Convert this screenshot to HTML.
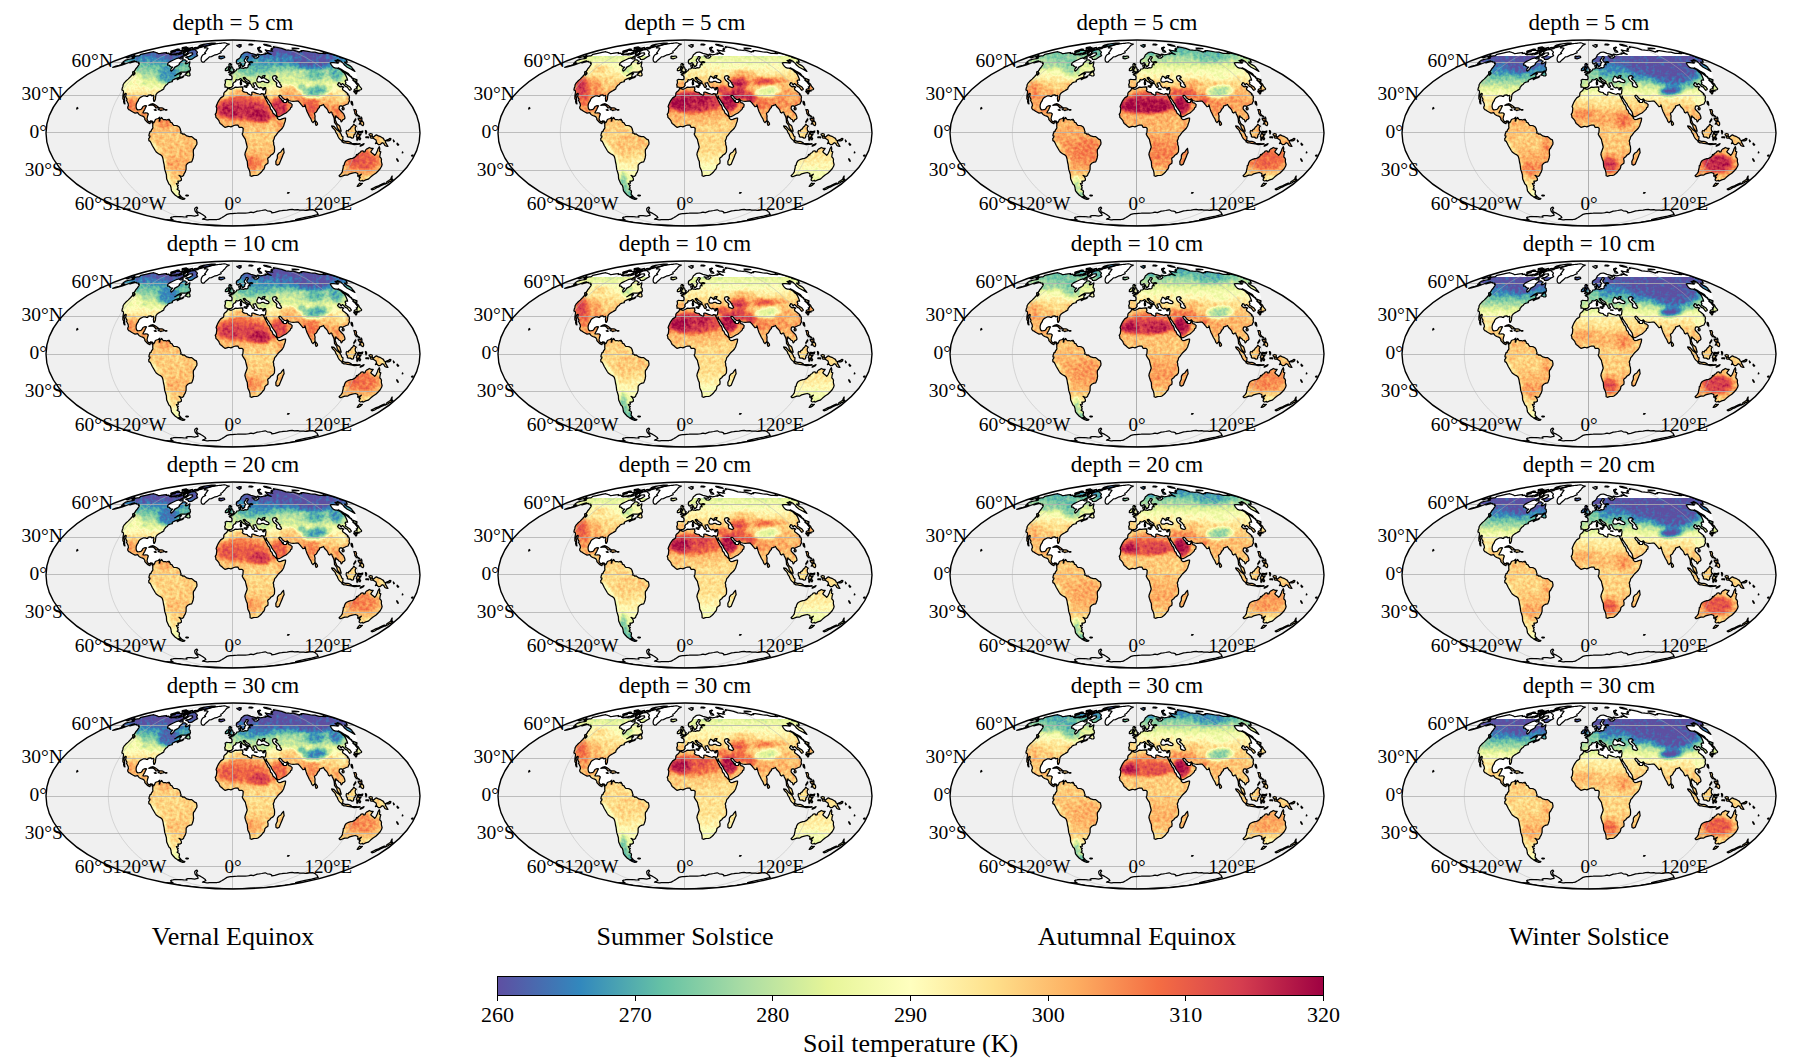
<!DOCTYPE html><html><head><meta charset="utf-8"><title>Soil temperature</title><style>html,body{margin:0;padding:0;background:#fff}svg{display:block}text{font-family:"Liberation Serif","Times New Roman",serif;fill:#000}</style></head><body>
<svg width="1794" height="1063" viewBox="0 0 1794 1063">
<defs>
<path id="land" d="M-100.0 -76.2L-95.7 -77.1L-94.2 -77.1L-92.9 -78.0L-92.2 -78.7L-87.2 -79.7L-83.0 -80.6L-79.1 -81.3L-78.1 -80.8L-77.0 -80.5L-75.9 -80.2L-75.2 -79.8L-74.4 -79.3L-72.4 -79.6L-69.0 -80.2L-66.6 -80.5L-66.9 -79.7L-64.3 -79.9L-63.7 -79.2L-63.3 -78.6L-61.8 -78.2L-59.8 -78.7L-58.1 -78.4L-56.9 -78.1L-54.7 -78.4L-52.9 -78.9L-50.8 -79.7L-47.2 -81.7L-47.5 -81.0L-48.9 -79.7L-49.6 -78.9L-49.4 -78.2L-48.3 -78.4L-45.6 -79.8L-44.0 -79.8L-44.9 -78.9L-47.3 -77.3L-49.2 -76.8L-50.7 -76.8L-52.8 -75.5L-55.0 -74.8L-56.9 -74.3L-60.1 -72.8L-62.9 -71.4L-65.1 -69.7L-65.5 -68.4L-65.5 -67.9L-63.9 -67.9L-63.2 -66.9L-62.1 -66.2L-60.3 -66.0L-62.2 -63.8L-62.3 -62.5L-61.8 -61.8L-60.3 -62.9L-58.7 -64.8L-58.5 -65.6L-55.8 -67.1L-53.8 -68.4L-53.6 -69.7L-51.6 -71.4L-50.1 -73.1L-48.4 -73.1L-47.5 -72.8L-46.9 -72.1L-45.9 -71.9L-47.7 -69.9L-47.2 -69.2L-45.4 -69.7L-43.1 -71.2L-43.3 -69.7L-43.7 -67.9L-44.0 -66.4L-42.8 -65.4L-42.8 -64.3L-42.5 -63.2L-42.9 -62.5L-44.6 -62.0L-47.2 -60.8L-49.5 -60.8L-52.3 -60.8L-54.7 -59.5L-56.9 -57.9L-58.2 -57.2L-56.3 -58.2L-53.5 -59.5L-51.8 -59.7L-51.5 -59.3L-53.1 -58.2L-53.0 -57.3L-53.3 -56.4L-52.3 -56.0L-51.0 -56.0L-49.2 -57.1L-49.5 -56.2L-50.9 -55.4L-53.4 -54.6L-55.7 -53.4L-55.9 -54.2L-53.8 -55.4L-55.1 -55.3L-56.2 -54.8L-58.4 -53.9L-60.2 -53.0L-60.9 -52.2L-60.6 -51.3L-62.1 -51.0L-63.6 -50.6L-64.8 -50.0L-65.6 -48.8L-67.1 -47.8L-68.4 -46.1L-69.0 -45.3L-69.2 -44.0L-70.7 -43.1L-72.2 -42.2L-73.7 -41.4L-75.7 -40.1L-77.0 -38.4L-77.4 -36.1L-77.6 -33.7L-78.5 -31.7L-79.3 -31.8L-79.4 -33.1L-79.6 -34.9L-79.1 -36.4L-79.5 -37.6L-81.2 -37.2L-82.0 -38.1L-83.9 -37.9L-85.0 -37.7L-85.3 -36.5L-86.4 -36.6L-87.6 -37.1L-89.3 -37.2L-90.8 -36.5L-92.9 -35.4L-94.2 -33.9L-94.9 -32.1L-96.1 -30.3L-96.8 -28.2L-96.9 -26.2L-96.5 -24.3L-95.4 -23.2L-93.5 -23.3L-92.0 -23.6L-90.9 -24.7L-90.0 -26.5L-87.9 -27.3L-86.4 -27.2L-87.5 -25.3L-88.3 -23.4L-89.1 -22.2L-90.1 -20.2L-88.8 -20.0L-87.2 -20.2L-85.7 -20.0L-84.7 -19.0L-85.5 -16.5L-86.0 -14.0L-85.4 -12.7L-84.7 -11.7L-83.5 -11.2L-82.2 -12.2L-80.9 -12.0L-79.9 -10.9L-80.4 -9.4L-80.9 -10.4L-81.7 -11.5L-82.6 -10.6L-83.1 -9.3L-84.2 -9.8L-85.5 -10.6L-86.3 -11.3L-87.3 -12.5L-88.2 -13.4L-88.1 -14.4L-89.3 -16.4L-90.4 -16.8L-92.3 -17.5L-94.0 -18.5L-95.3 -20.4L-97.9 -19.9L-99.7 -20.8L-101.5 -21.7L-102.8 -22.7L-104.2 -23.4L-105.2 -24.7L-105.3 -26.0L-104.6 -27.3L-104.8 -29.3L-105.6 -31.0L-106.4 -32.5L-106.0 -33.9L-106.8 -35.1L-107.4 -36.4L-107.0 -38.2L-106.7 -39.1L-107.8 -39.7L-108.9 -37.6L-108.7 -35.8L-108.5 -34.5L-108.3 -32.5L-108.4 -30.6L-108.0 -29.1L-108.7 -29.3L-109.4 -31.2L-109.2 -32.7L-110.1 -34.3L-110.1 -35.1L-110.1 -37.0L-109.9 -38.5L-109.5 -40.6L-109.6 -42.1L-110.3 -42.7L-111.1 -43.0L-110.7 -45.1L-110.1 -46.6L-109.9 -48.2L-109.0 -49.8L-107.3 -51.7L-104.9 -53.9L-102.3 -56.5L-100.5 -58.7L-99.1 -58.7L-99.7 -57.8L-98.1 -59.3L-98.0 -59.9L-98.4 -60.6L-99.0 -61.6L-97.8 -63.0L-97.2 -64.3L-96.0 -65.5L-95.1 -66.9L-94.0 -68.4L-93.7 -69.4L-94.6 -69.7L-94.0 -70.6L-95.1 -70.9L-96.6 -71.0L-96.6 -71.7L-98.1 -71.6L-100.4 -70.8L-102.9 -70.2L-103.4 -70.2L-100.7 -71.4L-98.5 -72.1L-100.6 -71.7L-104.0 -70.5L-106.5 -69.5L-110.5 -68.2L-114.0 -67.1L-117.6 -66.2L-120.3 -65.6L-117.1 -66.8L-113.8 -67.7L-110.2 -68.9L-108.1 -69.7L-109.7 -69.5L-110.4 -69.7L-111.4 -69.7L-109.2 -70.7L-110.1 -70.8L-109.4 -71.6L-107.9 -72.6L-104.7 -73.6L-102.6 -74.0L-100.4 -74.4L-98.4 -75.2L-99.6 -75.2L-100.8 -75.2L-100.0 -75.9ZM-35.8 -77.1L-38.3 -75.7L-41.1 -73.8L-43.1 -73.3L-44.4 -73.6L-44.8 -74.5L-45.5 -75.2L-47.3 -75.5L-46.2 -76.1L-43.6 -76.6L-41.3 -78.0L-40.2 -78.9L-40.7 -79.3L-40.6 -80.2L-41.6 -80.2L-42.9 -80.0L-44.8 -80.2L-45.6 -80.6L-45.7 -81.0L-43.6 -82.3L-41.6 -83.1L-39.2 -83.3L-37.4 -83.3L-37.3 -82.6L-36.6 -82.1L-35.9 -81.3L-35.6 -80.3L-36.4 -79.3L-36.0 -78.2L-35.3 -77.8ZM-54.0 -79.9L-57.0 -79.3L-59.1 -79.0L-61.0 -78.9L-61.9 -79.3L-62.6 -79.5L-61.6 -80.2L-60.5 -80.8L-57.7 -81.4L-58.2 -81.8L-56.8 -82.5L-54.1 -82.9L-53.2 -82.5L-51.0 -82.8L-50.0 -82.7L-51.5 -81.8L-52.0 -81.0L-52.9 -80.3ZM-61.9 -81.8L-57.5 -83.2L-55.7 -83.8L-53.9 -83.9L-53.6 -83.6L-54.6 -82.9L-57.0 -82.5L-60.7 -81.4L-62.3 -81.2ZM-17.4 -89.5L-17.7 -89.8L-18.4 -89.9L-19.1 -89.9L-20.3 -89.9L-21.5 -89.8L-23.0 -89.6L-24.6 -89.4L-26.8 -89.1L-30.1 -88.3L-32.2 -87.9L-33.9 -87.2L-33.7 -86.7L-32.3 -86.9L-35.3 -85.8L-35.1 -85.3L-33.2 -85.3L-31.3 -85.8L-29.7 -86.4L-27.0 -87.2L-24.7 -87.6L-22.3 -88.3L-19.5 -88.9ZM-35.2 -84.3L-38.2 -83.9L-40.2 -83.9L-40.4 -84.3L-38.6 -85.3L-36.6 -85.6L-35.8 -85.0L-34.4 -84.9ZM-46.1 -81.8L-48.7 -81.4L-49.3 -81.8L-48.5 -82.7L-45.8 -83.5L-44.0 -83.5L-44.7 -82.7ZM-46.2 -84.3L-49.2 -83.9L-50.5 -84.1L-50.3 -84.7L-47.5 -85.3L-45.4 -85.3L-44.6 -85.0ZM-50.3 -74.3L-52.2 -74.0L-53.5 -74.5L-53.2 -75.2L-50.7 -76.1L-50.1 -75.7L-49.7 -75.0ZM-48.1 -57.9L-46.4 -57.8L-45.5 -57.2L-43.9 -57.0L-42.9 -57.8L-43.0 -58.9L-43.3 -60.0L-43.9 -60.8L-43.0 -62.2L-44.3 -61.6L-46.0 -60.0L-47.4 -58.9ZM-99.4 -58.8L-100.2 -59.1L-100.4 -60.0L-100.1 -61.3L-99.1 -61.4L-98.7 -60.4L-98.8 -59.6ZM-84.2 -27.7L-81.9 -29.0L-79.9 -29.3L-78.2 -28.4L-76.5 -27.3L-75.2 -26.3L-74.1 -25.5L-75.5 -25.2L-77.5 -25.2L-77.8 -26.2L-79.0 -27.3L-80.7 -28.0L-82.3 -27.9ZM-74.8 -23.3L-73.3 -25.2L-71.5 -25.2L-70.1 -24.9L-68.7 -23.7L-69.9 -23.2L-71.5 -22.9L-72.3 -22.4L-73.3 -23.1ZM-78.8 -23.2L-77.4 -23.4L-76.7 -22.8L-77.8 -22.6ZM-67.6 -23.3L-66.1 -23.3L-66.3 -22.8L-67.7 -22.8ZM-79.9 -10.9L-79.3 -10.2L-78.3 -11.8L-77.6 -13.5L-76.5 -14.0L-74.9 -14.5L-73.2 -15.8L-73.7 -14.2L-73.5 -13.0L-73.8 -11.8L-73.1 -12.1L-73.2 -13.7L-71.8 -14.6L-71.5 -15.5L-70.6 -14.5L-69.9 -13.5L-67.8 -13.5L-66.4 -13.0L-64.7 -13.6L-63.6 -13.6L-64.1 -12.7L-62.8 -12.1L-62.7 -10.8L-60.9 -10.2L-60.3 -8.8L-59.2 -7.6L-57.0 -7.5L-55.4 -7.1L-53.7 -5.9L-52.9 -4.5L-52.4 -2.5L-51.9 -1.0L-52.6 -0.0L-50.9 0.3L-50.4 1.1L-48.8 0.9L-46.2 2.9L-43.6 3.6L-41.5 3.6L-39.9 4.7L-38.4 6.1L-36.6 6.8L-36.0 9.6L-36.2 11.5L-37.5 13.4L-38.4 15.3L-39.6 16.5L-39.7 19.0L-39.4 22.2L-39.8 24.7L-40.6 27.2L-41.3 28.8L-42.9 29.1L-44.3 29.8L-45.6 30.5L-46.8 32.1L-46.9 34.5L-46.9 36.4L-47.7 38.8L-48.8 40.6L-49.5 42.4L-50.6 43.3L-52.3 43.0L-54.0 42.4L-52.5 43.9L-51.7 45.3L-51.6 47.3L-53.3 48.1L-55.1 48.2L-54.5 50.2L-56.7 50.5L-55.9 51.9L-54.7 52.4L-55.5 53.4L-54.8 55.1L-55.9 56.2L-53.9 57.5L-53.5 58.4L-53.7 60.0L-54.0 61.1L-52.3 63.0L-53.0 63.1L-53.7 63.5L-54.2 64.1L-55.8 63.5L-57.7 62.2L-59.8 60.0L-61.5 57.8L-61.8 56.2L-62.0 54.5L-62.7 52.2L-64.1 51.1L-65.1 48.8L-66.3 46.1L-66.5 44.1L-66.6 41.8L-67.5 38.8L-68.3 36.4L-68.6 33.9L-68.9 31.5L-69.5 29.0L-70.0 25.9L-70.8 23.2L-72.2 21.9L-74.4 20.7L-76.8 19.0L-77.8 17.5L-79.1 15.3L-80.6 12.7L-81.8 10.2L-82.8 8.4L-84.1 7.6L-84.3 5.7L-83.3 4.3L-83.0 3.2L-84.1 2.8L-83.9 1.3L-83.2 -0.4L-83.1 -1.1L-81.8 -1.9L-81.5 -3.2L-80.4 -4.5L-80.1 -5.4L-80.3 -7.0L-80.1 -8.5L-80.5 -9.2ZM-52.2 63.3L-51.4 64.1L-50.3 64.8L-48.1 65.5L-48.6 66.1L-50.2 66.4L-52.8 65.4L-55.2 64.3L-53.4 64.6L-53.2 63.8L-52.8 64.4L-52.3 64.2ZM-47.2 62.4L-46.1 62.0L-44.6 62.3L-45.1 63.0L-46.5 62.9ZM-5.4 -44.5L-4.8 -44.6L-2.7 -43.9L-1.8 -43.7L0.0 -44.5L1.4 -45.3L2.7 -45.8L4.5 -45.7L6.3 -45.9L8.8 -46.2L9.9 -45.9L9.6 -44.7L10.0 -43.5L9.3 -42.4L10.3 -41.4L11.7 -40.9L14.2 -40.5L14.8 -39.4L17.1 -38.2L18.5 -37.9L18.9 -38.8L18.8 -40.6L20.0 -41.0L21.7 -40.3L23.5 -39.6L25.9 -39.0L27.4 -38.7L28.7 -39.4L30.2 -39.1L30.8 -37.8L31.0 -37.4L32.0 -35.4L33.0 -33.3L34.3 -30.9L35.1 -29.0L36.5 -27.8L37.1 -25.9L37.6 -23.8L38.9 -22.8L40.1 -19.7L41.8 -18.4L43.8 -16.3L44.3 -15.6L44.4 -14.6L45.8 -13.4L47.8 -13.7L49.8 -14.4L51.8 -15.0L52.6 -15.0L52.5 -13.4L52.1 -11.5L51.4 -9.6L50.6 -7.0L49.3 -4.8L47.8 -3.2L45.7 -1.3L44.2 0.6L42.9 2.5L41.7 3.6L41.2 5.7L40.2 8.0L40.7 9.6L40.7 11.5L41.4 13.4L41.6 15.9L41.4 19.0L40.0 20.9L37.8 22.2L36.7 23.8L35.0 25.0L34.6 25.9L35.1 27.8L34.9 30.3L32.7 31.8L31.9 32.7L31.6 34.5L31.0 36.0L29.7 37.3L28.5 39.0L26.6 40.8L25.0 42.0L23.8 42.4L21.7 42.5L20.3 42.6L18.4 43.3L17.1 42.7L17.1 40.8L16.9 39.4L16.4 37.3L15.7 35.9L14.8 33.9L14.5 31.5L14.3 28.6L13.4 26.5L12.4 23.4L11.9 21.5L12.2 19.7L13.6 16.1L14.2 14.0L13.6 11.5L12.7 7.9L12.4 6.4L11.4 4.8L10.1 2.9L9.2 1.0L9.9 -0.6L10.1 -2.9L10.2 -4.5L9.1 -5.7L7.5 -5.6L6.2 -5.5L5.2 -7.4L4.7 -8.0L2.6 -8.0L1.0 -7.5L-1.0 -6.6L-2.1 -6.1L-3.3 -6.5L-4.7 -6.6L-7.8 -5.6L-9.5 -6.8L-11.4 -8.4L-12.9 -9.6L-13.7 -11.2L-14.1 -12.3L-15.1 -13.6L-15.6 -14.2L-17.1 -15.6L-17.2 -17.1L-17.8 -18.7L-16.7 -20.3L-16.4 -22.8L-16.2 -24.7L-16.9 -26.5L-16.1 -28.4L-15.5 -30.0L-14.4 -32.1L-13.0 -34.2L-12.3 -35.1L-10.7 -36.1L-9.5 -37.0L-9.2 -38.4L-9.2 -39.4L-8.6 -40.7L-7.0 -41.9L-6.0 -43.0ZM50.5 15.3L51.1 19.7L50.1 21.5L49.2 24.1L47.6 27.8L46.2 31.2L44.4 32.1L43.0 31.5L42.8 28.4L44.3 25.3L44.4 22.2L45.6 20.3L47.8 19.0L49.0 17.1ZM-4.9 -44.8L-4.0 -45.5L-2.0 -45.5L-0.6 -46.6L0.2 -47.9L-0.3 -48.8L0.8 -50.5L2.8 -51.6L2.7 -52.8L3.4 -53.4L4.7 -53.0L6.4 -53.6L7.4 -54.4L8.6 -53.8L9.0 -52.7L10.7 -51.3L12.0 -50.8L13.7 -49.4L14.0 -48.1L14.1 -47.1L14.7 -47.4L15.2 -48.2L14.7 -49.0L14.9 -50.0L16.2 -49.4L16.3 -49.6L15.7 -50.2L13.9 -51.1L13.8 -51.6L12.7 -51.8L11.6 -53.4L10.5 -54.2L10.3 -55.3L11.4 -55.7L11.4 -54.9L12.1 -55.3L12.8 -54.2L14.1 -53.3L15.1 -52.7L15.9 -52.1L16.8 -51.4L17.0 -50.0L17.7 -49.0L18.7 -47.6L19.2 -46.5L19.6 -45.7L20.4 -45.3L20.9 -45.3L20.8 -46.5L21.6 -46.7L21.0 -47.6L20.2 -48.6L20.1 -49.8L21.0 -50.0L22.7 -50.3L23.2 -48.8L23.8 -47.6L24.6 -46.2L25.5 -45.5L26.8 -45.0L27.7 -45.7L29.1 -44.8L30.6 -45.0L31.5 -45.5L32.6 -45.5L32.8 -44.1L33.0 -43.0L32.7 -41.2L32.6 -39.7L32.2 -39.1L31.1 -38.9L30.6 -39.0L31.0 -37.4L31.8 -35.8L32.9 -34.9L33.2 -37.0L33.7 -35.1L35.5 -32.7L36.5 -30.9L38.0 -29.0L38.8 -27.2L40.2 -25.0L41.8 -22.8L43.1 -20.9L43.6 -18.8L44.4 -16.1L46.0 -16.3L48.5 -17.5L50.4 -18.7L53.0 -20.0L54.6 -21.4L55.9 -22.6L57.2 -23.9L57.7 -25.5L58.7 -25.9L59.2 -28.4L57.7 -29.8L56.0 -30.3L55.1 -31.5L54.8 -33.1L54.5 -32.7L53.8 -32.1L53.5 -30.6L51.5 -30.5L50.6 -30.7L50.2 -32.5L49.6 -32.7L49.7 -31.4L48.9 -32.5L48.4 -33.7L46.9 -35.1L45.8 -37.0L46.2 -37.6L47.5 -37.7L48.6 -36.4L49.6 -35.0L51.3 -33.7L53.1 -33.4L54.4 -34.1L55.7 -32.5L57.6 -32.0L60.1 -31.7L62.5 -31.8L64.9 -32.0L65.9 -31.1L67.1 -29.9L68.3 -28.3L69.9 -26.4L71.7 -26.5L71.9 -28.2L73.1 -24.1L74.0 -21.5L74.9 -19.7L76.4 -16.5L77.8 -14.4L78.8 -11.7L80.0 -10.3L80.6 -11.2L81.4 -11.8L82.1 -13.1L81.9 -15.3L82.1 -16.8L81.4 -19.4L82.1 -20.3L83.3 -21.0L84.2 -22.6L85.2 -24.4L86.4 -25.5L86.5 -26.9L87.9 -27.4L89.2 -27.8L90.5 -28.5L91.6 -26.5L92.8 -25.3L94.5 -23.4L95.6 -20.5L96.7 -20.0L97.7 -20.9L98.7 -20.9L99.3 -19.0L100.3 -17.1L101.0 -15.3L101.4 -12.7L101.5 -10.6L102.9 -8.7L103.8 -7.6L104.1 -5.7L105.2 -3.7L106.4 -2.5L107.5 -1.8L108.2 -1.8L107.8 -3.4L107.3 -5.1L106.7 -7.0L105.6 -8.0L104.5 -8.8L103.6 -9.9L102.9 -11.8L102.1 -13.4L102.4 -15.3L102.2 -16.9L103.1 -17.0L103.3 -16.1L104.8 -15.4L105.8 -14.0L107.5 -13.2L108.1 -11.1L108.8 -11.5L109.7 -13.1L111.0 -13.7L112.0 -15.0L111.6 -17.1L110.5 -19.4L108.7 -21.2L107.3 -22.7L106.1 -24.1L106.2 -25.3L106.4 -26.3L107.3 -27.2L108.8 -27.2L109.8 -25.7L109.9 -26.8L111.1 -27.5L112.4 -28.0L113.2 -28.5L115.0 -29.0L115.7 -30.7L116.5 -32.1L116.1 -33.9L116.5 -35.8L115.9 -37.6L114.5 -38.4L115.0 -39.0L114.0 -40.0L111.9 -41.8L109.7 -43.3L109.5 -44.7L110.7 -45.9L108.8 -46.6L107.3 -46.1L105.3 -47.6L104.6 -48.5L105.3 -49.3L105.8 -50.4L106.9 -50.0L107.8 -48.2L108.1 -48.0L108.9 -49.1L109.5 -49.4L111.7 -47.6L112.3 -46.7L114.3 -45.9L115.9 -43.5L116.8 -42.7L117.7 -43.3L118.4 -43.9L117.0 -45.9L114.6 -47.6L112.4 -49.1L112.9 -50.5L112.1 -51.9L112.4 -52.5L113.1 -53.0L114.6 -52.8L114.1 -54.5L113.4 -56.2L112.7 -57.8L111.3 -60.0L109.3 -61.6L107.7 -63.2L106.2 -64.1L103.9 -64.8L102.5 -64.8L100.5 -65.6L99.3 -66.9L98.0 -68.7L97.3 -70.1L98.9 -70.3L100.8 -70.4L103.2 -70.2L104.5 -69.9L105.6 -70.2L103.9 -70.9L102.1 -72.5L103.4 -72.7L106.2 -71.7L104.2 -73.3L105.2 -73.1L107.6 -71.9L108.8 -70.9L110.5 -69.4L111.5 -67.9L114.2 -65.8L118.0 -63.8L121.9 -61.6L120.9 -63.0L119.2 -64.8L118.8 -65.8L116.7 -67.4L113.9 -68.9L112.1 -70.2L111.6 -70.9L114.3 -70.9L113.7 -71.9L113.4 -72.6L113.4 -73.3L114.7 -73.3L110.6 -74.8L107.9 -75.4L106.5 -76.1L108.1 -75.9L98.0 -79.2L93.6 -79.9L90.1 -80.2L92.3 -79.3L88.8 -79.7L86.1 -79.7L81.9 -80.8L80.0 -80.9L78.1 -81.0L74.8 -81.6L70.3 -82.3L67.9 -82.3L68.7 -81.4L66.7 -81.4L66.5 -80.9L63.6 -81.8L59.3 -83.1L58.5 -82.7L56.2 -82.8L52.8 -83.2L48.6 -84.7L44.0 -85.6L40.4 -86.3L41.1 -85.4L40.0 -85.0L39.1 -84.8L38.2 -84.5L39.4 -83.5L37.8 -83.1L39.7 -81.8L37.5 -81.8L36.0 -82.5L34.8 -82.5L32.2 -83.1L34.2 -81.0L36.4 -79.3L38.2 -78.7L35.0 -79.6L32.1 -80.0L33.0 -78.9L30.3 -78.9L30.0 -78.6L27.3 -78.1L25.8 -78.7L24.2 -78.9L25.3 -77.1L25.9 -76.6L24.7 -75.3L23.5 -74.8L21.5 -75.0L20.6 -76.1L19.1 -77.2L21.0 -76.9L23.4 -76.8L23.5 -77.5L23.2 -78.1L20.9 -78.9L17.9 -79.7L16.2 -80.3L14.3 -81.0L11.9 -80.6L10.6 -80.0L9.6 -79.0L8.4 -78.2L7.9 -76.9L7.2 -75.7L6.5 -74.8L5.3 -74.0L3.9 -73.1L3.3 -71.9L3.5 -70.4L4.0 -69.4L5.2 -68.9L6.2 -69.7L7.1 -70.4L7.7 -69.7L8.3 -68.7L9.1 -67.1L9.5 -66.3L10.4 -66.5L10.4 -67.1L11.6 -67.3L11.7 -68.7L12.0 -69.7L12.7 -70.5L11.6 -71.6L11.2 -72.8L11.7 -73.8L12.7 -74.6L13.0 -75.7L13.3 -76.4L14.5 -76.4L15.3 -75.7L15.0 -75.0L14.2 -74.0L13.7 -73.1L14.2 -71.9L15.3 -70.9L16.7 -71.1L18.3 -71.4L19.8 -70.9L19.0 -70.4L16.7 -70.3L16.2 -69.7L16.9 -69.1L17.1 -68.0L15.8 -68.5L15.1 -67.9L15.2 -66.7L14.7 -65.5L13.8 -65.2L12.2 -65.3L10.6 -64.7L8.9 -65.0L8.1 -64.8L7.4 -65.4L7.6 -66.4L7.4 -68.5L6.7 -68.0L5.8 -67.7L6.0 -66.4L6.5 -65.1L6.4 -64.5L5.3 -64.2L3.8 -64.0L3.5 -63.2L2.8 -62.2L1.9 -61.7L1.3 -61.1L1.1 -60.7L0.2 -60.1L-1.0 -59.9L-1.3 -60.2L-1.2 -59.1L-2.4 -59.3L-3.8 -58.8L-3.5 -58.2L-2.2 -57.7L-1.6 -57.1L-1.0 -56.2L-1.0 -54.5L-1.4 -53.3L-3.0 -53.4L-4.7 -53.5L-6.8 -53.6L-7.9 -52.8L-7.6 -51.4L-7.6 -50.0L-8.4 -48.0L-7.9 -47.3L-8.0 -45.9L-6.8 -46.0L-5.8 -45.7L-5.5 -45.0ZM-108.1 -75.9L-105.6 -76.1L-106.5 -75.5L-105.9 -75.1L-103.1 -76.0L-100.1 -76.6L-98.2 -77.5L-99.1 -78.0L-98.3 -78.8L-98.0 -79.2ZM-4.5 -60.7L-2.7 -60.9L-1.6 -61.2L0.2 -61.4L1.1 -61.8L0.6 -62.3L1.3 -63.3L0.2 -63.8L0.0 -64.4L-0.1 -65.0L-1.0 -65.6L-1.2 -66.6L-1.8 -66.9L-2.4 -67.0L-1.4 -68.5L-2.5 -68.6L-2.1 -69.5L-3.5 -69.5L-4.1 -68.4L-4.0 -67.2L-3.6 -66.4L-3.5 -65.6L-2.4 -65.6L-2.2 -64.6L-2.4 -64.1L-3.4 -64.1L-3.4 -63.3L-3.9 -62.5L-2.7 -62.1L-2.3 -62.0L-3.3 -61.7ZM-4.6 -64.1L-4.8 -62.9L-6.4 -62.4L-7.7 -62.4L-7.5 -64.2L-6.3 -65.1L-6.0 -66.0L-4.5 -66.1L-4.1 -65.3ZM-14.3 -76.1L-13.5 -75.0L-13.9 -74.7L-11.9 -74.2L-9.2 -75.0L-8.2 -75.7L-8.8 -76.8L-10.5 -76.8L-12.2 -76.3L-13.1 -77.0ZM3.8 -87.6L5.5 -86.2L6.9 -85.6L7.2 -86.5L8.2 -86.7L7.3 -87.6L8.4 -88.1L6.5 -88.3L5.1 -87.9ZM26.3 -81.0L27.3 -80.8L28.8 -80.8L28.4 -81.8L26.2 -83.1L26.0 -83.9L26.4 -84.8L27.0 -85.2L27.5 -85.6L26.5 -85.8L25.7 -85.5L24.9 -85.3L24.6 -84.3L25.4 -82.9L25.9 -81.8ZM34.6 -87.2L38.1 -86.5L37.5 -87.2L33.4 -88.3L30.7 -88.6L31.8 -87.9ZM60.2 -84.3L63.0 -84.1L63.7 -84.3L64.5 -84.4L65.9 -84.3L61.4 -85.0L60.2 -85.0L58.9 -85.0ZM16.0 -88.1L17.3 -88.0L18.6 -87.9L19.4 -88.2L20.0 -88.4L18.3 -88.9L17.2 -88.8L16.1 -88.8ZM11.2 -47.1L13.9 -47.3L13.8 -45.7L12.6 -45.9L11.2 -46.6ZM7.2 -50.4L8.5 -50.6L8.6 -48.5L7.6 -48.2L7.4 -49.4ZM7.5 -52.4L8.1 -52.7L8.2 -51.1L7.6 -51.2ZM21.6 -44.1L24.0 -43.9L23.9 -43.5L21.6 -43.8ZM29.7 -43.5L31.5 -44.3L31.2 -43.4L30.2 -43.1ZM82.2 -12.1L82.9 -12.0L84.2 -10.2L84.6 -8.9L83.8 -7.9L83.0 -7.6L82.5 -8.9ZM105.3 -65.1L108.2 -63.8L111.5 -61.6L115.4 -59.5L117.0 -57.3L118.6 -56.2L117.3 -56.4L114.8 -58.4L112.1 -60.6L108.8 -62.7L106.6 -64.3ZM121.8 -51.1L121.2 -52.2L123.8 -51.7L124.0 -53.1L122.1 -53.9L118.4 -55.5L120.4 -53.4L119.9 -52.8ZM121.1 -42.4L122.2 -42.2L123.2 -42.7L124.4 -43.0L126.0 -41.8L126.1 -43.0L127.4 -43.2L128.5 -43.5L128.6 -44.4L126.3 -47.1L125.6 -48.8L123.0 -50.9L122.4 -50.5L123.5 -49.1L124.7 -47.4L124.3 -45.8L123.2 -46.2L124.1 -44.5L122.1 -44.1L121.1 -43.1ZM120.7 -41.4L121.3 -42.1L122.9 -41.2L123.7 -39.3L123.0 -39.0L121.5 -40.6ZM122.8 -42.0L123.9 -42.7L124.7 -42.0L124.1 -40.9ZM118.2 -31.7L119.3 -31.2L119.7 -29.0L119.8 -27.8L118.5 -29.0L118.1 -30.5ZM109.0 -24.4L109.9 -25.4L111.1 -24.9L110.9 -23.4L109.7 -23.2ZM120.9 -23.4L122.7 -23.4L123.6 -21.5L123.3 -20.0L124.5 -18.0L126.8 -16.5L126.9 -15.9L125.1 -17.1L123.5 -17.4L122.7 -18.4L121.8 -19.7L121.8 -20.9ZM126.2 -8.9L127.4 -10.9L129.3 -12.1L130.6 -10.2L130.6 -8.3L130.0 -7.3L128.3 -8.3L127.6 -9.6ZM125.1 -15.0L126.4 -14.6L127.4 -14.0L128.5 -15.9L129.0 -14.0L128.6 -12.7L127.5 -12.1L126.7 -11.8L126.1 -12.7L125.4 -13.4ZM121.0 -10.7L122.1 -12.1L122.8 -13.7L122.5 -14.2L121.5 -12.5L120.7 -11.1ZM113.2 -1.9L113.9 -2.5L115.3 -2.0L115.8 -3.4L117.3 -4.1L118.2 -5.7L119.7 -7.0L120.8 -8.9L121.6 -8.0L123.3 -6.8L122.4 -5.7L122.2 -4.5L122.5 -2.5L123.6 -1.3L122.4 -0.6L122.1 1.0L121.0 1.9L120.7 3.8L120.3 4.8L118.9 5.1L117.3 4.1L115.7 4.2L114.4 3.6L114.3 1.9L113.4 0.6L113.2 -0.6ZM98.7 -7.1L101.0 -6.6L102.0 -5.4L103.8 -3.3L104.9 -2.5L106.5 -1.3L107.5 -0.0L108.3 1.5L108.7 2.9L110.0 3.8L109.8 6.4L109.2 7.5L108.2 7.3L106.8 6.1L105.8 4.8L104.9 3.2L104.2 1.3L102.8 -0.6L102.3 -2.3L101.0 -3.8L99.9 -5.0L98.8 -6.4ZM108.8 8.7L110.3 7.6L112.3 8.3L114.3 8.3L114.9 8.3L116.5 8.9L118.3 9.8L118.1 10.9L116.6 10.6L114.6 10.4L112.6 9.8L111.1 9.8L109.9 9.3ZM118.7 10.4L120.8 10.6L122.8 10.7L124.9 10.8L127.0 10.6L126.9 11.2L124.8 11.3L122.7 11.5L120.6 11.5L119.1 11.2ZM127.0 13.1L128.3 11.8L131.1 10.7L130.4 11.7L128.6 12.7L127.5 13.1ZM123.8 7.0L123.9 4.5L123.3 3.4L124.2 1.0L124.7 -0.9L125.7 -1.7L127.8 -1.3L129.8 -2.0L129.3 -0.5L127.8 -0.5L125.7 -0.5L125.0 1.0L126.0 1.3L128.1 1.0L127.5 2.2L126.4 2.4L126.9 4.2L127.7 5.7L126.9 6.9L126.2 6.0L125.6 3.8L125.0 3.8L124.8 7.0ZM132.4 -2.5L133.5 -1.9L133.6 -0.4L133.0 1.0L132.7 -0.6ZM132.9 3.8L135.5 3.8L135.7 4.8L133.9 4.5L132.8 4.5ZM136.1 1.0L137.7 0.5L139.2 1.0L139.3 3.2L140.3 4.2L142.3 2.5L143.3 1.9L145.4 2.9L146.9 3.3L148.9 4.5L150.4 5.4L151.2 7.0L153.0 7.9L152.2 8.9L153.1 10.4L154.4 12.5L154.9 13.4L153.3 13.1L151.9 12.5L150.7 10.4L149.3 9.7L148.1 10.8L146.9 11.7L145.3 11.6L144.1 10.2L142.4 10.6L143.5 8.9L143.0 7.0L141.0 5.7L139.0 5.0L137.8 5.1L137.2 3.6L138.6 3.1L137.1 2.7L136.1 1.8ZM153.6 7.1L155.5 6.4L157.1 5.4L157.9 5.5L157.5 7.0L155.8 7.9L154.2 7.9ZM160.3 7.0L161.4 8.3L160.8 8.8ZM164.2 10.2L165.7 11.8L165.0 12.3L164.0 11.1ZM163.8 25.5L164.9 27.2L165.4 28.2L164.7 28.2L163.8 26.5ZM178.9 22.2L180.2 22.2L179.6 23.1L178.5 22.9ZM169.5 18.8L169.9 19.7L169.3 19.8ZM-155.8 -25.5L-155.1 -24.8L-156.2 -23.9L-156.2 -24.8ZM112.5 28.4L113.3 27.5L115.6 26.3L117.8 25.7L119.5 25.3L121.2 24.7L123.2 22.8L123.5 21.5L124.7 21.9L125.3 20.5L126.9 19.7L128.4 18.0L130.0 17.8L130.5 18.9L132.0 18.8L132.5 17.1L133.8 15.9L135.2 15.4L136.2 14.5L138.3 15.4L140.2 15.4L138.9 17.1L137.8 18.9L139.0 20.0L140.6 21.3L141.7 22.3L143.3 20.3L144.4 17.8L145.0 15.9L146.4 13.7L146.8 15.9L146.4 18.2L147.8 18.9L147.1 21.3L146.8 23.9L147.9 25.0L148.5 26.3L148.3 28.2L148.6 29.6L149.1 31.5L148.6 33.3L147.2 35.8L144.9 38.2L142.8 40.3L140.1 42.1L137.6 44.1L135.2 46.2L132.7 46.9L130.0 48.2L129.6 47.4L127.7 48.0L126.4 47.5L126.1 46.4L127.2 44.4L126.1 44.3L126.5 43.3L128.4 41.2L126.9 42.1L125.0 43.3L124.7 43.0L125.0 40.9L123.8 40.0L122.3 39.5L119.4 40.2L116.6 40.9L115.1 41.8L114.1 42.2L112.1 42.1L110.3 42.7L108.3 43.5L106.9 43.5L106.1 42.7L108.1 40.6L109.3 38.8L109.6 37.0L110.2 34.5L110.3 32.5L111.2 32.1L111.5 30.3ZM126.6 50.2L127.7 50.6L129.4 50.4L127.8 51.9L125.7 53.1L124.2 53.4L124.9 52.2ZM159.1 43.0L159.1 44.1L158.2 45.7L159.2 45.5L158.4 46.6L160.0 46.6L159.1 47.6L156.8 48.6L155.2 49.7L152.0 51.2L151.9 50.9L154.0 49.6L153.8 48.7L155.8 47.6L157.3 46.5L158.0 45.3L158.6 43.8ZM151.3 50.0L151.3 51.1L147.9 52.8L146.0 53.8L144.1 54.5L141.2 56.2L139.0 56.8L138.4 56.4L138.2 56.0L141.9 54.2L145.4 52.8L148.4 51.4ZM54.9 59.5L56.2 59.6L55.4 60.2L54.5 60.1ZM-47.8 -81.8L-50.2 -81.4L-49.4 -82.3L-46.2 -83.3L-45.3 -83.1ZM-43.9 -82.3L-46.4 -82.1L-43.7 -83.5L-41.8 -83.6L-42.0 -83.1ZM-43.1 -84.3L-44.4 -84.3L-43.3 -85.0L-40.5 -85.6L-40.8 -85.0ZM-32.3 -86.9L-34.1 -86.9L-32.5 -87.9L-28.8 -88.8L-29.2 -88.1ZM-52.7 -78.9L-54.1 -79.1L-53.1 -79.8L-51.3 -80.1L-51.5 -79.5ZM-48.8 -85.0L-50.9 -84.9L-50.6 -85.4L-46.6 -86.2L-46.5 -85.8Z"/>
<path id="gl" d="M-27.5 -86.7L-28.1 -85.8L-28.6 -85.0L-26.4 -85.1L-25.0 -84.7L-26.2 -83.1L-27.3 -81.4L-28.4 -80.2L-27.4 -79.6L-30.3 -78.0L-31.2 -76.6L-31.8 -74.8L-31.9 -73.3L-31.6 -71.9L-30.6 -70.9L-29.0 -70.9L-27.3 -72.8L-25.0 -74.8L-23.6 -76.1L-21.6 -76.4L-18.8 -77.8L-15.5 -78.7L-13.4 -79.7L-11.8 -80.3L-12.2 -81.7L-10.5 -82.5L-9.7 -83.7L-8.2 -85.0L-7.2 -86.5L-5.9 -87.9L-3.7 -88.9L-4.7 -89.1L-5.8 -89.4L-6.6 -89.7L-7.3 -90.0L-8.3 -90.1L-9.2 -90.1L-10.2 -90.0L-11.2 -89.9L-12.3 -89.7L-13.4 -89.6L-14.5 -89.5L-15.7 -89.4L-17.3 -89.2L-18.9 -88.9L-21.6 -88.3L-23.8 -87.6L-25.6 -87.2Z"/>
<path id="ant" d="M-67.8 86.7L-66.2 86.7L-64.6 86.8L-63.0 86.9L-62.0 86.8L-61.0 86.8L-60.0 86.7L-62.0 85.9L-61.8 85.7L-61.7 85.4L-62.4 84.7L-61.8 84.4L-61.2 84.1L-60.1 83.9L-59.1 83.6L-57.5 83.6L-55.9 83.5L-54.3 83.5L-52.7 83.5L-49.4 83.9L-47.7 84.0L-46.1 84.1L-46.7 83.1L-45.2 82.7L-43.5 82.7L-41.9 82.7L-40.1 82.9L-38.3 83.1L-36.6 82.7L-34.9 82.3L-35.2 81.0L-36.9 79.3L-37.9 78.0L-38.3 76.6L-38.2 75.5L-37.3 74.6L-36.1 74.1L-35.4 75.2L-36.4 76.1L-36.2 77.5L-35.8 78.9L-32.7 80.2L-30.1 81.8L-27.7 83.5L-27.1 84.7L-28.0 85.0L-28.8 85.4L-29.7 85.8L-30.5 86.2L-28.2 86.5L-25.9 86.9L-24.9 86.8L-23.9 86.6L-22.9 86.5L-21.6 86.5L-20.3 86.5L-19.1 86.5L-17.5 86.5L-16.0 86.5L-14.9 86.3L-13.7 86.2L-12.8 85.6L-11.8 85.0L-10.9 84.5L-9.9 83.9L-8.1 82.7L-6.0 81.4L-4.1 80.8L-2.6 80.7L-1.0 80.6L1.6 80.3L4.2 80.2L6.9 80.0L8.7 80.1L10.5 80.2L12.4 80.1L14.3 80.0L16.1 79.6L18.0 79.1L20.3 79.7L24.2 78.2L26.4 77.9L28.7 77.5L32.2 76.8L34.2 77.8L36.7 78.1L38.6 78.9L38.8 79.9L41.8 79.3L46.7 77.8L48.7 77.6L50.8 77.3L54.1 77.1L56.6 76.7L59.2 76.4L61.4 76.9L64.8 76.6L66.5 77.2L68.6 77.2L70.6 77.2L72.2 77.3L73.9 77.3L76.7 77.0L79.5 76.6L81.0 77.2L82.6 77.8L83.1 78.7L84.2 79.3L84.3 80.2L84.7 80.8L85.3 81.4L78.5 83.1L72.1 84.3L65.4 85.8L62.6 86.7L64.0 86.6L65.5 86.5L66.7 86.6L67.8 86.7L52.1 89.3L33.0 91.5L0.0 93.0L0.0 93.0L0.0 93.0L0.0 93.0L0.0 93.0L0.0 93.0L0.0 93.0L0.0 93.0L0.0 93.0L0.0 93.0L0.0 93.0L0.0 93.0L0.0 93.0L0.0 93.0L0.0 93.0L0.0 93.0L0.0 93.0L0.0 93.0L0.0 93.0L0.0 93.0L0.0 93.0L0.0 93.0L0.0 93.0L0.0 93.0L0.0 93.0L0.0 93.0L0.0 93.0L0.0 93.0L0.0 93.0L0.0 93.0L0.0 93.0L0.0 93.0L0.0 93.0L0.0 93.0L0.0 93.0L0.0 93.0L0.0 93.0L0.0 93.0L0.0 93.0L0.0 93.0L0.0 93.0L0.0 93.0L0.0 93.0L0.0 93.0L0.0 93.0L0.0 93.0L0.0 93.0L0.0 93.0L0.0 93.0L0.0 93.0L0.0 93.0L0.0 93.0L0.0 93.0L0.0 93.0L0.0 93.0L0.0 93.0L0.0 93.0L0.0 93.0L0.0 93.0L0.0 93.0L0.0 93.0L-0.0 93.0L-0.0 93.0L-0.0 93.0L-0.0 93.0L-0.0 93.0L-0.0 93.0L-0.0 93.0L-0.0 93.0L-0.0 93.0L-0.0 93.0L-0.0 93.0L-0.0 93.0L-0.0 93.0L-0.0 93.0L-0.0 93.0L-0.0 93.0L-0.0 93.0L-0.0 93.0L-0.0 93.0L-0.0 93.0L-0.0 93.0L-0.0 93.0L-0.0 93.0L-0.0 93.0L-0.0 93.0L-0.0 93.0L-0.0 93.0L-0.0 93.0L-0.0 93.0L-0.0 93.0L-0.0 93.0L-0.0 93.0L-0.0 93.0L-0.0 93.0L-0.0 93.0L-0.0 93.0L-0.0 93.0L-0.0 93.0L-0.0 93.0L-0.0 93.0L-0.0 93.0L-0.0 93.0L-0.0 93.0L-0.0 93.0L-0.0 93.0L-0.0 93.0L-0.0 93.0L-0.0 93.0L-0.0 93.0L-0.0 93.0L-0.0 93.0L-0.0 93.0L-0.0 93.0L-0.0 93.0L-0.0 93.0L-0.0 93.0L-0.0 93.0L-0.0 93.0L-0.0 93.0L-0.0 93.0L-33.0 91.5L-52.1 89.3Z"/>
<path id="holes" d="M25.2 -50.8L27.4 -50.8L28.9 -51.7L30.4 -51.7L31.7 -50.9L33.6 -50.5L35.3 -50.5L36.1 -51.2L35.6 -52.5L33.9 -53.4L32.3 -54.3L31.4 -55.1L30.5 -55.4L29.7 -55.1L28.7 -54.4L28.0 -55.1L27.2 -56.0L25.9 -56.8L25.4 -56.7L24.8 -55.4L24.2 -54.2L23.8 -53.0L24.0 -52.0L24.5 -51.2ZM29.1 -55.7L29.1 -56.5L29.9 -57.1L31.2 -57.4L32.1 -57.3L31.5 -56.2L31.1 -55.5L30.3 -55.5ZM39.5 -55.6L40.2 -57.0L42.1 -57.3L43.6 -56.7L44.2 -55.4L42.9 -55.1L43.0 -54.3L42.4 -54.3L44.0 -53.0L45.1 -52.2L45.8 -51.1L47.0 -50.3L46.7 -49.4L47.9 -48.0L48.6 -46.2L47.1 -45.5L45.3 -46.2L44.1 -46.6L43.5 -48.0L43.4 -49.7L44.1 -49.8L43.0 -50.9L41.9 -51.7L40.5 -53.0L39.7 -54.5Z"/>
<path id="ws" d="M-105.1 -75.2L-97.3 -78.0L-88.8 -80.7L-79.7 -83.2L-69.9 -85.6L-58.9 -87.8L-46.7 -89.8L-32.2 -91.5L-12.7 -92.8L-12.5 -92.8L-12.2 -92.8L-12.0 -92.8L-11.8 -92.8L-11.6 -92.8L-11.3 -92.8L-11.1 -92.8L-10.9 -92.8L-10.7 -92.8L-10.4 -92.8L-10.2 -92.8L-10.0 -92.8L-9.8 -92.8L-9.6 -92.8L-9.3 -92.8L-9.1 -92.8L-8.9 -92.8L-8.7 -92.8L-8.4 -92.8L-8.2 -92.8L-8.0 -92.8L-7.8 -92.8L-7.5 -92.8L-7.3 -92.8L-7.1 -92.8L-6.9 -92.8L-6.6 -92.8L-6.4 -92.8L-6.2 -92.8L-6.0 -92.8L-5.7 -92.8L-5.5 -92.8L-5.3 -92.8L-5.1 -92.8L-4.8 -92.8L-4.6 -92.8L-4.4 -92.8L-4.2 -92.8L-3.9 -92.8L-3.7 -92.8L-3.5 -92.8L-3.3 -92.8L-3.0 -92.8L-2.8 -92.8L-2.6 -92.8L-2.4 -92.8L-2.1 -92.8L-1.9 -92.8L-1.7 -92.8L-1.5 -92.8L-4.3 -91.0L-6.3 -88.6L-6.7 -85.0L-8.3 -82.7L-10.0 -80.2L-12.2 -79.4L-14.6 -78.7L-17.0 -78.0L-19.4 -77.1L-21.9 -76.1L-24.4 -75.2L-28.2 -70.9L-31.2 -70.4L-32.9 -72.8L-31.8 -76.6L-33.7 -76.8L-35.5 -77.1L-41.3 -72.8L-43.3 -71.4L-46.6 -71.4L-50.5 -70.2L-54.4 -68.9L-56.9 -65.8L-59.1 -62.7L-63.8 -61.6L-64.6 -64.3L-65.0 -66.9L-65.1 -69.9L-60.7 -73.3L-56.0 -76.6L-57.4 -76.8L-58.9 -77.0L-60.3 -77.2L-61.7 -77.3L-63.1 -77.5L-64.5 -77.8L-65.8 -78.1L-67.0 -78.4L-68.3 -78.7L-69.4 -79.0L-70.6 -79.3L-72.0 -79.4L-73.4 -79.5L-74.8 -79.6L-76.2 -79.6L-77.6 -79.7L-78.9 -79.8L-80.3 -79.9L-81.6 -80.0L-83.0 -80.1L-84.3 -80.2L-91.6 -78.4L-99.0 -76.6ZM-92.5 -38.8L-89.3 -38.8L-86.1 -38.8L-82.9 -38.8L-79.7 -38.8L-76.5 -38.8L-78.1 -31.7L-75.7 -26.5L-73.1 -24.7L-73.3 -20.0L-73.3 -15.3L-78.5 -10.2L-82.6 -10.2L-86.7 -10.2L-89.4 -14.0L-91.8 -17.8L-95.3 -20.3L-98.7 -22.8L-97.5 -26.9L-96.0 -30.9L-94.4 -34.8ZM-5.0 -44.8L0.0 -48.2L4.2 -53.5L8.4 -54.6L11.6 -56.2L14.4 -53.9L17.3 -51.7L20.9 -50.5L23.5 -50.8L26.0 -51.1L29.4 -48.5L32.8 -45.9L33.6 -42.4L34.3 -38.8L31.4 -38.5L28.4 -38.2L25.3 -38.0L22.2 -37.8L19.0 -37.6L15.7 -38.8L12.5 -40.0L9.3 -41.2L9.0 -46.5L6.0 -45.7L3.0 -44.9L0.0 -44.1L-5.0 -44.3ZM30.4 -37.9L33.3 -37.2L35.0 -32.7L39.3 -26.5L42.0 -21.2L44.5 -15.9L44.1 -14.4L40.7 -18.4L38.5 -22.8L36.3 -27.2L34.3 -30.9L32.3 -34.5ZM45.0 -38.2L48.9 -35.8L54.9 -34.3L55.1 -32.3L51.1 -30.0L48.9 -31.5L45.4 -36.4ZM7.5 -64.8L8.6 -67.4L11.4 -70.9L11.7 -73.8L11.8 -76.6L13.5 -76.6L15.3 -76.6L17.2 -71.6L20.4 -71.1L19.5 -68.9L18.0 -67.0L16.3 -65.1L13.4 -64.7L10.5 -64.3ZM100.6 -64.8L98.4 -67.6L95.7 -70.4L96.8 -70.9L97.9 -71.4L98.9 -71.9L99.8 -72.4L100.7 -72.8L102.7 -73.1L104.6 -73.4L111.2 -69.6L116.9 -65.7L121.8 -61.6L123.2 -58.9L124.2 -56.2L122.9 -55.1L121.4 -53.9L117.2 -56.2L112.1 -60.0L106.6 -63.8L103.6 -64.3ZM116.6 -43.5L114.2 -47.6L111.4 -51.7L112.1 -53.9L112.6 -56.2L111.0 -59.5L109.0 -62.7L113.5 -59.5L117.8 -56.2L121.7 -52.0L125.2 -47.6L124.8 -44.1L121.6 -41.8ZM104.8 -47.1L105.5 -50.5L110.0 -49.4L116.4 -43.5L116.0 -38.2L111.8 -41.2ZM3.8 -92.8L4.1 -92.8L4.3 -92.8L4.5 -92.8L4.7 -92.8L5.0 -92.8L5.2 -92.8L5.4 -92.8L5.6 -92.8L5.9 -92.8L6.1 -92.8L6.3 -92.8L6.5 -92.8L6.8 -92.8L7.0 -92.8L7.2 -92.8L7.4 -92.8L7.7 -92.8L7.9 -92.8L8.1 -92.8L8.3 -92.8L8.6 -92.8L8.8 -92.8L9.0 -92.8L9.2 -92.8L9.5 -92.8L9.7 -92.8L9.9 -92.8L10.1 -92.8L10.4 -92.8L10.6 -92.8L10.8 -92.8L11.0 -92.8L11.3 -92.8L11.5 -92.8L11.7 -92.8L11.9 -92.8L12.2 -92.8L12.4 -92.8L12.6 -92.8L12.8 -92.8L13.1 -92.8L13.3 -92.8L33.7 -91.5L48.8 -89.8L61.7 -87.8L73.1 -85.6L83.5 -83.2L93.0 -80.7L101.8 -78.0L110.0 -75.2L107.5 -75.2L105.1 -75.2L100.1 -76.6L98.4 -76.6L96.6 -76.6L94.8 -76.6L93.0 -76.6L91.2 -76.6L89.4 -76.6L87.7 -76.6L85.9 -76.6L84.1 -76.6L82.3 -76.6L80.5 -76.6L78.7 -76.6L77.0 -76.6L75.2 -76.6L73.4 -76.6L71.6 -76.6L69.8 -76.6L68.1 -76.6L66.3 -76.6L64.5 -76.6L62.7 -76.6L60.9 -76.6L59.1 -76.6L57.4 -76.6L55.6 -76.6L53.8 -76.6L52.0 -76.6L50.2 -76.6L48.5 -76.6L46.7 -76.6L44.9 -76.6L43.1 -76.6L41.3 -76.6L39.5 -76.6L37.8 -76.6L36.0 -76.6L34.2 -76.6L32.4 -76.6L30.6 -76.6L28.0 -79.5L25.1 -82.3L22.0 -84.9L18.6 -87.3L14.7 -89.5L10.1 -91.4Z"/>
<clipPath id="cl"><use href="#land"/></clipPath>
<clipPath id="ell"><ellipse rx="187.0" ry="93.0"/></clipPath>
<clipPath id="nc"><rect x="-190" y="-77.1" width="380" height="200"/></clipPath>
<filter id="cm0" filterUnits="userSpaceOnUse" x="-190" y="-95" width="380" height="190" color-interpolation-filters="sRGB"><feTurbulence type="fractalNoise" baseFrequency="0.3" numOctaves="2" seed="3" result="n"/><feColorMatrix in="n" type="matrix" values="1 0 0 0 0 1 0 0 0 0 1 0 0 0 0 0 0 0 0 1" result="g"/><feGaussianBlur in="SourceGraphic" stdDeviation="1.2" result="sb"/><feComposite in="sb" in2="g" operator="arithmetic" k1="0" k2="1" k3="0.22" k4="-0.110" result="t"/><feComponentTransfer in="t"><feFuncR type="table" tableValues="0.369 0.196 0.400 0.671 0.902 1.000 0.996 0.992 0.957 0.835 0.620"/><feFuncG type="table" tableValues="0.310 0.533 0.761 0.867 0.961 1.000 0.878 0.682 0.427 0.243 0.004"/><feFuncB type="table" tableValues="0.635 0.741 0.647 0.643 0.596 0.749 0.545 0.380 0.263 0.310 0.259"/></feComponentTransfer></filter>
<filter id="cm1" filterUnits="userSpaceOnUse" x="-190" y="-95" width="380" height="190" color-interpolation-filters="sRGB"><feTurbulence type="fractalNoise" baseFrequency="0.3" numOctaves="2" seed="10" result="n"/><feColorMatrix in="n" type="matrix" values="1 0 0 0 0 1 0 0 0 0 1 0 0 0 0 0 0 0 0 1" result="g"/><feGaussianBlur in="SourceGraphic" stdDeviation="1.2" result="sb"/><feComposite in="sb" in2="g" operator="arithmetic" k1="0" k2="1" k3="0.22" k4="-0.110" result="t"/><feComponentTransfer in="t"><feFuncR type="table" tableValues="0.369 0.196 0.400 0.671 0.902 1.000 0.996 0.992 0.957 0.835 0.620"/><feFuncG type="table" tableValues="0.310 0.533 0.761 0.867 0.961 1.000 0.878 0.682 0.427 0.243 0.004"/><feFuncB type="table" tableValues="0.635 0.741 0.647 0.643 0.596 0.749 0.545 0.380 0.263 0.310 0.259"/></feComponentTransfer></filter>
<filter id="cm2" filterUnits="userSpaceOnUse" x="-190" y="-95" width="380" height="190" color-interpolation-filters="sRGB"><feTurbulence type="fractalNoise" baseFrequency="0.3" numOctaves="2" seed="17" result="n"/><feColorMatrix in="n" type="matrix" values="1 0 0 0 0 1 0 0 0 0 1 0 0 0 0 0 0 0 0 1" result="g"/><feGaussianBlur in="SourceGraphic" stdDeviation="1.2" result="sb"/><feComposite in="sb" in2="g" operator="arithmetic" k1="0" k2="1" k3="0.22" k4="-0.110" result="t"/><feComponentTransfer in="t"><feFuncR type="table" tableValues="0.369 0.196 0.400 0.671 0.902 1.000 0.996 0.992 0.957 0.835 0.620"/><feFuncG type="table" tableValues="0.310 0.533 0.761 0.867 0.961 1.000 0.878 0.682 0.427 0.243 0.004"/><feFuncB type="table" tableValues="0.635 0.741 0.647 0.643 0.596 0.749 0.545 0.380 0.263 0.310 0.259"/></feComponentTransfer></filter>
<filter id="cm3" filterUnits="userSpaceOnUse" x="-190" y="-95" width="380" height="190" color-interpolation-filters="sRGB"><feTurbulence type="fractalNoise" baseFrequency="0.3" numOctaves="2" seed="24" result="n"/><feColorMatrix in="n" type="matrix" values="1 0 0 0 0 1 0 0 0 0 1 0 0 0 0 0 0 0 0 1" result="g"/><feGaussianBlur in="SourceGraphic" stdDeviation="1.2" result="sb"/><feComposite in="sb" in2="g" operator="arithmetic" k1="0" k2="1" k3="0.22" k4="-0.110" result="t"/><feComponentTransfer in="t"><feFuncR type="table" tableValues="0.369 0.196 0.400 0.671 0.902 1.000 0.996 0.992 0.957 0.835 0.620"/><feFuncG type="table" tableValues="0.310 0.533 0.761 0.867 0.961 1.000 0.878 0.682 0.427 0.243 0.004"/><feFuncB type="table" tableValues="0.635 0.741 0.647 0.643 0.596 0.749 0.545 0.380 0.263 0.310 0.259"/></feComponentTransfer></filter>
<linearGradient id="cb" x1="0" x2="1" y1="0" y2="0"><stop offset="0.0" stop-color="#5e4fa2"/><stop offset="0.1" stop-color="#3288bd"/><stop offset="0.2" stop-color="#66c2a5"/><stop offset="0.3" stop-color="#abdda4"/><stop offset="0.4" stop-color="#e6f598"/><stop offset="0.5" stop-color="#ffffbf"/><stop offset="0.6" stop-color="#fee08b"/><stop offset="0.7" stop-color="#fdae61"/><stop offset="0.8" stop-color="#f46d43"/><stop offset="0.9" stop-color="#d53e4f"/><stop offset="1.0" stop-color="#9e0142"/></linearGradient>
<linearGradient id="z00" gradientUnits="userSpaceOnUse" x1="0" y1="-93.0" x2="0" y2="93.0"><stop offset="0.011" stop-color="#000000"/><stop offset="0.047" stop-color="#000000"/><stop offset="0.069" stop-color="#040404"/><stop offset="0.093" stop-color="#151515"/><stop offset="0.119" stop-color="#262626"/><stop offset="0.146" stop-color="#373737"/><stop offset="0.174" stop-color="#484848"/><stop offset="0.204" stop-color="#595959"/><stop offset="0.235" stop-color="#6a6a6a"/><stop offset="0.266" stop-color="#848484"/><stop offset="0.298" stop-color="#9d9d9d"/><stop offset="0.331" stop-color="#aeaeae"/><stop offset="0.364" stop-color="#b7b7b7"/><stop offset="0.398" stop-color="#b7b7b7"/><stop offset="0.432" stop-color="#b2b2b2"/><stop offset="0.466" stop-color="#aaaaaa"/><stop offset="0.500" stop-color="#a6a6a6"/><stop offset="0.534" stop-color="#a6a6a6"/><stop offset="0.568" stop-color="#a6a6a6"/><stop offset="0.602" stop-color="#aaaaaa"/><stop offset="0.636" stop-color="#aeaeae"/><stop offset="0.669" stop-color="#b2b2b2"/><stop offset="0.702" stop-color="#aeaeae"/><stop offset="0.734" stop-color="#a6a6a6"/><stop offset="0.765" stop-color="#999999"/><stop offset="0.796" stop-color="#888888"/><stop offset="0.826" stop-color="#777777"/><stop offset="0.854" stop-color="#626262"/><stop offset="0.881" stop-color="#555555"/></linearGradient>
<linearGradient id="z10" gradientUnits="userSpaceOnUse" x1="0" y1="-93.0" x2="0" y2="93.0"><stop offset="0.011" stop-color="#555555"/><stop offset="0.069" stop-color="#5e5e5e"/><stop offset="0.093" stop-color="#666666"/><stop offset="0.119" stop-color="#737373"/><stop offset="0.146" stop-color="#808080"/><stop offset="0.174" stop-color="#8c8c8c"/><stop offset="0.204" stop-color="#999999"/><stop offset="0.235" stop-color="#a6a6a6"/><stop offset="0.266" stop-color="#b2b2b2"/><stop offset="0.298" stop-color="#bbbbbb"/><stop offset="0.331" stop-color="#bfbfbf"/><stop offset="0.364" stop-color="#bbbbbb"/><stop offset="0.398" stop-color="#b2b2b2"/><stop offset="0.432" stop-color="#aaaaaa"/><stop offset="0.466" stop-color="#a2a2a2"/><stop offset="0.500" stop-color="#9d9d9d"/><stop offset="0.534" stop-color="#9d9d9d"/><stop offset="0.568" stop-color="#9d9d9d"/><stop offset="0.602" stop-color="#999999"/><stop offset="0.636" stop-color="#909090"/><stop offset="0.669" stop-color="#888888"/><stop offset="0.702" stop-color="#808080"/><stop offset="0.734" stop-color="#777777"/><stop offset="0.765" stop-color="#666666"/><stop offset="0.796" stop-color="#515151"/><stop offset="0.826" stop-color="#373737"/><stop offset="0.854" stop-color="#1e1e1e"/><stop offset="0.881" stop-color="#111111"/></linearGradient>
<linearGradient id="z20" gradientUnits="userSpaceOnUse" x1="0" y1="-93.0" x2="0" y2="93.0"><stop offset="0.011" stop-color="#222222"/><stop offset="0.047" stop-color="#2a2a2a"/><stop offset="0.069" stop-color="#373737"/><stop offset="0.093" stop-color="#484848"/><stop offset="0.119" stop-color="#595959"/><stop offset="0.146" stop-color="#6a6a6a"/><stop offset="0.174" stop-color="#7b7b7b"/><stop offset="0.204" stop-color="#8c8c8c"/><stop offset="0.235" stop-color="#9d9d9d"/><stop offset="0.266" stop-color="#aaaaaa"/><stop offset="0.298" stop-color="#b2b2b2"/><stop offset="0.331" stop-color="#b7b7b7"/><stop offset="0.364" stop-color="#b7b7b7"/><stop offset="0.398" stop-color="#b2b2b2"/><stop offset="0.432" stop-color="#aeaeae"/><stop offset="0.466" stop-color="#aeaeae"/><stop offset="0.500" stop-color="#b2b2b2"/><stop offset="0.534" stop-color="#b7b7b7"/><stop offset="0.568" stop-color="#bbbbbb"/><stop offset="0.602" stop-color="#bfbfbf"/><stop offset="0.636" stop-color="#bfbfbf"/><stop offset="0.669" stop-color="#bbbbbb"/><stop offset="0.702" stop-color="#aeaeae"/><stop offset="0.734" stop-color="#9d9d9d"/><stop offset="0.765" stop-color="#848484"/><stop offset="0.796" stop-color="#6a6a6a"/><stop offset="0.826" stop-color="#515151"/><stop offset="0.854" stop-color="#3c3c3c"/><stop offset="0.881" stop-color="#333333"/></linearGradient>
<linearGradient id="z30" gradientUnits="userSpaceOnUse" x1="0" y1="-93.0" x2="0" y2="93.0"><stop offset="0.011" stop-color="#000000"/><stop offset="0.069" stop-color="#000000"/><stop offset="0.088" stop-color="#000000"/><stop offset="0.119" stop-color="#080808"/><stop offset="0.146" stop-color="#151515"/><stop offset="0.174" stop-color="#222222"/><stop offset="0.204" stop-color="#373737"/><stop offset="0.235" stop-color="#515151"/><stop offset="0.266" stop-color="#6a6a6a"/><stop offset="0.298" stop-color="#848484"/><stop offset="0.331" stop-color="#959595"/><stop offset="0.364" stop-color="#a2a2a2"/><stop offset="0.398" stop-color="#aaaaaa"/><stop offset="0.432" stop-color="#aeaeae"/><stop offset="0.466" stop-color="#aaaaaa"/><stop offset="0.500" stop-color="#a6a6a6"/><stop offset="0.534" stop-color="#a6a6a6"/><stop offset="0.568" stop-color="#a6a6a6"/><stop offset="0.602" stop-color="#aaaaaa"/><stop offset="0.636" stop-color="#b2b2b2"/><stop offset="0.669" stop-color="#bbbbbb"/><stop offset="0.702" stop-color="#bbbbbb"/><stop offset="0.734" stop-color="#aeaeae"/><stop offset="0.765" stop-color="#9d9d9d"/><stop offset="0.796" stop-color="#888888"/><stop offset="0.826" stop-color="#777777"/><stop offset="0.854" stop-color="#666666"/><stop offset="0.881" stop-color="#5e5e5e"/></linearGradient>
<linearGradient id="z01" gradientUnits="userSpaceOnUse" x1="0" y1="-93.0" x2="0" y2="93.0"><stop offset="0.011" stop-color="#000000"/><stop offset="0.047" stop-color="#000000"/><stop offset="0.069" stop-color="#000000"/><stop offset="0.093" stop-color="#0e0e0e"/><stop offset="0.119" stop-color="#202020"/><stop offset="0.146" stop-color="#323232"/><stop offset="0.174" stop-color="#444444"/><stop offset="0.204" stop-color="#565656"/><stop offset="0.235" stop-color="#686868"/><stop offset="0.266" stop-color="#838383"/><stop offset="0.298" stop-color="#9a9a9a"/><stop offset="0.331" stop-color="#a9a9a9"/><stop offset="0.364" stop-color="#b1b1b1"/><stop offset="0.398" stop-color="#b1b1b1"/><stop offset="0.432" stop-color="#adadad"/><stop offset="0.466" stop-color="#a6a6a6"/><stop offset="0.500" stop-color="#a2a2a2"/><stop offset="0.534" stop-color="#a2a2a2"/><stop offset="0.568" stop-color="#a2a2a2"/><stop offset="0.602" stop-color="#a6a6a6"/><stop offset="0.636" stop-color="#a9a9a9"/><stop offset="0.669" stop-color="#adadad"/><stop offset="0.702" stop-color="#a9a9a9"/><stop offset="0.734" stop-color="#a2a2a2"/><stop offset="0.765" stop-color="#979797"/><stop offset="0.796" stop-color="#888888"/><stop offset="0.826" stop-color="#767676"/><stop offset="0.854" stop-color="#5f5f5f"/><stop offset="0.881" stop-color="#525252"/></linearGradient>
<linearGradient id="z11" gradientUnits="userSpaceOnUse" x1="0" y1="-93.0" x2="0" y2="93.0"><stop offset="0.011" stop-color="#535353"/><stop offset="0.069" stop-color="#5c5c5c"/><stop offset="0.093" stop-color="#656565"/><stop offset="0.119" stop-color="#727272"/><stop offset="0.146" stop-color="#7f7f7f"/><stop offset="0.174" stop-color="#8c8c8c"/><stop offset="0.204" stop-color="#979797"/><stop offset="0.235" stop-color="#a3a3a3"/><stop offset="0.266" stop-color="#aeaeae"/><stop offset="0.298" stop-color="#b6b6b6"/><stop offset="0.331" stop-color="#bababa"/><stop offset="0.364" stop-color="#b6b6b6"/><stop offset="0.398" stop-color="#aeaeae"/><stop offset="0.432" stop-color="#a7a7a7"/><stop offset="0.466" stop-color="#9f9f9f"/><stop offset="0.500" stop-color="#9b9b9b"/><stop offset="0.534" stop-color="#9b9b9b"/><stop offset="0.568" stop-color="#9b9b9b"/><stop offset="0.602" stop-color="#979797"/><stop offset="0.636" stop-color="#909090"/><stop offset="0.669" stop-color="#888888"/><stop offset="0.702" stop-color="#7f7f7f"/><stop offset="0.734" stop-color="#767676"/><stop offset="0.765" stop-color="#656565"/><stop offset="0.796" stop-color="#4f4f4f"/><stop offset="0.826" stop-color="#353535"/><stop offset="0.854" stop-color="#1b1b1b"/><stop offset="0.881" stop-color="#0d0d0d"/></linearGradient>
<linearGradient id="z21" gradientUnits="userSpaceOnUse" x1="0" y1="-93.0" x2="0" y2="93.0"><stop offset="0.011" stop-color="#1a1a1a"/><stop offset="0.047" stop-color="#232323"/><stop offset="0.069" stop-color="#313131"/><stop offset="0.093" stop-color="#434343"/><stop offset="0.119" stop-color="#565656"/><stop offset="0.146" stop-color="#686868"/><stop offset="0.174" stop-color="#7a7a7a"/><stop offset="0.204" stop-color="#8b8b8b"/><stop offset="0.235" stop-color="#999999"/><stop offset="0.266" stop-color="#a4a4a4"/><stop offset="0.298" stop-color="#ababab"/><stop offset="0.331" stop-color="#aeaeae"/><stop offset="0.364" stop-color="#aeaeae"/><stop offset="0.398" stop-color="#ababab"/><stop offset="0.432" stop-color="#a7a7a7"/><stop offset="0.466" stop-color="#a7a7a7"/><stop offset="0.500" stop-color="#ababab"/><stop offset="0.534" stop-color="#aeaeae"/><stop offset="0.568" stop-color="#b2b2b2"/><stop offset="0.602" stop-color="#b5b5b5"/><stop offset="0.636" stop-color="#b5b5b5"/><stop offset="0.669" stop-color="#b2b2b2"/><stop offset="0.702" stop-color="#a7a7a7"/><stop offset="0.734" stop-color="#999999"/><stop offset="0.765" stop-color="#838383"/><stop offset="0.796" stop-color="#686868"/><stop offset="0.826" stop-color="#4c4c4c"/><stop offset="0.854" stop-color="#353535"/><stop offset="0.881" stop-color="#2c2c2c"/></linearGradient>
<linearGradient id="z31" gradientUnits="userSpaceOnUse" x1="0" y1="-93.0" x2="0" y2="93.0"><stop offset="0.011" stop-color="#000000"/><stop offset="0.069" stop-color="#000000"/><stop offset="0.088" stop-color="#000000"/><stop offset="0.119" stop-color="#050505"/><stop offset="0.146" stop-color="#121212"/><stop offset="0.174" stop-color="#1f1f1f"/><stop offset="0.204" stop-color="#353535"/><stop offset="0.235" stop-color="#4f4f4f"/><stop offset="0.266" stop-color="#696969"/><stop offset="0.298" stop-color="#848484"/><stop offset="0.331" stop-color="#939393"/><stop offset="0.364" stop-color="#9e9e9e"/><stop offset="0.398" stop-color="#a6a6a6"/><stop offset="0.432" stop-color="#a9a9a9"/><stop offset="0.466" stop-color="#a6a6a6"/><stop offset="0.500" stop-color="#a2a2a2"/><stop offset="0.534" stop-color="#a2a2a2"/><stop offset="0.568" stop-color="#a2a2a2"/><stop offset="0.602" stop-color="#a6a6a6"/><stop offset="0.636" stop-color="#adadad"/><stop offset="0.669" stop-color="#b4b4b4"/><stop offset="0.702" stop-color="#b4b4b4"/><stop offset="0.734" stop-color="#a9a9a9"/><stop offset="0.765" stop-color="#9a9a9a"/><stop offset="0.796" stop-color="#888888"/><stop offset="0.826" stop-color="#767676"/><stop offset="0.854" stop-color="#656565"/><stop offset="0.881" stop-color="#5c5c5c"/></linearGradient>
<linearGradient id="z02" gradientUnits="userSpaceOnUse" x1="0" y1="-93.0" x2="0" y2="93.0"><stop offset="0.011" stop-color="#000000"/><stop offset="0.047" stop-color="#000000"/><stop offset="0.069" stop-color="#000000"/><stop offset="0.093" stop-color="#030303"/><stop offset="0.119" stop-color="#171717"/><stop offset="0.146" stop-color="#2a2a2a"/><stop offset="0.174" stop-color="#3e3e3e"/><stop offset="0.204" stop-color="#525252"/><stop offset="0.235" stop-color="#656565"/><stop offset="0.266" stop-color="#838383"/><stop offset="0.298" stop-color="#989898"/><stop offset="0.331" stop-color="#a5a5a5"/><stop offset="0.364" stop-color="#acacac"/><stop offset="0.398" stop-color="#acacac"/><stop offset="0.432" stop-color="#a8a8a8"/><stop offset="0.466" stop-color="#a2a2a2"/><stop offset="0.500" stop-color="#9f9f9f"/><stop offset="0.534" stop-color="#9f9f9f"/><stop offset="0.568" stop-color="#9f9f9f"/><stop offset="0.602" stop-color="#a2a2a2"/><stop offset="0.636" stop-color="#a5a5a5"/><stop offset="0.669" stop-color="#a8a8a8"/><stop offset="0.702" stop-color="#a5a5a5"/><stop offset="0.734" stop-color="#9f9f9f"/><stop offset="0.765" stop-color="#959595"/><stop offset="0.796" stop-color="#888888"/><stop offset="0.826" stop-color="#747474"/><stop offset="0.854" stop-color="#5c5c5c"/><stop offset="0.881" stop-color="#4d4d4d"/></linearGradient>
<linearGradient id="z12" gradientUnits="userSpaceOnUse" x1="0" y1="-93.0" x2="0" y2="93.0"><stop offset="0.011" stop-color="#525252"/><stop offset="0.069" stop-color="#5b5b5b"/><stop offset="0.093" stop-color="#646464"/><stop offset="0.119" stop-color="#717171"/><stop offset="0.146" stop-color="#7f7f7f"/><stop offset="0.174" stop-color="#8b8b8b"/><stop offset="0.204" stop-color="#959595"/><stop offset="0.235" stop-color="#9f9f9f"/><stop offset="0.266" stop-color="#a9a9a9"/><stop offset="0.298" stop-color="#b0b0b0"/><stop offset="0.331" stop-color="#b3b3b3"/><stop offset="0.364" stop-color="#b0b0b0"/><stop offset="0.398" stop-color="#a9a9a9"/><stop offset="0.432" stop-color="#a3a3a3"/><stop offset="0.466" stop-color="#9c9c9c"/><stop offset="0.500" stop-color="#999999"/><stop offset="0.534" stop-color="#999999"/><stop offset="0.568" stop-color="#999999"/><stop offset="0.602" stop-color="#959595"/><stop offset="0.636" stop-color="#8f8f8f"/><stop offset="0.669" stop-color="#888888"/><stop offset="0.702" stop-color="#7f7f7f"/><stop offset="0.734" stop-color="#767676"/><stop offset="0.765" stop-color="#646464"/><stop offset="0.796" stop-color="#4d4d4d"/><stop offset="0.826" stop-color="#323232"/><stop offset="0.854" stop-color="#171717"/><stop offset="0.881" stop-color="#0a0a0a"/></linearGradient>
<linearGradient id="z22" gradientUnits="userSpaceOnUse" x1="0" y1="-93.0" x2="0" y2="93.0"><stop offset="0.011" stop-color="#101010"/><stop offset="0.047" stop-color="#1a1a1a"/><stop offset="0.069" stop-color="#292929"/><stop offset="0.093" stop-color="#3d3d3d"/><stop offset="0.119" stop-color="#515151"/><stop offset="0.146" stop-color="#656565"/><stop offset="0.174" stop-color="#797979"/><stop offset="0.204" stop-color="#8b8b8b"/><stop offset="0.235" stop-color="#979797"/><stop offset="0.266" stop-color="#a0a0a0"/><stop offset="0.298" stop-color="#a7a7a7"/><stop offset="0.331" stop-color="#aaaaaa"/><stop offset="0.364" stop-color="#aaaaaa"/><stop offset="0.398" stop-color="#a7a7a7"/><stop offset="0.432" stop-color="#a4a4a4"/><stop offset="0.466" stop-color="#a4a4a4"/><stop offset="0.500" stop-color="#a7a7a7"/><stop offset="0.534" stop-color="#aaaaaa"/><stop offset="0.568" stop-color="#adadad"/><stop offset="0.602" stop-color="#b0b0b0"/><stop offset="0.636" stop-color="#b0b0b0"/><stop offset="0.669" stop-color="#adadad"/><stop offset="0.702" stop-color="#a4a4a4"/><stop offset="0.734" stop-color="#979797"/><stop offset="0.765" stop-color="#838383"/><stop offset="0.796" stop-color="#656565"/><stop offset="0.826" stop-color="#474747"/><stop offset="0.854" stop-color="#2e2e2e"/><stop offset="0.881" stop-color="#242424"/></linearGradient>
<linearGradient id="z32" gradientUnits="userSpaceOnUse" x1="0" y1="-93.0" x2="0" y2="93.0"><stop offset="0.011" stop-color="#000000"/><stop offset="0.069" stop-color="#000000"/><stop offset="0.088" stop-color="#000000"/><stop offset="0.119" stop-color="#010101"/><stop offset="0.146" stop-color="#0e0e0e"/><stop offset="0.174" stop-color="#1c1c1c"/><stop offset="0.204" stop-color="#323232"/><stop offset="0.235" stop-color="#4d4d4d"/><stop offset="0.266" stop-color="#686868"/><stop offset="0.298" stop-color="#838383"/><stop offset="0.331" stop-color="#929292"/><stop offset="0.364" stop-color="#9c9c9c"/><stop offset="0.398" stop-color="#a3a3a3"/><stop offset="0.432" stop-color="#a6a6a6"/><stop offset="0.466" stop-color="#a3a3a3"/><stop offset="0.500" stop-color="#9f9f9f"/><stop offset="0.534" stop-color="#9f9f9f"/><stop offset="0.568" stop-color="#9f9f9f"/><stop offset="0.602" stop-color="#a3a3a3"/><stop offset="0.636" stop-color="#a9a9a9"/><stop offset="0.669" stop-color="#b0b0b0"/><stop offset="0.702" stop-color="#b0b0b0"/><stop offset="0.734" stop-color="#a6a6a6"/><stop offset="0.765" stop-color="#999999"/><stop offset="0.796" stop-color="#888888"/><stop offset="0.826" stop-color="#767676"/><stop offset="0.854" stop-color="#646464"/><stop offset="0.881" stop-color="#5b5b5b"/></linearGradient>
<linearGradient id="z03" gradientUnits="userSpaceOnUse" x1="0" y1="-93.0" x2="0" y2="93.0"><stop offset="0.011" stop-color="#000000"/><stop offset="0.047" stop-color="#000000"/><stop offset="0.069" stop-color="#000000"/><stop offset="0.093" stop-color="#000000"/><stop offset="0.119" stop-color="#0b0b0b"/><stop offset="0.146" stop-color="#212121"/><stop offset="0.174" stop-color="#363636"/><stop offset="0.204" stop-color="#4c4c4c"/><stop offset="0.235" stop-color="#626262"/><stop offset="0.266" stop-color="#838383"/><stop offset="0.298" stop-color="#979797"/><stop offset="0.331" stop-color="#a3a3a3"/><stop offset="0.364" stop-color="#a9a9a9"/><stop offset="0.398" stop-color="#a9a9a9"/><stop offset="0.432" stop-color="#a6a6a6"/><stop offset="0.466" stop-color="#a0a0a0"/><stop offset="0.500" stop-color="#9d9d9d"/><stop offset="0.534" stop-color="#9d9d9d"/><stop offset="0.568" stop-color="#9d9d9d"/><stop offset="0.602" stop-color="#a0a0a0"/><stop offset="0.636" stop-color="#a3a3a3"/><stop offset="0.669" stop-color="#a6a6a6"/><stop offset="0.702" stop-color="#a3a3a3"/><stop offset="0.734" stop-color="#9d9d9d"/><stop offset="0.765" stop-color="#949494"/><stop offset="0.796" stop-color="#888888"/><stop offset="0.826" stop-color="#727272"/><stop offset="0.854" stop-color="#575757"/><stop offset="0.881" stop-color="#474747"/></linearGradient>
<linearGradient id="z13" gradientUnits="userSpaceOnUse" x1="0" y1="-93.0" x2="0" y2="93.0"><stop offset="0.011" stop-color="#515151"/><stop offset="0.069" stop-color="#5a5a5a"/><stop offset="0.093" stop-color="#636363"/><stop offset="0.119" stop-color="#717171"/><stop offset="0.146" stop-color="#7f7f7f"/><stop offset="0.174" stop-color="#8b8b8b"/><stop offset="0.204" stop-color="#949494"/><stop offset="0.235" stop-color="#9d9d9d"/><stop offset="0.266" stop-color="#a6a6a6"/><stop offset="0.298" stop-color="#acacac"/><stop offset="0.331" stop-color="#afafaf"/><stop offset="0.364" stop-color="#acacac"/><stop offset="0.398" stop-color="#a6a6a6"/><stop offset="0.432" stop-color="#a0a0a0"/><stop offset="0.466" stop-color="#9a9a9a"/><stop offset="0.500" stop-color="#979797"/><stop offset="0.534" stop-color="#979797"/><stop offset="0.568" stop-color="#979797"/><stop offset="0.602" stop-color="#949494"/><stop offset="0.636" stop-color="#8e8e8e"/><stop offset="0.669" stop-color="#888888"/><stop offset="0.702" stop-color="#7f7f7f"/><stop offset="0.734" stop-color="#767676"/><stop offset="0.765" stop-color="#636363"/><stop offset="0.796" stop-color="#4c4c4c"/><stop offset="0.826" stop-color="#313131"/><stop offset="0.854" stop-color="#151515"/><stop offset="0.881" stop-color="#070707"/></linearGradient>
<linearGradient id="z23" gradientUnits="userSpaceOnUse" x1="0" y1="-93.0" x2="0" y2="93.0"><stop offset="0.011" stop-color="#080808"/><stop offset="0.047" stop-color="#131313"/><stop offset="0.069" stop-color="#232323"/><stop offset="0.093" stop-color="#383838"/><stop offset="0.119" stop-color="#4e4e4e"/><stop offset="0.146" stop-color="#636363"/><stop offset="0.174" stop-color="#787878"/><stop offset="0.204" stop-color="#8b8b8b"/><stop offset="0.235" stop-color="#969696"/><stop offset="0.266" stop-color="#9f9f9f"/><stop offset="0.298" stop-color="#a4a4a4"/><stop offset="0.331" stop-color="#a7a7a7"/><stop offset="0.364" stop-color="#a7a7a7"/><stop offset="0.398" stop-color="#a4a4a4"/><stop offset="0.432" stop-color="#a2a2a2"/><stop offset="0.466" stop-color="#a2a2a2"/><stop offset="0.500" stop-color="#a4a4a4"/><stop offset="0.534" stop-color="#a7a7a7"/><stop offset="0.568" stop-color="#aaaaaa"/><stop offset="0.602" stop-color="#adadad"/><stop offset="0.636" stop-color="#adadad"/><stop offset="0.669" stop-color="#aaaaaa"/><stop offset="0.702" stop-color="#a2a2a2"/><stop offset="0.734" stop-color="#969696"/><stop offset="0.765" stop-color="#838383"/><stop offset="0.796" stop-color="#636363"/><stop offset="0.826" stop-color="#434343"/><stop offset="0.854" stop-color="#282828"/><stop offset="0.881" stop-color="#1e1e1e"/></linearGradient>
<linearGradient id="z33" gradientUnits="userSpaceOnUse" x1="0" y1="-93.0" x2="0" y2="93.0"><stop offset="0.011" stop-color="#000000"/><stop offset="0.069" stop-color="#000000"/><stop offset="0.088" stop-color="#000000"/><stop offset="0.119" stop-color="#000000"/><stop offset="0.146" stop-color="#0c0c0c"/><stop offset="0.174" stop-color="#1a1a1a"/><stop offset="0.204" stop-color="#313131"/><stop offset="0.235" stop-color="#4c4c4c"/><stop offset="0.266" stop-color="#686868"/><stop offset="0.298" stop-color="#838383"/><stop offset="0.331" stop-color="#919191"/><stop offset="0.364" stop-color="#9b9b9b"/><stop offset="0.398" stop-color="#a1a1a1"/><stop offset="0.432" stop-color="#a4a4a4"/><stop offset="0.466" stop-color="#a1a1a1"/><stop offset="0.500" stop-color="#9e9e9e"/><stop offset="0.534" stop-color="#9e9e9e"/><stop offset="0.568" stop-color="#9e9e9e"/><stop offset="0.602" stop-color="#a1a1a1"/><stop offset="0.636" stop-color="#a7a7a7"/><stop offset="0.669" stop-color="#aeaeae"/><stop offset="0.702" stop-color="#aeaeae"/><stop offset="0.734" stop-color="#a4a4a4"/><stop offset="0.765" stop-color="#989898"/><stop offset="0.796" stop-color="#888888"/><stop offset="0.826" stop-color="#767676"/><stop offset="0.854" stop-color="#636363"/><stop offset="0.881" stop-color="#5a5a5a"/></linearGradient>
<radialGradient id="r0"><stop offset="0" stop-color="#000000"/><stop offset=".5" stop-color="#000000" stop-opacity=".92"/><stop offset=".8" stop-color="#000000" stop-opacity=".42"/><stop offset="1" stop-color="#000000" stop-opacity="0"/></radialGradient>
<radialGradient id="rf0"><stop offset="0" stop-color="#000000"/><stop offset=".7" stop-color="#000000" stop-opacity=".95"/><stop offset=".88" stop-color="#000000" stop-opacity=".5"/><stop offset="1" stop-color="#000000" stop-opacity="0"/></radialGradient>
<radialGradient id="r4"><stop offset="0" stop-color="#040404"/><stop offset=".5" stop-color="#040404" stop-opacity=".92"/><stop offset=".8" stop-color="#040404" stop-opacity=".42"/><stop offset="1" stop-color="#040404" stop-opacity="0"/></radialGradient>
<radialGradient id="r8"><stop offset="0" stop-color="#080808"/><stop offset=".5" stop-color="#080808" stop-opacity=".92"/><stop offset=".8" stop-color="#080808" stop-opacity=".42"/><stop offset="1" stop-color="#080808" stop-opacity="0"/></radialGradient>
<radialGradient id="r12"><stop offset="0" stop-color="#0c0c0c"/><stop offset=".5" stop-color="#0c0c0c" stop-opacity=".92"/><stop offset=".8" stop-color="#0c0c0c" stop-opacity=".42"/><stop offset="1" stop-color="#0c0c0c" stop-opacity="0"/></radialGradient>
<radialGradient id="r16"><stop offset="0" stop-color="#101010"/><stop offset=".5" stop-color="#101010" stop-opacity=".92"/><stop offset=".8" stop-color="#101010" stop-opacity=".42"/><stop offset="1" stop-color="#101010" stop-opacity="0"/></radialGradient>
<radialGradient id="r20"><stop offset="0" stop-color="#141414"/><stop offset=".5" stop-color="#141414" stop-opacity=".92"/><stop offset=".8" stop-color="#141414" stop-opacity=".42"/><stop offset="1" stop-color="#141414" stop-opacity="0"/></radialGradient>
<radialGradient id="r24"><stop offset="0" stop-color="#181818"/><stop offset=".5" stop-color="#181818" stop-opacity=".92"/><stop offset=".8" stop-color="#181818" stop-opacity=".42"/><stop offset="1" stop-color="#181818" stop-opacity="0"/></radialGradient>
<radialGradient id="r28"><stop offset="0" stop-color="#1c1c1c"/><stop offset=".5" stop-color="#1c1c1c" stop-opacity=".92"/><stop offset=".8" stop-color="#1c1c1c" stop-opacity=".42"/><stop offset="1" stop-color="#1c1c1c" stop-opacity="0"/></radialGradient>
<radialGradient id="r32"><stop offset="0" stop-color="#202020"/><stop offset=".5" stop-color="#202020" stop-opacity=".92"/><stop offset=".8" stop-color="#202020" stop-opacity=".42"/><stop offset="1" stop-color="#202020" stop-opacity="0"/></radialGradient>
<radialGradient id="r36"><stop offset="0" stop-color="#242424"/><stop offset=".5" stop-color="#242424" stop-opacity=".92"/><stop offset=".8" stop-color="#242424" stop-opacity=".42"/><stop offset="1" stop-color="#242424" stop-opacity="0"/></radialGradient>
<radialGradient id="r40"><stop offset="0" stop-color="#282828"/><stop offset=".5" stop-color="#282828" stop-opacity=".92"/><stop offset=".8" stop-color="#282828" stop-opacity=".42"/><stop offset="1" stop-color="#282828" stop-opacity="0"/></radialGradient>
<radialGradient id="r44"><stop offset="0" stop-color="#2c2c2c"/><stop offset=".5" stop-color="#2c2c2c" stop-opacity=".92"/><stop offset=".8" stop-color="#2c2c2c" stop-opacity=".42"/><stop offset="1" stop-color="#2c2c2c" stop-opacity="0"/></radialGradient>
<radialGradient id="r48"><stop offset="0" stop-color="#303030"/><stop offset=".5" stop-color="#303030" stop-opacity=".92"/><stop offset=".8" stop-color="#303030" stop-opacity=".42"/><stop offset="1" stop-color="#303030" stop-opacity="0"/></radialGradient>
<radialGradient id="r52"><stop offset="0" stop-color="#343434"/><stop offset=".5" stop-color="#343434" stop-opacity=".92"/><stop offset=".8" stop-color="#343434" stop-opacity=".42"/><stop offset="1" stop-color="#343434" stop-opacity="0"/></radialGradient>
<radialGradient id="r56"><stop offset="0" stop-color="#383838"/><stop offset=".5" stop-color="#383838" stop-opacity=".92"/><stop offset=".8" stop-color="#383838" stop-opacity=".42"/><stop offset="1" stop-color="#383838" stop-opacity="0"/></radialGradient>
<radialGradient id="r60"><stop offset="0" stop-color="#3c3c3c"/><stop offset=".5" stop-color="#3c3c3c" stop-opacity=".92"/><stop offset=".8" stop-color="#3c3c3c" stop-opacity=".42"/><stop offset="1" stop-color="#3c3c3c" stop-opacity="0"/></radialGradient>
<radialGradient id="r64"><stop offset="0" stop-color="#404040"/><stop offset=".5" stop-color="#404040" stop-opacity=".92"/><stop offset=".8" stop-color="#404040" stop-opacity=".42"/><stop offset="1" stop-color="#404040" stop-opacity="0"/></radialGradient>
<radialGradient id="r68"><stop offset="0" stop-color="#444444"/><stop offset=".5" stop-color="#444444" stop-opacity=".92"/><stop offset=".8" stop-color="#444444" stop-opacity=".42"/><stop offset="1" stop-color="#444444" stop-opacity="0"/></radialGradient>
<radialGradient id="r72"><stop offset="0" stop-color="#484848"/><stop offset=".5" stop-color="#484848" stop-opacity=".92"/><stop offset=".8" stop-color="#484848" stop-opacity=".42"/><stop offset="1" stop-color="#484848" stop-opacity="0"/></radialGradient>
<radialGradient id="r76"><stop offset="0" stop-color="#4c4c4c"/><stop offset=".5" stop-color="#4c4c4c" stop-opacity=".92"/><stop offset=".8" stop-color="#4c4c4c" stop-opacity=".42"/><stop offset="1" stop-color="#4c4c4c" stop-opacity="0"/></radialGradient>
<radialGradient id="r80"><stop offset="0" stop-color="#505050"/><stop offset=".5" stop-color="#505050" stop-opacity=".92"/><stop offset=".8" stop-color="#505050" stop-opacity=".42"/><stop offset="1" stop-color="#505050" stop-opacity="0"/></radialGradient>
<radialGradient id="r84"><stop offset="0" stop-color="#545454"/><stop offset=".5" stop-color="#545454" stop-opacity=".92"/><stop offset=".8" stop-color="#545454" stop-opacity=".42"/><stop offset="1" stop-color="#545454" stop-opacity="0"/></radialGradient>
<radialGradient id="r88"><stop offset="0" stop-color="#585858"/><stop offset=".5" stop-color="#585858" stop-opacity=".92"/><stop offset=".8" stop-color="#585858" stop-opacity=".42"/><stop offset="1" stop-color="#585858" stop-opacity="0"/></radialGradient>
<radialGradient id="r92"><stop offset="0" stop-color="#5c5c5c"/><stop offset=".5" stop-color="#5c5c5c" stop-opacity=".92"/><stop offset=".8" stop-color="#5c5c5c" stop-opacity=".42"/><stop offset="1" stop-color="#5c5c5c" stop-opacity="0"/></radialGradient>
<radialGradient id="r96"><stop offset="0" stop-color="#606060"/><stop offset=".5" stop-color="#606060" stop-opacity=".92"/><stop offset=".8" stop-color="#606060" stop-opacity=".42"/><stop offset="1" stop-color="#606060" stop-opacity="0"/></radialGradient>
<radialGradient id="r100"><stop offset="0" stop-color="#646464"/><stop offset=".5" stop-color="#646464" stop-opacity=".92"/><stop offset=".8" stop-color="#646464" stop-opacity=".42"/><stop offset="1" stop-color="#646464" stop-opacity="0"/></radialGradient>
<radialGradient id="r104"><stop offset="0" stop-color="#686868"/><stop offset=".5" stop-color="#686868" stop-opacity=".92"/><stop offset=".8" stop-color="#686868" stop-opacity=".42"/><stop offset="1" stop-color="#686868" stop-opacity="0"/></radialGradient>
<radialGradient id="r108"><stop offset="0" stop-color="#6c6c6c"/><stop offset=".5" stop-color="#6c6c6c" stop-opacity=".92"/><stop offset=".8" stop-color="#6c6c6c" stop-opacity=".42"/><stop offset="1" stop-color="#6c6c6c" stop-opacity="0"/></radialGradient>
<radialGradient id="r112"><stop offset="0" stop-color="#707070"/><stop offset=".5" stop-color="#707070" stop-opacity=".92"/><stop offset=".8" stop-color="#707070" stop-opacity=".42"/><stop offset="1" stop-color="#707070" stop-opacity="0"/></radialGradient>
<radialGradient id="r116"><stop offset="0" stop-color="#747474"/><stop offset=".5" stop-color="#747474" stop-opacity=".92"/><stop offset=".8" stop-color="#747474" stop-opacity=".42"/><stop offset="1" stop-color="#747474" stop-opacity="0"/></radialGradient>
<radialGradient id="r120"><stop offset="0" stop-color="#787878"/><stop offset=".5" stop-color="#787878" stop-opacity=".92"/><stop offset=".8" stop-color="#787878" stop-opacity=".42"/><stop offset="1" stop-color="#787878" stop-opacity="0"/></radialGradient>
<radialGradient id="r124"><stop offset="0" stop-color="#7c7c7c"/><stop offset=".5" stop-color="#7c7c7c" stop-opacity=".92"/><stop offset=".8" stop-color="#7c7c7c" stop-opacity=".42"/><stop offset="1" stop-color="#7c7c7c" stop-opacity="0"/></radialGradient>
<radialGradient id="r128"><stop offset="0" stop-color="#808080"/><stop offset=".5" stop-color="#808080" stop-opacity=".92"/><stop offset=".8" stop-color="#808080" stop-opacity=".42"/><stop offset="1" stop-color="#808080" stop-opacity="0"/></radialGradient>
<radialGradient id="r132"><stop offset="0" stop-color="#848484"/><stop offset=".5" stop-color="#848484" stop-opacity=".92"/><stop offset=".8" stop-color="#848484" stop-opacity=".42"/><stop offset="1" stop-color="#848484" stop-opacity="0"/></radialGradient>
<radialGradient id="r136"><stop offset="0" stop-color="#888888"/><stop offset=".5" stop-color="#888888" stop-opacity=".92"/><stop offset=".8" stop-color="#888888" stop-opacity=".42"/><stop offset="1" stop-color="#888888" stop-opacity="0"/></radialGradient>
<radialGradient id="r140"><stop offset="0" stop-color="#8c8c8c"/><stop offset=".5" stop-color="#8c8c8c" stop-opacity=".92"/><stop offset=".8" stop-color="#8c8c8c" stop-opacity=".42"/><stop offset="1" stop-color="#8c8c8c" stop-opacity="0"/></radialGradient>
<radialGradient id="r144"><stop offset="0" stop-color="#909090"/><stop offset=".5" stop-color="#909090" stop-opacity=".92"/><stop offset=".8" stop-color="#909090" stop-opacity=".42"/><stop offset="1" stop-color="#909090" stop-opacity="0"/></radialGradient>
<radialGradient id="r148"><stop offset="0" stop-color="#949494"/><stop offset=".5" stop-color="#949494" stop-opacity=".92"/><stop offset=".8" stop-color="#949494" stop-opacity=".42"/><stop offset="1" stop-color="#949494" stop-opacity="0"/></radialGradient>
<radialGradient id="r152"><stop offset="0" stop-color="#989898"/><stop offset=".5" stop-color="#989898" stop-opacity=".92"/><stop offset=".8" stop-color="#989898" stop-opacity=".42"/><stop offset="1" stop-color="#989898" stop-opacity="0"/></radialGradient>
<radialGradient id="r156"><stop offset="0" stop-color="#9c9c9c"/><stop offset=".5" stop-color="#9c9c9c" stop-opacity=".92"/><stop offset=".8" stop-color="#9c9c9c" stop-opacity=".42"/><stop offset="1" stop-color="#9c9c9c" stop-opacity="0"/></radialGradient>
<radialGradient id="r160"><stop offset="0" stop-color="#a0a0a0"/><stop offset=".5" stop-color="#a0a0a0" stop-opacity=".92"/><stop offset=".8" stop-color="#a0a0a0" stop-opacity=".42"/><stop offset="1" stop-color="#a0a0a0" stop-opacity="0"/></radialGradient>
<radialGradient id="r164"><stop offset="0" stop-color="#a4a4a4"/><stop offset=".5" stop-color="#a4a4a4" stop-opacity=".92"/><stop offset=".8" stop-color="#a4a4a4" stop-opacity=".42"/><stop offset="1" stop-color="#a4a4a4" stop-opacity="0"/></radialGradient>
<radialGradient id="r168"><stop offset="0" stop-color="#a8a8a8"/><stop offset=".5" stop-color="#a8a8a8" stop-opacity=".92"/><stop offset=".8" stop-color="#a8a8a8" stop-opacity=".42"/><stop offset="1" stop-color="#a8a8a8" stop-opacity="0"/></radialGradient>
<radialGradient id="r172"><stop offset="0" stop-color="#acacac"/><stop offset=".5" stop-color="#acacac" stop-opacity=".92"/><stop offset=".8" stop-color="#acacac" stop-opacity=".42"/><stop offset="1" stop-color="#acacac" stop-opacity="0"/></radialGradient>
<radialGradient id="r176"><stop offset="0" stop-color="#b0b0b0"/><stop offset=".5" stop-color="#b0b0b0" stop-opacity=".92"/><stop offset=".8" stop-color="#b0b0b0" stop-opacity=".42"/><stop offset="1" stop-color="#b0b0b0" stop-opacity="0"/></radialGradient>
<radialGradient id="r180"><stop offset="0" stop-color="#b4b4b4"/><stop offset=".5" stop-color="#b4b4b4" stop-opacity=".92"/><stop offset=".8" stop-color="#b4b4b4" stop-opacity=".42"/><stop offset="1" stop-color="#b4b4b4" stop-opacity="0"/></radialGradient>
<radialGradient id="r184"><stop offset="0" stop-color="#b8b8b8"/><stop offset=".5" stop-color="#b8b8b8" stop-opacity=".92"/><stop offset=".8" stop-color="#b8b8b8" stop-opacity=".42"/><stop offset="1" stop-color="#b8b8b8" stop-opacity="0"/></radialGradient>
<radialGradient id="r188"><stop offset="0" stop-color="#bcbcbc"/><stop offset=".5" stop-color="#bcbcbc" stop-opacity=".92"/><stop offset=".8" stop-color="#bcbcbc" stop-opacity=".42"/><stop offset="1" stop-color="#bcbcbc" stop-opacity="0"/></radialGradient>
<radialGradient id="r192"><stop offset="0" stop-color="#c0c0c0"/><stop offset=".5" stop-color="#c0c0c0" stop-opacity=".92"/><stop offset=".8" stop-color="#c0c0c0" stop-opacity=".42"/><stop offset="1" stop-color="#c0c0c0" stop-opacity="0"/></radialGradient>
<radialGradient id="r196"><stop offset="0" stop-color="#c4c4c4"/><stop offset=".5" stop-color="#c4c4c4" stop-opacity=".92"/><stop offset=".8" stop-color="#c4c4c4" stop-opacity=".42"/><stop offset="1" stop-color="#c4c4c4" stop-opacity="0"/></radialGradient>
<radialGradient id="r200"><stop offset="0" stop-color="#c8c8c8"/><stop offset=".5" stop-color="#c8c8c8" stop-opacity=".92"/><stop offset=".8" stop-color="#c8c8c8" stop-opacity=".42"/><stop offset="1" stop-color="#c8c8c8" stop-opacity="0"/></radialGradient>
<radialGradient id="r204"><stop offset="0" stop-color="#cccccc"/><stop offset=".5" stop-color="#cccccc" stop-opacity=".92"/><stop offset=".8" stop-color="#cccccc" stop-opacity=".42"/><stop offset="1" stop-color="#cccccc" stop-opacity="0"/></radialGradient>
<radialGradient id="r208"><stop offset="0" stop-color="#d0d0d0"/><stop offset=".5" stop-color="#d0d0d0" stop-opacity=".92"/><stop offset=".8" stop-color="#d0d0d0" stop-opacity=".42"/><stop offset="1" stop-color="#d0d0d0" stop-opacity="0"/></radialGradient>
<radialGradient id="rf208"><stop offset="0" stop-color="#d0d0d0"/><stop offset=".7" stop-color="#d0d0d0" stop-opacity=".95"/><stop offset=".88" stop-color="#d0d0d0" stop-opacity=".5"/><stop offset="1" stop-color="#d0d0d0" stop-opacity="0"/></radialGradient>
<radialGradient id="r212"><stop offset="0" stop-color="#d4d4d4"/><stop offset=".5" stop-color="#d4d4d4" stop-opacity=".92"/><stop offset=".8" stop-color="#d4d4d4" stop-opacity=".42"/><stop offset="1" stop-color="#d4d4d4" stop-opacity="0"/></radialGradient>
<radialGradient id="rf212"><stop offset="0" stop-color="#d4d4d4"/><stop offset=".7" stop-color="#d4d4d4" stop-opacity=".95"/><stop offset=".88" stop-color="#d4d4d4" stop-opacity=".5"/><stop offset="1" stop-color="#d4d4d4" stop-opacity="0"/></radialGradient>
<radialGradient id="r216"><stop offset="0" stop-color="#d8d8d8"/><stop offset=".5" stop-color="#d8d8d8" stop-opacity=".92"/><stop offset=".8" stop-color="#d8d8d8" stop-opacity=".42"/><stop offset="1" stop-color="#d8d8d8" stop-opacity="0"/></radialGradient>
<radialGradient id="rf216"><stop offset="0" stop-color="#d8d8d8"/><stop offset=".7" stop-color="#d8d8d8" stop-opacity=".95"/><stop offset=".88" stop-color="#d8d8d8" stop-opacity=".5"/><stop offset="1" stop-color="#d8d8d8" stop-opacity="0"/></radialGradient>
<radialGradient id="r220"><stop offset="0" stop-color="#dcdcdc"/><stop offset=".5" stop-color="#dcdcdc" stop-opacity=".92"/><stop offset=".8" stop-color="#dcdcdc" stop-opacity=".42"/><stop offset="1" stop-color="#dcdcdc" stop-opacity="0"/></radialGradient>
<radialGradient id="rf220"><stop offset="0" stop-color="#dcdcdc"/><stop offset=".7" stop-color="#dcdcdc" stop-opacity=".95"/><stop offset=".88" stop-color="#dcdcdc" stop-opacity=".5"/><stop offset="1" stop-color="#dcdcdc" stop-opacity="0"/></radialGradient>
<radialGradient id="r224"><stop offset="0" stop-color="#e0e0e0"/><stop offset=".5" stop-color="#e0e0e0" stop-opacity=".92"/><stop offset=".8" stop-color="#e0e0e0" stop-opacity=".42"/><stop offset="1" stop-color="#e0e0e0" stop-opacity="0"/></radialGradient>
<radialGradient id="rf224"><stop offset="0" stop-color="#e0e0e0"/><stop offset=".7" stop-color="#e0e0e0" stop-opacity=".95"/><stop offset=".88" stop-color="#e0e0e0" stop-opacity=".5"/><stop offset="1" stop-color="#e0e0e0" stop-opacity="0"/></radialGradient>
<radialGradient id="r228"><stop offset="0" stop-color="#e4e4e4"/><stop offset=".5" stop-color="#e4e4e4" stop-opacity=".92"/><stop offset=".8" stop-color="#e4e4e4" stop-opacity=".42"/><stop offset="1" stop-color="#e4e4e4" stop-opacity="0"/></radialGradient>
<radialGradient id="r232"><stop offset="0" stop-color="#e8e8e8"/><stop offset=".5" stop-color="#e8e8e8" stop-opacity=".92"/><stop offset=".8" stop-color="#e8e8e8" stop-opacity=".42"/><stop offset="1" stop-color="#e8e8e8" stop-opacity="0"/></radialGradient>
<radialGradient id="rf232"><stop offset="0" stop-color="#e8e8e8"/><stop offset=".7" stop-color="#e8e8e8" stop-opacity=".95"/><stop offset=".88" stop-color="#e8e8e8" stop-opacity=".5"/><stop offset="1" stop-color="#e8e8e8" stop-opacity="0"/></radialGradient>
<radialGradient id="r236"><stop offset="0" stop-color="#ececec"/><stop offset=".5" stop-color="#ececec" stop-opacity=".92"/><stop offset=".8" stop-color="#ececec" stop-opacity=".42"/><stop offset="1" stop-color="#ececec" stop-opacity="0"/></radialGradient>
<radialGradient id="rf236"><stop offset="0" stop-color="#ececec"/><stop offset=".7" stop-color="#ececec" stop-opacity=".95"/><stop offset=".88" stop-color="#ececec" stop-opacity=".5"/><stop offset="1" stop-color="#ececec" stop-opacity="0"/></radialGradient>
<radialGradient id="r240"><stop offset="0" stop-color="#f0f0f0"/><stop offset=".5" stop-color="#f0f0f0" stop-opacity=".92"/><stop offset=".8" stop-color="#f0f0f0" stop-opacity=".42"/><stop offset="1" stop-color="#f0f0f0" stop-opacity="0"/></radialGradient>
<radialGradient id="rf240"><stop offset="0" stop-color="#f0f0f0"/><stop offset=".7" stop-color="#f0f0f0" stop-opacity=".95"/><stop offset=".88" stop-color="#f0f0f0" stop-opacity=".5"/><stop offset="1" stop-color="#f0f0f0" stop-opacity="0"/></radialGradient>
<radialGradient id="r244"><stop offset="0" stop-color="#f4f4f4"/><stop offset=".5" stop-color="#f4f4f4" stop-opacity=".92"/><stop offset=".8" stop-color="#f4f4f4" stop-opacity=".42"/><stop offset="1" stop-color="#f4f4f4" stop-opacity="0"/></radialGradient>
<radialGradient id="rf244"><stop offset="0" stop-color="#f4f4f4"/><stop offset=".7" stop-color="#f4f4f4" stop-opacity=".95"/><stop offset=".88" stop-color="#f4f4f4" stop-opacity=".5"/><stop offset="1" stop-color="#f4f4f4" stop-opacity="0"/></radialGradient>
<radialGradient id="r248"><stop offset="0" stop-color="#f8f8f8"/><stop offset=".5" stop-color="#f8f8f8" stop-opacity=".92"/><stop offset=".8" stop-color="#f8f8f8" stop-opacity=".42"/><stop offset="1" stop-color="#f8f8f8" stop-opacity="0"/></radialGradient>
<radialGradient id="r252"><stop offset="0" stop-color="#fcfcfc"/><stop offset=".5" stop-color="#fcfcfc" stop-opacity=".92"/><stop offset=".8" stop-color="#fcfcfc" stop-opacity=".42"/><stop offset="1" stop-color="#fcfcfc" stop-opacity="0"/></radialGradient>
<radialGradient id="rf252"><stop offset="0" stop-color="#fcfcfc"/><stop offset=".7" stop-color="#fcfcfc" stop-opacity=".95"/><stop offset=".88" stop-color="#fcfcfc" stop-opacity=".5"/><stop offset="1" stop-color="#fcfcfc" stop-opacity="0"/></radialGradient>
</defs>
<rect width="1794" height="1063" fill="#fff"/>
<g transform="translate(233 133)">
<ellipse rx="187.0" ry="93.0" fill="#f0f0f0"/>
<g clip-path="url(#ell)">
<use href="#ws" fill="#fff"/><use href="#ant" fill="#f3f3f3"/><use href="#gl" fill="#fff"/><use href="#land" fill="#fff"/>
<g clip-path="url(#cl)"><g filter="url(#cm0)"><rect x="-190" y="-95" width="380" height="190" fill="url(#z00)"/><ellipse cx="9.0" cy="-24.7" rx="30.0" ry="13.1" fill="url(#rf236)" opacity="0.95"/><ellipse cx="27.6" cy="-16.5" rx="16.4" ry="7.6" fill="url(#r252)" opacity="0.9"/><ellipse cx="-4.0" cy="-21.5" rx="13.1" ry="7.5" fill="url(#r252)" opacity="0.6"/><ellipse cx="16.1" cy="-22.8" rx="10.1" ry="6.2" fill="url(#r244)" opacity="0.5"/><ellipse cx="-4.7" cy="-41.2" rx="4.7" ry="3.0" fill="url(#r136)" opacity="0.5"/><ellipse cx="17.3" cy="-35.1" rx="23.1" ry="6.1" fill="url(#r204)" opacity="0.6"/><ellipse cx="11.2" cy="-41.2" rx="18.6" ry="4.2" fill="url(#r188)" opacity="0.7"/><ellipse cx="46.8" cy="-26.5" rx="10.0" ry="11.2" fill="url(#rf236)" opacity="0.95"/><ellipse cx="41.0" cy="-41.2" rx="6.5" ry="4.8" fill="url(#r160)" opacity="0.5"/><ellipse cx="46.6" cy="-7.6" rx="5.2" ry="6.4" fill="url(#r196)" opacity="0.6"/><ellipse cx="22.8" cy="3.8" rx="13.5" ry="8.9" fill="url(#r156)" opacity="0.55"/><ellipse cx="37.4" cy="-1.3" rx="5.2" ry="11.5" fill="url(#r152)" opacity="0.5"/><ellipse cx="40.2" cy="-11.5" rx="4.1" ry="5.1" fill="url(#r156)" opacity="0.5"/><ellipse cx="19.6" cy="30.3" rx="9.8" ry="9.8" fill="url(#r208)" opacity="0.8"/><ellipse cx="24.6" cy="38.8" rx="7.6" ry="4.8" fill="url(#r160)" opacity="0.4"/><ellipse cx="47.2" cy="24.1" rx="3.0" ry="8.7" fill="url(#r168)" opacity="0.3"/><ellipse cx="0.0" cy="-8.9" rx="12.4" ry="3.8" fill="url(#r176)" opacity="0.4"/><ellipse cx="77.7" cy="-26.5" rx="10.0" ry="13.6" fill="url(#r216)" opacity="0.9"/><ellipse cx="67.3" cy="-35.1" rx="5.8" ry="6.1" fill="url(#r204)" opacity="0.7"/><ellipse cx="103.4" cy="-20.3" rx="9.1" ry="11.3" fill="url(#r200)" opacity="0.7"/><ellipse cx="82.6" cy="-41.8" rx="16.7" ry="7.7" fill="url(#r40)" opacity="0.95" transform="rotate(-8 82.6 -41.8)"/><ellipse cx="68.7" cy="-45.9" rx="6.3" ry="4.1" fill="url(#r48)" opacity="0.8"/><ellipse cx="75.5" cy="-48.2" rx="6.2" ry="2.1" fill="url(#r152)" opacity="0.6"/><ellipse cx="55.9" cy="-41.2" rx="11.2" ry="8.3" fill="url(#r184)" opacity="0.85"/><ellipse cx="54.0" cy="-57.3" rx="19.6" ry="6.6" fill="url(#r100)" opacity="0.6"/><ellipse cx="71.0" cy="-60.6" rx="11.0" ry="4.3" fill="url(#r88)" opacity="0.5"/><ellipse cx="80.7" cy="-72.8" rx="27.1" ry="11.5" fill="url(#r0)" opacity="0.9"/><ellipse cx="81.8" cy="-57.3" rx="12.3" ry="6.6" fill="url(#r40)" opacity="0.7"/><ellipse cx="102.7" cy="-58.4" rx="8.1" ry="7.7" fill="url(#r32)" opacity="0.75"/><ellipse cx="107.6" cy="-38.8" rx="8.5" ry="7.2" fill="url(#r132)" opacity="0.5"/><ellipse cx="105.6" cy="-31.5" rx="7.8" ry="4.9" fill="url(#r144)" opacity="0.4"/><ellipse cx="124.7" cy="-0.0" rx="31.2" ry="8.9" fill="url(#r160)" opacity="0.55"/><ellipse cx="145.1" cy="6.4" rx="8.3" ry="5.1" fill="url(#r160)" opacity="0.5"/><ellipse cx="124.7" cy="-45.9" rx="3.6" ry="4.7" fill="url(#r92)" opacity="0.4"/><ellipse cx="50.4" cy="-70.9" rx="16.8" ry="5.9" fill="url(#r20)" opacity="0.3"/><ellipse cx="0.0" cy="-56.2" rx="8.3" ry="6.7" fill="url(#r96)" opacity="0.7"/><ellipse cx="-3.5" cy="-49.4" rx="4.4" ry="4.6" fill="url(#r112)" opacity="0.5"/><ellipse cx="9.5" cy="-73.8" rx="5.7" ry="5.7" fill="url(#r40)" opacity="0.6"/><ellipse cx="27.4" cy="-66.9" rx="15.9" ry="8.2" fill="url(#r32)" opacity="0.5"/><ellipse cx="18.9" cy="-60.6" rx="12.6" ry="5.4" fill="url(#r48)" opacity="0.6"/><ellipse cx="17.3" cy="-51.7" rx="8.6" ry="4.6" fill="url(#r100)" opacity="0.4"/><ellipse cx="31.1" cy="-48.2" rx="8.0" ry="4.1" fill="url(#r88)" opacity="0.7"/><ellipse cx="-64.3" cy="-57.8" rx="14.6" ry="11.0" fill="url(#r24)" opacity="0.9"/><ellipse cx="-100.1" cy="-52.8" rx="10.3" ry="13.5" fill="url(#r132)" opacity="0.85"/><ellipse cx="-93.2" cy="-41.2" rx="8.4" ry="6.0" fill="url(#r148)" opacity="0.45"/><ellipse cx="-100.7" cy="-29.0" rx="6.9" ry="8.6" fill="url(#r204)" opacity="0.7"/><ellipse cx="-89.2" cy="-20.3" rx="6.1" ry="5.0" fill="url(#r176)" opacity="0.4"/><ellipse cx="-61.8" cy="-76.6" rx="17.7" ry="8.2" fill="url(#r0)" opacity="0.6"/><ellipse cx="-92.7" cy="-74.8" rx="8.0" ry="4.7" fill="url(#r28)" opacity="0.4"/><ellipse cx="-94.5" cy="-63.8" rx="5.3" ry="7.4" fill="url(#r64)" opacity="0.5"/><ellipse cx="-83.6" cy="-49.4" rx="7.0" ry="5.8" fill="url(#r92)" opacity="0.3"/><ellipse cx="-68.3" cy="-8.9" rx="9.3" ry="5.1" fill="url(#r204)" opacity="0.65"/><ellipse cx="-77.5" cy="14.0" rx="2.3" ry="11.4" fill="url(#r116)" opacity="0.7" transform="rotate(-38 -77.5 14.0)"/><ellipse cx="-68.3" cy="30.3" rx="2.0" ry="9.8" fill="url(#r116)" opacity="0.7"/><ellipse cx="-64.3" cy="43.5" rx="3.2" ry="11.8" fill="url(#r112)" opacity="0.55"/><ellipse cx="-43.4" cy="10.2" rx="6.2" ry="7.6" fill="url(#r180)" opacity="0.4"/><ellipse cx="-60.0" cy="33.9" rx="6.8" ry="7.3" fill="url(#r184)" opacity="0.5"/><ellipse cx="-55.0" cy="58.4" rx="4.0" ry="7.7" fill="url(#r100)" opacity="0.4"/><ellipse cx="128.9" cy="27.8" rx="19.8" ry="13.6" fill="url(#r220)" opacity="0.9"/><ellipse cx="126.5" cy="38.8" rx="15.1" ry="4.8" fill="url(#r184)" opacity="0.6"/><ellipse cx="133.9" cy="44.7" rx="5.5" ry="4.7" fill="url(#r152)" opacity="0.5"/><ellipse cx="108.6" cy="41.8" rx="4.6" ry="3.6" fill="url(#r160)" opacity="0.4"/></g></g>
<use href="#holes" fill="#fff"/>
<path d="M-121.0 70.5H121.0" stroke="#b0b0b0" stroke-width="0.8" fill="none"/>
<path d="M-171.1 37.5H171.1" stroke="#b0b0b0" stroke-width="0.8" fill="none"/>
<path d="M-187.0 -0.5H187.0" stroke="#b0b0b0" stroke-width="0.8" fill="none"/>
<path d="M-171.1 -37.5H171.1" stroke="#b0b0b0" stroke-width="0.8" fill="none"/>
<path d="M-121.0 -70.5H121.0" stroke="#b0b0b0" stroke-width="0.8" fill="none"/>
<path d="M-0.0 93.0L-25.8 91.0L-40.6 87.9L-52.8 84.3L-63.2 80.2L-72.4 75.7L-80.7 70.9L-88.0 65.8L-94.6 60.6L-100.5 55.1L-105.6 49.4L-110.2 43.5L-114.0 37.6L-117.3 31.5L-120.0 25.3L-122.0 19.0L-123.5 12.7L-124.4 6.4L-124.7 -0.0L-124.4 -6.4L-123.5 -12.7L-122.0 -19.0L-120.0 -25.3L-117.3 -31.5L-114.0 -37.6L-110.2 -43.5L-105.6 -49.4L-100.5 -55.1L-94.6 -60.6L-88.0 -65.8L-80.7 -70.9L-72.4 -75.7L-63.2 -80.2L-52.8 -84.3L-40.6 -87.9L-25.8 -91.0L-0.0 -93.0"  stroke="#b4b4b4" stroke-width="0.45" fill="none"/>
<path d="M-0.5 -93.0V93.0"  stroke="#b8b8b8" stroke-width="0.8" fill="none"/>
<path d="M0.0 93.0L25.8 91.0L40.6 87.9L52.8 84.3L63.2 80.2L72.4 75.7L80.7 70.9L88.0 65.8L94.6 60.6L100.5 55.1L105.6 49.4L110.2 43.5L114.0 37.6L117.3 31.5L120.0 25.3L122.0 19.0L123.5 12.7L124.4 6.4L124.7 -0.0L124.4 -6.4L123.5 -12.7L122.0 -19.0L120.0 -25.3L117.3 -31.5L114.0 -37.6L110.2 -43.5L105.6 -49.4L100.5 -55.1L94.6 -60.6L88.0 -65.8L80.7 -70.9L72.4 -75.7L63.2 -80.2L52.8 -84.3L40.6 -87.9L25.8 -91.0L0.0 -93.0"  stroke="#b4b4b4" stroke-width="0.45" fill="none"/>
<g fill="none" stroke="#000" stroke-width="1.25" stroke-linejoin="round"><use href="#land"/><use href="#gl"/><use href="#ant"/><use href="#holes"/></g>
</g>
<ellipse rx="187.0" ry="93.0" fill="none" stroke="#000" stroke-width="1.4"/>
<text x="0" y="-103.1" font-size="23" text-anchor="middle">depth = 5 cm</text>
<text x="-120.0" y="-65.9" font-size="19.5" text-anchor="end">60°N</text>
<text x="-170.1" y="-32.6" font-size="19.5" text-anchor="end">30°N</text>
<text x="-186.0" y="5.0" font-size="19.5" text-anchor="end">0°</text>
<text x="-170.1" y="42.6" font-size="19.5" text-anchor="end">30°S</text>
<text x="-120.0" y="76.6" font-size="19.5" text-anchor="end">60°S</text>
<text x="-93.5" y="76.6" font-size="19" text-anchor="middle">120°W</text>
<text x="0" y="76.6" font-size="19" text-anchor="middle">0°</text>
<text x="95.3" y="76.6" font-size="19" text-anchor="middle">120°E</text>
</g>
<g transform="translate(685 133)">
<ellipse rx="187.0" ry="93.0" fill="#f0f0f0"/>
<g clip-path="url(#ell)">
<use href="#ws" fill="#fff"/><use href="#ant" fill="#f3f3f3"/><use href="#gl" fill="#fff"/><use href="#land" fill="#fff"/>
<g clip-path="url(#cl)"><g clip-path="url(#nc)"><g filter="url(#cm1)"><rect x="-190" y="-95" width="380" height="190" fill="url(#z10)"/><ellipse cx="7.8" cy="-30.9" rx="30.4" ry="12.3" fill="url(#rf240)" opacity="0.95"/><ellipse cx="-3.9" cy="-30.3" rx="13.8" ry="9.8" fill="url(#r252)" opacity="0.9"/><ellipse cx="16.5" cy="-32.7" rx="9.7" ry="6.1" fill="url(#r252)" opacity="0.6"/><ellipse cx="29.6" cy="-29.0" rx="8.9" ry="7.4" fill="url(#r232)" opacity="0.6"/><ellipse cx="44.0" cy="-31.5" rx="9.8" ry="11.0" fill="url(#rf252)" opacity="0.95"/><ellipse cx="37.6" cy="-43.5" rx="8.3" ry="5.3" fill="url(#r236)" opacity="0.85"/><ellipse cx="8.2" cy="-15.3" rx="30.7" ry="3.8" fill="url(#r176)" opacity="0.4"/><ellipse cx="53.5" cy="-40.0" rx="10.3" ry="8.4" fill="url(#r244)" opacity="0.95"/><ellipse cx="65.4" cy="-35.1" rx="6.7" ry="7.3" fill="url(#r248)" opacity="0.9"/><ellipse cx="54.1" cy="-50.5" rx="12.2" ry="6.9" fill="url(#r248)" opacity="0.95"/><ellipse cx="76.6" cy="-30.3" rx="7.9" ry="7.4" fill="url(#r208)" opacity="0.7"/><ellipse cx="79.7" cy="-16.5" rx="4.1" ry="6.3" fill="url(#r176)" opacity="0.4"/><ellipse cx="58.2" cy="-58.4" rx="16.2" ry="5.5" fill="url(#r196)" opacity="0.7"/><ellipse cx="82.6" cy="-41.8" rx="15.8" ry="7.1" fill="url(#r100)" opacity="1" transform="rotate(-8 82.6 -41.8)"/><ellipse cx="79.5" cy="-51.7" rx="16.4" ry="5.1" fill="url(#r228)" opacity="0.9"/><ellipse cx="96.6" cy="-52.8" rx="8.6" ry="5.1" fill="url(#r196)" opacity="0.7"/><ellipse cx="94.9" cy="-45.9" rx="5.4" ry="3.5" fill="url(#r160)" opacity="0.3"/><ellipse cx="101.7" cy="-19.0" rx="10.2" ry="10.1" fill="url(#r172)" opacity="0.4"/><ellipse cx="107.7" cy="-35.1" rx="9.6" ry="7.3" fill="url(#r164)" opacity="0.5"/><ellipse cx="53.8" cy="-70.9" rx="21.5" ry="5.9" fill="url(#r120)" opacity="0.4"/><ellipse cx="90.7" cy="-68.9" rx="15.3" ry="7.0" fill="url(#r128)" opacity="0.4"/><ellipse cx="102.3" cy="-57.3" rx="6.5" ry="5.5" fill="url(#r156)" opacity="0.5"/><ellipse cx="-103.0" cy="-45.9" rx="9.0" ry="14.0" fill="url(#r236)" opacity="0.95"/><ellipse cx="-90.5" cy="-47.1" rx="8.1" ry="11.6" fill="url(#r196)" opacity="0.7"/><ellipse cx="-100.6" cy="-33.9" rx="6.8" ry="7.3" fill="url(#r216)" opacity="0.7"/><ellipse cx="-75.9" cy="-45.9" rx="8.1" ry="8.2" fill="url(#r152)" opacity="0.5"/><ellipse cx="-57.5" cy="-62.7" rx="8.4" ry="8.5" fill="url(#r80)" opacity="0.8"/><ellipse cx="-83.7" cy="-68.9" rx="9.8" ry="6.0" fill="url(#r140)" opacity="0.4"/><ellipse cx="-84.7" cy="-63.8" rx="10.6" ry="6.3" fill="url(#r168)" opacity="0.65"/><ellipse cx="6.5" cy="-58.4" rx="10.5" ry="6.6" fill="url(#r140)" opacity="0.5"/><ellipse cx="-3.5" cy="-49.4" rx="4.4" ry="4.6" fill="url(#r180)" opacity="0.7"/><ellipse cx="24.6" cy="-62.7" rx="12.3" ry="7.4" fill="url(#r144)" opacity="0.4"/><ellipse cx="26.4" cy="-49.4" rx="7.0" ry="3.5" fill="url(#r180)" opacity="0.5"/><ellipse cx="9.7" cy="-72.8" rx="5.2" ry="4.8" fill="url(#r104)" opacity="0.3"/><ellipse cx="-77.5" cy="14.0" rx="2.3" ry="11.4" fill="url(#r100)" opacity="0.7" transform="rotate(-38 -77.5 14.0)"/><ellipse cx="-68.3" cy="30.3" rx="2.0" ry="9.8" fill="url(#r100)" opacity="0.7"/><ellipse cx="-61.6" cy="49.4" rx="4.4" ry="13.8" fill="url(#r40)" opacity="0.65"/><ellipse cx="-57.7" cy="11.5" rx="17.5" ry="15.2" fill="url(#r172)" opacity="0.65"/><ellipse cx="-43.4" cy="10.2" rx="6.2" ry="7.6" fill="url(#r180)" opacity="0.5"/><ellipse cx="-57.5" cy="27.8" rx="7.9" ry="7.4" fill="url(#r160)" opacity="0.3"/><ellipse cx="22.9" cy="-0.0" rx="12.5" ry="10.2" fill="url(#r152)" opacity="0.45"/><ellipse cx="39.2" cy="-10.2" rx="5.2" ry="6.3" fill="url(#r140)" opacity="0.55"/><ellipse cx="37.4" cy="3.8" rx="4.2" ry="7.6" fill="url(#r144)" opacity="0.4"/><ellipse cx="24.0" cy="35.1" rx="8.7" ry="7.3" fill="url(#r112)" opacity="0.35"/><ellipse cx="22.5" cy="15.3" rx="12.3" ry="7.6" fill="url(#r152)" opacity="0.3"/><ellipse cx="127.5" cy="38.8" rx="15.1" ry="6.0" fill="url(#r108)" opacity="0.45"/><ellipse cx="125.0" cy="25.3" rx="10.0" ry="8.7" fill="url(#r144)" opacity="0.4"/><ellipse cx="124.7" cy="-0.0" rx="31.2" ry="7.6" fill="url(#r156)" opacity="0.3"/></g></g></g>
<use href="#holes" fill="#fff"/>
<path d="M-121.0 70.5H121.0" stroke="#b0b0b0" stroke-width="0.8" fill="none"/>
<path d="M-171.1 37.5H171.1" stroke="#b0b0b0" stroke-width="0.8" fill="none"/>
<path d="M-187.0 -0.5H187.0" stroke="#b0b0b0" stroke-width="0.8" fill="none"/>
<path d="M-171.1 -37.5H171.1" stroke="#b0b0b0" stroke-width="0.8" fill="none"/>
<path d="M-121.0 -70.5H121.0" stroke="#b0b0b0" stroke-width="0.8" fill="none"/>
<path d="M-0.0 93.0L-25.8 91.0L-40.6 87.9L-52.8 84.3L-63.2 80.2L-72.4 75.7L-80.7 70.9L-88.0 65.8L-94.6 60.6L-100.5 55.1L-105.6 49.4L-110.2 43.5L-114.0 37.6L-117.3 31.5L-120.0 25.3L-122.0 19.0L-123.5 12.7L-124.4 6.4L-124.7 -0.0L-124.4 -6.4L-123.5 -12.7L-122.0 -19.0L-120.0 -25.3L-117.3 -31.5L-114.0 -37.6L-110.2 -43.5L-105.6 -49.4L-100.5 -55.1L-94.6 -60.6L-88.0 -65.8L-80.7 -70.9L-72.4 -75.7L-63.2 -80.2L-52.8 -84.3L-40.6 -87.9L-25.8 -91.0L-0.0 -93.0"  stroke="#b4b4b4" stroke-width="0.45" fill="none"/>
<path d="M-0.5 -93.0V93.0"  stroke="#b8b8b8" stroke-width="0.8" fill="none"/>
<path d="M0.0 93.0L25.8 91.0L40.6 87.9L52.8 84.3L63.2 80.2L72.4 75.7L80.7 70.9L88.0 65.8L94.6 60.6L100.5 55.1L105.6 49.4L110.2 43.5L114.0 37.6L117.3 31.5L120.0 25.3L122.0 19.0L123.5 12.7L124.4 6.4L124.7 -0.0L124.4 -6.4L123.5 -12.7L122.0 -19.0L120.0 -25.3L117.3 -31.5L114.0 -37.6L110.2 -43.5L105.6 -49.4L100.5 -55.1L94.6 -60.6L88.0 -65.8L80.7 -70.9L72.4 -75.7L63.2 -80.2L52.8 -84.3L40.6 -87.9L25.8 -91.0L0.0 -93.0"  stroke="#b4b4b4" stroke-width="0.45" fill="none"/>
<g fill="none" stroke="#000" stroke-width="1.25" stroke-linejoin="round"><use href="#land"/><use href="#gl"/><use href="#ant"/><use href="#holes"/></g>
</g>
<ellipse rx="187.0" ry="93.0" fill="none" stroke="#000" stroke-width="1.4"/>
<text x="0" y="-103.1" font-size="23" text-anchor="middle">depth = 5 cm</text>
<text x="-120.0" y="-65.9" font-size="19.5" text-anchor="end">60°N</text>
<text x="-170.1" y="-32.6" font-size="19.5" text-anchor="end">30°N</text>
<text x="-186.0" y="5.0" font-size="19.5" text-anchor="end">0°</text>
<text x="-170.1" y="42.6" font-size="19.5" text-anchor="end">30°S</text>
<text x="-120.0" y="76.6" font-size="19.5" text-anchor="end">60°S</text>
<text x="-93.5" y="76.6" font-size="19" text-anchor="middle">120°W</text>
<text x="0" y="76.6" font-size="19" text-anchor="middle">0°</text>
<text x="95.3" y="76.6" font-size="19" text-anchor="middle">120°E</text>
</g>
<g transform="translate(1137 133)">
<ellipse rx="187.0" ry="93.0" fill="#f0f0f0"/>
<g clip-path="url(#ell)">
<use href="#ws" fill="#fff"/><use href="#ant" fill="#f3f3f3"/><use href="#gl" fill="#fff"/><use href="#land" fill="#fff"/>
<g clip-path="url(#cl)"><g filter="url(#cm2)"><rect x="-190" y="-95" width="380" height="190" fill="url(#z20)"/><ellipse cx="8.9" cy="-28.4" rx="30.7" ry="10.5" fill="url(#rf252)" opacity="0.95"/><ellipse cx="-8.0" cy="-26.5" rx="11.9" ry="7.4" fill="url(#r252)" opacity="0.8"/><ellipse cx="21.9" cy="-26.5" rx="15.9" ry="7.4" fill="url(#r252)" opacity="0.7"/><ellipse cx="44.5" cy="-28.4" rx="9.9" ry="11.1" fill="url(#rf252)" opacity="0.95"/><ellipse cx="38.2" cy="-41.2" rx="7.5" ry="4.8" fill="url(#r220)" opacity="0.8"/><ellipse cx="14.3" cy="-37.6" rx="24.7" ry="5.4" fill="url(#r228)" opacity="0.8"/><ellipse cx="46.9" cy="-40.0" rx="11.3" ry="6.0" fill="url(#r220)" opacity="0.8"/><ellipse cx="8.2" cy="-12.7" rx="30.9" ry="3.8" fill="url(#r176)" opacity="0.4"/><ellipse cx="52.9" cy="-38.8" rx="9.4" ry="7.2" fill="url(#r216)" opacity="0.75"/><ellipse cx="66.7" cy="-33.9" rx="6.8" ry="7.3" fill="url(#r220)" opacity="0.8"/><ellipse cx="54.6" cy="-49.4" rx="9.7" ry="5.8" fill="url(#r188)" opacity="0.7"/><ellipse cx="77.7" cy="-26.5" rx="8.0" ry="11.2" fill="url(#r196)" opacity="0.6"/><ellipse cx="82.6" cy="-41.8" rx="16.7" ry="7.7" fill="url(#r76)" opacity="1" transform="rotate(-8 82.6 -41.8)"/><ellipse cx="79.2" cy="-49.4" rx="7.9" ry="2.9" fill="url(#r172)" opacity="0.6"/><ellipse cx="82.8" cy="-56.2" rx="10.8" ry="5.6" fill="url(#r96)" opacity="0.45"/><ellipse cx="73.7" cy="-75.7" rx="20.5" ry="7.4" fill="url(#r40)" opacity="0.6"/><ellipse cx="38.7" cy="-72.8" rx="16.1" ry="5.8" fill="url(#r84)" opacity="0.3"/><ellipse cx="109.3" cy="-37.6" rx="8.6" ry="7.2" fill="url(#r160)" opacity="0.4"/><ellipse cx="103.4" cy="-20.3" rx="8.1" ry="10.0" fill="url(#r168)" opacity="0.4"/><ellipse cx="124.7" cy="-0.0" rx="29.1" ry="7.6" fill="url(#r164)" opacity="0.5"/><ellipse cx="145.1" cy="6.4" rx="8.3" ry="5.1" fill="url(#r160)" opacity="0.5"/><ellipse cx="-102.8" cy="-43.5" rx="8.3" ry="10.6" fill="url(#r200)" opacity="0.75"/><ellipse cx="-91.8" cy="-43.5" rx="7.3" ry="8.3" fill="url(#r176)" opacity="0.45"/><ellipse cx="-65.2" cy="-62.7" rx="12.3" ry="9.5" fill="url(#r60)" opacity="0.7"/><ellipse cx="-72.6" cy="-70.9" rx="18.8" ry="7.9" fill="url(#r52)" opacity="0.65"/><ellipse cx="-89.3" cy="-68.9" rx="11.2" ry="8.0" fill="url(#r68)" opacity="0.6"/><ellipse cx="-77.4" cy="-44.7" rx="8.2" ry="5.9" fill="url(#r152)" opacity="0.4"/><ellipse cx="-100.2" cy="-30.3" rx="5.9" ry="7.4" fill="url(#r184)" opacity="0.4"/><ellipse cx="4.2" cy="-55.1" rx="9.2" ry="6.7" fill="url(#r144)" opacity="0.5"/><ellipse cx="23.0" cy="-62.7" rx="11.5" ry="6.4" fill="url(#r116)" opacity="0.4"/><ellipse cx="-3.5" cy="-49.4" rx="4.4" ry="4.6" fill="url(#r180)" opacity="0.7"/><ellipse cx="32.3" cy="-58.4" rx="14.6" ry="5.5" fill="url(#r136)" opacity="0.4"/><ellipse cx="9.5" cy="-73.8" rx="5.1" ry="4.7" fill="url(#r72)" opacity="0.3"/><ellipse cx="-77.5" cy="14.0" rx="2.3" ry="11.4" fill="url(#r128)" opacity="0.7" transform="rotate(-38 -77.5 14.0)"/><ellipse cx="-68.3" cy="30.3" rx="2.0" ry="9.8" fill="url(#r128)" opacity="0.7"/><ellipse cx="-60.5" cy="51.7" rx="4.3" ry="11.4" fill="url(#r64)" opacity="0.6"/><ellipse cx="-51.2" cy="15.3" rx="13.3" ry="12.6" fill="url(#r204)" opacity="0.6"/><ellipse cx="-64.4" cy="2.5" rx="9.3" ry="7.6" fill="url(#r176)" opacity="0.3"/><ellipse cx="-59.6" cy="35.1" rx="5.8" ry="6.1" fill="url(#r168)" opacity="0.3"/><ellipse cx="22.4" cy="17.8" rx="13.3" ry="12.6" fill="url(#r200)" opacity="0.5"/><ellipse cx="39.4" cy="-6.4" rx="5.2" ry="8.9" fill="url(#r160)" opacity="0.5"/><ellipse cx="22.9" cy="-1.3" rx="10.4" ry="5.1" fill="url(#r164)" opacity="0.4"/><ellipse cx="23.8" cy="37.6" rx="7.6" ry="4.8" fill="url(#r152)" opacity="0.4"/><ellipse cx="129.9" cy="27.8" rx="18.8" ry="12.4" fill="url(#r212)" opacity="0.85"/><ellipse cx="134.0" cy="43.5" rx="6.4" ry="5.9" fill="url(#r136)" opacity="0.5"/><ellipse cx="110.7" cy="40.0" rx="5.6" ry="4.8" fill="url(#r144)" opacity="0.4"/></g></g>
<use href="#holes" fill="#fff"/>
<path d="M-121.0 70.5H121.0" stroke="#b0b0b0" stroke-width="0.8" fill="none"/>
<path d="M-171.1 37.5H171.1" stroke="#b0b0b0" stroke-width="0.8" fill="none"/>
<path d="M-187.0 -0.5H187.0" stroke="#b0b0b0" stroke-width="0.8" fill="none"/>
<path d="M-171.1 -37.5H171.1" stroke="#b0b0b0" stroke-width="0.8" fill="none"/>
<path d="M-121.0 -70.5H121.0" stroke="#b0b0b0" stroke-width="0.8" fill="none"/>
<path d="M-0.0 93.0L-25.8 91.0L-40.6 87.9L-52.8 84.3L-63.2 80.2L-72.4 75.7L-80.7 70.9L-88.0 65.8L-94.6 60.6L-100.5 55.1L-105.6 49.4L-110.2 43.5L-114.0 37.6L-117.3 31.5L-120.0 25.3L-122.0 19.0L-123.5 12.7L-124.4 6.4L-124.7 -0.0L-124.4 -6.4L-123.5 -12.7L-122.0 -19.0L-120.0 -25.3L-117.3 -31.5L-114.0 -37.6L-110.2 -43.5L-105.6 -49.4L-100.5 -55.1L-94.6 -60.6L-88.0 -65.8L-80.7 -70.9L-72.4 -75.7L-63.2 -80.2L-52.8 -84.3L-40.6 -87.9L-25.8 -91.0L-0.0 -93.0"  stroke="#b4b4b4" stroke-width="0.45" fill="none"/>
<path d="M-0.5 -93.0V93.0"  stroke="#a0a0a0" stroke-width="0.8" fill="none"/>
<path d="M0.0 93.0L25.8 91.0L40.6 87.9L52.8 84.3L63.2 80.2L72.4 75.7L80.7 70.9L88.0 65.8L94.6 60.6L100.5 55.1L105.6 49.4L110.2 43.5L114.0 37.6L117.3 31.5L120.0 25.3L122.0 19.0L123.5 12.7L124.4 6.4L124.7 -0.0L124.4 -6.4L123.5 -12.7L122.0 -19.0L120.0 -25.3L117.3 -31.5L114.0 -37.6L110.2 -43.5L105.6 -49.4L100.5 -55.1L94.6 -60.6L88.0 -65.8L80.7 -70.9L72.4 -75.7L63.2 -80.2L52.8 -84.3L40.6 -87.9L25.8 -91.0L0.0 -93.0"  stroke="#b4b4b4" stroke-width="0.45" fill="none"/>
<g fill="none" stroke="#000" stroke-width="1.25" stroke-linejoin="round"><use href="#land"/><use href="#gl"/><use href="#ant"/><use href="#holes"/></g>
</g>
<ellipse rx="187.0" ry="93.0" fill="none" stroke="#000" stroke-width="1.4"/>
<text x="0" y="-103.1" font-size="23" text-anchor="middle">depth = 5 cm</text>
<text x="-120.0" y="-65.9" font-size="19.5" text-anchor="end">60°N</text>
<text x="-170.1" y="-32.6" font-size="19.5" text-anchor="end">30°N</text>
<text x="-186.0" y="5.0" font-size="19.5" text-anchor="end">0°</text>
<text x="-170.1" y="42.6" font-size="19.5" text-anchor="end">30°S</text>
<text x="-120.0" y="76.6" font-size="19.5" text-anchor="end">60°S</text>
<text x="-93.5" y="76.6" font-size="19" text-anchor="middle">120°W</text>
<text x="0" y="76.6" font-size="19" text-anchor="middle">0°</text>
<text x="95.3" y="76.6" font-size="19" text-anchor="middle">120°E</text>
</g>
<g transform="translate(1589 133)">
<ellipse rx="187.0" ry="93.0" fill="#f0f0f0"/>
<g clip-path="url(#ell)">
<use href="#ws" fill="#fff"/><use href="#ant" fill="#f3f3f3"/><use href="#gl" fill="#fff"/><use href="#land" fill="#fff"/>
<g clip-path="url(#cl)"><g clip-path="url(#nc)"><g filter="url(#cm3)"><rect x="-190" y="-95" width="380" height="190" fill="url(#z30)"/><ellipse cx="69.3" cy="-66.9" rx="34.7" ry="10.7" fill="url(#rf0)" opacity="0.95"/><ellipse cx="79.9" cy="-59.5" rx="27.2" ry="7.6" fill="url(#rf0)" opacity="0.85"/><ellipse cx="82.3" cy="-42.4" rx="15.7" ry="7.1" fill="url(#r8)" opacity="1" transform="rotate(-8 82.3 -42.4)"/><ellipse cx="86.2" cy="-55.1" rx="15.1" ry="7.8" fill="url(#r0)" opacity="0.9"/><ellipse cx="102.3" cy="-57.3" rx="8.2" ry="7.7" fill="url(#r0)" opacity="0.75"/><ellipse cx="50.7" cy="-57.3" rx="13.1" ry="6.6" fill="url(#r16)" opacity="0.65"/><ellipse cx="100.4" cy="-47.1" rx="7.2" ry="4.7" fill="url(#r32)" opacity="0.6"/><ellipse cx="82.1" cy="-51.7" rx="25.9" ry="5.7" fill="url(#r12)" opacity="0.8"/><ellipse cx="-70.0" cy="-66.9" rx="17.3" ry="10.2" fill="url(#r0)" opacity="0.8"/><ellipse cx="-102.1" cy="-55.1" rx="5.0" ry="10.0" fill="url(#r72)" opacity="0.55"/><ellipse cx="-108.3" cy="-43.5" rx="4.6" ry="5.9" fill="url(#r108)" opacity="0.4"/><ellipse cx="-76.4" cy="-41.2" rx="7.5" ry="4.8" fill="url(#r108)" opacity="0.4"/><ellipse cx="4.0" cy="-58.4" rx="8.9" ry="7.7" fill="url(#r80)" opacity="0.7"/><ellipse cx="-3.5" cy="-49.4" rx="4.4" ry="4.6" fill="url(#r100)" opacity="0.5"/><ellipse cx="18.3" cy="-65.8" rx="9.5" ry="6.2" fill="url(#r36)" opacity="0.3"/><ellipse cx="13.0" cy="-51.7" rx="8.6" ry="3.4" fill="url(#r92)" opacity="0.4"/><ellipse cx="34.0" cy="-12.7" rx="10.3" ry="10.1" fill="url(#r208)" opacity="0.8"/><ellipse cx="-5.1" cy="-19.0" rx="15.3" ry="6.3" fill="url(#r200)" opacity="0.75"/><ellipse cx="15.3" cy="-16.5" rx="10.2" ry="5.0" fill="url(#r188)" opacity="0.5"/><ellipse cx="15.7" cy="-30.3" rx="15.7" ry="7.4" fill="url(#r148)" opacity="0.5"/><ellipse cx="8.2" cy="-11.5" rx="10.3" ry="5.1" fill="url(#r180)" opacity="0.4"/><ellipse cx="29.7" cy="-27.8" rx="5.9" ry="6.2" fill="url(#r156)" opacity="0.3"/><ellipse cx="45.6" cy="-27.8" rx="7.9" ry="9.9" fill="url(#r164)" opacity="0.4"/><ellipse cx="78.6" cy="-22.8" rx="7.1" ry="11.2" fill="url(#r160)" opacity="0.4"/><ellipse cx="102.7" cy="-19.0" rx="8.1" ry="10.1" fill="url(#r164)" opacity="0.4"/><ellipse cx="110.3" cy="-33.9" rx="8.7" ry="7.3" fill="url(#r100)" opacity="0.5"/><ellipse cx="124.7" cy="-0.0" rx="31.2" ry="7.6" fill="url(#r156)" opacity="0.45"/><ellipse cx="145.1" cy="6.4" rx="8.3" ry="5.1" fill="url(#r156)" opacity="0.4"/><ellipse cx="20.5" cy="31.5" rx="9.8" ry="9.8" fill="url(#r236)" opacity="0.9"/><ellipse cx="26.8" cy="12.7" rx="11.3" ry="7.6" fill="url(#r160)" opacity="0.45"/><ellipse cx="33.0" cy="25.3" rx="5.0" ry="7.5" fill="url(#r180)" opacity="0.4"/><ellipse cx="47.2" cy="24.1" rx="3.0" ry="8.7" fill="url(#r168)" opacity="0.3"/><ellipse cx="128.7" cy="30.3" rx="16.7" ry="10.5" fill="url(#rf244)" opacity="0.95"/><ellipse cx="117.3" cy="31.5" rx="5.9" ry="7.4" fill="url(#r224)" opacity="0.5"/><ellipse cx="132.8" cy="45.9" rx="5.4" ry="4.7" fill="url(#r160)" opacity="0.6"/><ellipse cx="-77.5" cy="14.0" rx="2.3" ry="11.4" fill="url(#r128)" opacity="0.6" transform="rotate(-38 -77.5 14.0)"/><ellipse cx="-68.3" cy="30.3" rx="2.0" ry="9.8" fill="url(#r128)" opacity="0.6"/><ellipse cx="-63.8" cy="44.7" rx="3.2" ry="11.7" fill="url(#r128)" opacity="0.5"/><ellipse cx="-42.2" cy="12.7" rx="6.2" ry="11.4" fill="url(#r200)" opacity="0.7"/><ellipse cx="-62.2" cy="6.4" rx="13.5" ry="10.2" fill="url(#r160)" opacity="0.4"/><ellipse cx="-59.3" cy="36.4" rx="7.6" ry="8.5" fill="url(#r200)" opacity="0.7"/><ellipse cx="-56.9" cy="55.1" rx="4.2" ry="6.7" fill="url(#r144)" opacity="0.4"/><ellipse cx="22.9" cy="-0.0" rx="10.4" ry="7.6" fill="url(#r156)" opacity="0.4"/><ellipse cx="-101.2" cy="-30.3" rx="6.9" ry="7.4" fill="url(#r136)" opacity="0.45"/><ellipse cx="-89.2" cy="-20.3" rx="6.1" ry="5.0" fill="url(#r156)" opacity="0.4"/><ellipse cx="56.3" cy="-40.0" rx="8.4" ry="6.0" fill="url(#r100)" opacity="0.45"/><ellipse cx="94.1" cy="-70.9" rx="14.8" ry="5.9" fill="url(#r0)" opacity="0.5"/></g></g></g>
<use href="#holes" fill="#fff"/>
<path d="M-121.0 70.5H121.0" stroke="#b0b0b0" stroke-width="0.8" fill="none"/>
<path d="M-171.1 37.5H171.1" stroke="#b0b0b0" stroke-width="0.8" fill="none"/>
<path d="M-187.0 -0.5H187.0" stroke="#b0b0b0" stroke-width="0.8" fill="none"/>
<path d="M-171.1 -37.5H171.1" stroke="#b0b0b0" stroke-width="0.8" fill="none"/>
<path d="M-121.0 -70.5H121.0" stroke="#b0b0b0" stroke-width="0.8" fill="none"/>
<path d="M-0.0 93.0L-25.8 91.0L-40.6 87.9L-52.8 84.3L-63.2 80.2L-72.4 75.7L-80.7 70.9L-88.0 65.8L-94.6 60.6L-100.5 55.1L-105.6 49.4L-110.2 43.5L-114.0 37.6L-117.3 31.5L-120.0 25.3L-122.0 19.0L-123.5 12.7L-124.4 6.4L-124.7 -0.0L-124.4 -6.4L-123.5 -12.7L-122.0 -19.0L-120.0 -25.3L-117.3 -31.5L-114.0 -37.6L-110.2 -43.5L-105.6 -49.4L-100.5 -55.1L-94.6 -60.6L-88.0 -65.8L-80.7 -70.9L-72.4 -75.7L-63.2 -80.2L-52.8 -84.3L-40.6 -87.9L-25.8 -91.0L-0.0 -93.0"  stroke="#b4b4b4" stroke-width="0.45" fill="none"/>
<path d="M-0.5 -93.0V93.0"  stroke="#a0a0a0" stroke-width="0.8" fill="none"/>
<path d="M0.0 93.0L25.8 91.0L40.6 87.9L52.8 84.3L63.2 80.2L72.4 75.7L80.7 70.9L88.0 65.8L94.6 60.6L100.5 55.1L105.6 49.4L110.2 43.5L114.0 37.6L117.3 31.5L120.0 25.3L122.0 19.0L123.5 12.7L124.4 6.4L124.7 -0.0L124.4 -6.4L123.5 -12.7L122.0 -19.0L120.0 -25.3L117.3 -31.5L114.0 -37.6L110.2 -43.5L105.6 -49.4L100.5 -55.1L94.6 -60.6L88.0 -65.8L80.7 -70.9L72.4 -75.7L63.2 -80.2L52.8 -84.3L40.6 -87.9L25.8 -91.0L0.0 -93.0"  stroke="#b4b4b4" stroke-width="0.45" fill="none"/>
<g fill="none" stroke="#000" stroke-width="1.25" stroke-linejoin="round"><use href="#land"/><use href="#gl"/><use href="#ant"/><use href="#holes"/></g>
</g>
<ellipse rx="187.0" ry="93.0" fill="none" stroke="#000" stroke-width="1.4"/>
<text x="0" y="-103.1" font-size="23" text-anchor="middle">depth = 5 cm</text>
<text x="-120.0" y="-65.9" font-size="19.5" text-anchor="end">60°N</text>
<text x="-170.1" y="-32.6" font-size="19.5" text-anchor="end">30°N</text>
<text x="-186.0" y="5.0" font-size="19.5" text-anchor="end">0°</text>
<text x="-170.1" y="42.6" font-size="19.5" text-anchor="end">30°S</text>
<text x="-120.0" y="76.6" font-size="19.5" text-anchor="end">60°S</text>
<text x="-93.5" y="76.6" font-size="19" text-anchor="middle">120°W</text>
<text x="0" y="76.6" font-size="19" text-anchor="middle">0°</text>
<text x="95.3" y="76.6" font-size="19" text-anchor="middle">120°E</text>
</g>
<g transform="translate(233 354)">
<ellipse rx="187.0" ry="93.0" fill="#f0f0f0"/>
<g clip-path="url(#ell)">
<use href="#ws" fill="#fff"/><use href="#ant" fill="#f3f3f3"/><use href="#gl" fill="#fff"/><use href="#land" fill="#fff"/>
<g clip-path="url(#cl)"><g filter="url(#cm0)"><rect x="-190" y="-95" width="380" height="190" fill="url(#z01)"/><ellipse cx="9.0" cy="-24.7" rx="30.0" ry="13.1" fill="url(#rf224)" opacity="0.95"/><ellipse cx="27.6" cy="-16.5" rx="16.4" ry="7.6" fill="url(#r252)" opacity="0.9"/><ellipse cx="-4.0" cy="-21.5" rx="13.1" ry="7.5" fill="url(#r240)" opacity="0.6"/><ellipse cx="16.1" cy="-22.8" rx="10.1" ry="6.2" fill="url(#r232)" opacity="0.5"/><ellipse cx="-4.7" cy="-41.2" rx="4.7" ry="3.0" fill="url(#r136)" opacity="0.5"/><ellipse cx="17.3" cy="-35.1" rx="23.1" ry="6.1" fill="url(#r192)" opacity="0.6"/><ellipse cx="11.2" cy="-41.2" rx="18.6" ry="4.2" fill="url(#r184)" opacity="0.7"/><ellipse cx="46.8" cy="-26.5" rx="10.0" ry="11.2" fill="url(#rf224)" opacity="0.95"/><ellipse cx="41.0" cy="-41.2" rx="6.5" ry="4.8" fill="url(#r156)" opacity="0.5"/><ellipse cx="46.6" cy="-7.6" rx="5.2" ry="6.4" fill="url(#r188)" opacity="0.6"/><ellipse cx="22.8" cy="3.8" rx="13.5" ry="8.9" fill="url(#r152)" opacity="0.55"/><ellipse cx="37.4" cy="-1.3" rx="5.2" ry="11.5" fill="url(#r148)" opacity="0.5"/><ellipse cx="40.2" cy="-11.5" rx="4.1" ry="5.1" fill="url(#r152)" opacity="0.5"/><ellipse cx="19.6" cy="30.3" rx="9.8" ry="9.8" fill="url(#r196)" opacity="0.8"/><ellipse cx="24.6" cy="38.8" rx="7.6" ry="4.8" fill="url(#r156)" opacity="0.4"/><ellipse cx="47.2" cy="24.1" rx="3.0" ry="8.7" fill="url(#r164)" opacity="0.3"/><ellipse cx="0.0" cy="-8.9" rx="12.4" ry="3.8" fill="url(#r172)" opacity="0.4"/><ellipse cx="77.7" cy="-26.5" rx="10.0" ry="13.6" fill="url(#r204)" opacity="0.9"/><ellipse cx="67.3" cy="-35.1" rx="5.8" ry="6.1" fill="url(#r192)" opacity="0.7"/><ellipse cx="103.4" cy="-20.3" rx="9.1" ry="11.3" fill="url(#r188)" opacity="0.7"/><ellipse cx="82.6" cy="-41.8" rx="16.7" ry="7.7" fill="url(#r36)" opacity="0.95" transform="rotate(-8 82.6 -41.8)"/><ellipse cx="68.7" cy="-45.9" rx="6.3" ry="4.1" fill="url(#r44)" opacity="0.8"/><ellipse cx="75.5" cy="-48.2" rx="6.2" ry="2.1" fill="url(#r148)" opacity="0.6"/><ellipse cx="55.9" cy="-41.2" rx="11.2" ry="8.3" fill="url(#r180)" opacity="0.85"/><ellipse cx="54.0" cy="-57.3" rx="19.6" ry="6.6" fill="url(#r100)" opacity="0.6"/><ellipse cx="71.0" cy="-60.6" rx="11.0" ry="4.3" fill="url(#r84)" opacity="0.5"/><ellipse cx="80.7" cy="-72.8" rx="27.1" ry="11.5" fill="url(#r0)" opacity="0.9"/><ellipse cx="81.8" cy="-57.3" rx="12.3" ry="6.6" fill="url(#r36)" opacity="0.7"/><ellipse cx="102.7" cy="-58.4" rx="8.1" ry="7.7" fill="url(#r28)" opacity="0.75"/><ellipse cx="107.6" cy="-38.8" rx="8.5" ry="7.2" fill="url(#r128)" opacity="0.5"/><ellipse cx="105.6" cy="-31.5" rx="7.8" ry="4.9" fill="url(#r140)" opacity="0.4"/><ellipse cx="124.7" cy="-0.0" rx="31.2" ry="8.9" fill="url(#r156)" opacity="0.55"/><ellipse cx="145.1" cy="6.4" rx="8.3" ry="5.1" fill="url(#r156)" opacity="0.5"/><ellipse cx="124.7" cy="-45.9" rx="3.6" ry="4.7" fill="url(#r88)" opacity="0.4"/><ellipse cx="50.4" cy="-70.9" rx="16.8" ry="5.9" fill="url(#r12)" opacity="0.3"/><ellipse cx="0.0" cy="-56.2" rx="8.3" ry="6.7" fill="url(#r92)" opacity="0.7"/><ellipse cx="-3.5" cy="-49.4" rx="4.4" ry="4.6" fill="url(#r112)" opacity="0.5"/><ellipse cx="9.5" cy="-73.8" rx="5.7" ry="5.7" fill="url(#r36)" opacity="0.6"/><ellipse cx="27.4" cy="-66.9" rx="15.9" ry="8.2" fill="url(#r28)" opacity="0.5"/><ellipse cx="18.9" cy="-60.6" rx="12.6" ry="5.4" fill="url(#r44)" opacity="0.6"/><ellipse cx="17.3" cy="-51.7" rx="8.6" ry="4.6" fill="url(#r100)" opacity="0.4"/><ellipse cx="31.1" cy="-48.2" rx="8.0" ry="4.1" fill="url(#r84)" opacity="0.7"/><ellipse cx="-64.3" cy="-57.8" rx="14.6" ry="11.0" fill="url(#r16)" opacity="0.9"/><ellipse cx="-100.1" cy="-52.8" rx="10.3" ry="13.5" fill="url(#r128)" opacity="0.85"/><ellipse cx="-93.2" cy="-41.2" rx="8.4" ry="6.0" fill="url(#r144)" opacity="0.45"/><ellipse cx="-100.7" cy="-29.0" rx="6.9" ry="8.6" fill="url(#r192)" opacity="0.7"/><ellipse cx="-89.2" cy="-20.3" rx="6.1" ry="5.0" fill="url(#r172)" opacity="0.4"/><ellipse cx="-61.8" cy="-76.6" rx="17.7" ry="8.2" fill="url(#r0)" opacity="0.6"/><ellipse cx="-92.7" cy="-74.8" rx="8.0" ry="4.7" fill="url(#r20)" opacity="0.4"/><ellipse cx="-94.5" cy="-63.8" rx="5.3" ry="7.4" fill="url(#r56)" opacity="0.5"/><ellipse cx="-83.6" cy="-49.4" rx="7.0" ry="5.8" fill="url(#r88)" opacity="0.3"/><ellipse cx="-68.3" cy="-8.9" rx="9.3" ry="5.1" fill="url(#r192)" opacity="0.65"/><ellipse cx="-77.5" cy="14.0" rx="2.3" ry="11.4" fill="url(#r116)" opacity="0.7" transform="rotate(-38 -77.5 14.0)"/><ellipse cx="-68.3" cy="30.3" rx="2.0" ry="9.8" fill="url(#r116)" opacity="0.7"/><ellipse cx="-64.3" cy="43.5" rx="3.2" ry="11.8" fill="url(#r112)" opacity="0.55"/><ellipse cx="-43.4" cy="10.2" rx="6.2" ry="7.6" fill="url(#r176)" opacity="0.4"/><ellipse cx="-60.0" cy="33.9" rx="6.8" ry="7.3" fill="url(#r180)" opacity="0.5"/><ellipse cx="-55.0" cy="58.4" rx="4.0" ry="7.7" fill="url(#r100)" opacity="0.4"/><ellipse cx="128.9" cy="27.8" rx="19.8" ry="13.6" fill="url(#r208)" opacity="0.9"/><ellipse cx="126.5" cy="38.8" rx="15.1" ry="4.8" fill="url(#r180)" opacity="0.6"/><ellipse cx="133.9" cy="44.7" rx="5.5" ry="4.7" fill="url(#r148)" opacity="0.5"/><ellipse cx="108.6" cy="41.8" rx="4.6" ry="3.6" fill="url(#r156)" opacity="0.4"/></g></g>
<use href="#holes" fill="#fff"/>
<path d="M-121.0 70.5H121.0" stroke="#b0b0b0" stroke-width="0.8" fill="none"/>
<path d="M-171.1 37.5H171.1" stroke="#b0b0b0" stroke-width="0.8" fill="none"/>
<path d="M-187.0 0.5H187.0" stroke="#b0b0b0" stroke-width="0.8" fill="none"/>
<path d="M-171.1 -37.5H171.1" stroke="#b0b0b0" stroke-width="0.8" fill="none"/>
<path d="M-121.0 -70.5H121.0" stroke="#b0b0b0" stroke-width="0.8" fill="none"/>
<path d="M-0.0 93.0L-25.8 91.0L-40.6 87.9L-52.8 84.3L-63.2 80.2L-72.4 75.7L-80.7 70.9L-88.0 65.8L-94.6 60.6L-100.5 55.1L-105.6 49.4L-110.2 43.5L-114.0 37.6L-117.3 31.5L-120.0 25.3L-122.0 19.0L-123.5 12.7L-124.4 6.4L-124.7 -0.0L-124.4 -6.4L-123.5 -12.7L-122.0 -19.0L-120.0 -25.3L-117.3 -31.5L-114.0 -37.6L-110.2 -43.5L-105.6 -49.4L-100.5 -55.1L-94.6 -60.6L-88.0 -65.8L-80.7 -70.9L-72.4 -75.7L-63.2 -80.2L-52.8 -84.3L-40.6 -87.9L-25.8 -91.0L-0.0 -93.0"  stroke="#b4b4b4" stroke-width="0.45" fill="none"/>
<path d="M-0.5 -93.0V93.0"  stroke="#b8b8b8" stroke-width="0.8" fill="none"/>
<path d="M0.0 93.0L25.8 91.0L40.6 87.9L52.8 84.3L63.2 80.2L72.4 75.7L80.7 70.9L88.0 65.8L94.6 60.6L100.5 55.1L105.6 49.4L110.2 43.5L114.0 37.6L117.3 31.5L120.0 25.3L122.0 19.0L123.5 12.7L124.4 6.4L124.7 -0.0L124.4 -6.4L123.5 -12.7L122.0 -19.0L120.0 -25.3L117.3 -31.5L114.0 -37.6L110.2 -43.5L105.6 -49.4L100.5 -55.1L94.6 -60.6L88.0 -65.8L80.7 -70.9L72.4 -75.7L63.2 -80.2L52.8 -84.3L40.6 -87.9L25.8 -91.0L0.0 -93.0"  stroke="#b4b4b4" stroke-width="0.45" fill="none"/>
<g fill="none" stroke="#000" stroke-width="1.25" stroke-linejoin="round"><use href="#land"/><use href="#gl"/><use href="#ant"/><use href="#holes"/></g>
</g>
<ellipse rx="187.0" ry="93.0" fill="none" stroke="#000" stroke-width="1.4"/>
<text x="0" y="-103.1" font-size="23" text-anchor="middle">depth = 10 cm</text>
<text x="-120.0" y="-65.9" font-size="19.5" text-anchor="end">60°N</text>
<text x="-170.1" y="-32.6" font-size="19.5" text-anchor="end">30°N</text>
<text x="-186.0" y="5.0" font-size="19.5" text-anchor="end">0°</text>
<text x="-170.1" y="42.6" font-size="19.5" text-anchor="end">30°S</text>
<text x="-120.0" y="76.6" font-size="19.5" text-anchor="end">60°S</text>
<text x="-93.5" y="76.6" font-size="19" text-anchor="middle">120°W</text>
<text x="0" y="76.6" font-size="19" text-anchor="middle">0°</text>
<text x="95.3" y="76.6" font-size="19" text-anchor="middle">120°E</text>
</g>
<g transform="translate(685 354)">
<ellipse rx="187.0" ry="93.0" fill="#f0f0f0"/>
<g clip-path="url(#ell)">
<use href="#ws" fill="#fff"/><use href="#ant" fill="#f3f3f3"/><use href="#gl" fill="#fff"/><use href="#land" fill="#fff"/>
<g clip-path="url(#cl)"><g clip-path="url(#nc)"><g filter="url(#cm1)"><rect x="-190" y="-95" width="380" height="190" fill="url(#z11)"/><ellipse cx="7.8" cy="-30.9" rx="30.4" ry="12.3" fill="url(#rf232)" opacity="0.95"/><ellipse cx="-3.9" cy="-30.3" rx="13.8" ry="9.8" fill="url(#r252)" opacity="0.9"/><ellipse cx="16.5" cy="-32.7" rx="9.7" ry="6.1" fill="url(#r248)" opacity="0.6"/><ellipse cx="29.6" cy="-29.0" rx="8.9" ry="7.4" fill="url(#r224)" opacity="0.6"/><ellipse cx="44.0" cy="-31.5" rx="9.8" ry="11.0" fill="url(#rf252)" opacity="0.95"/><ellipse cx="37.6" cy="-43.5" rx="8.3" ry="5.3" fill="url(#r228)" opacity="0.85"/><ellipse cx="8.2" cy="-15.3" rx="30.7" ry="3.8" fill="url(#r172)" opacity="0.4"/><ellipse cx="53.5" cy="-40.0" rx="10.3" ry="8.4" fill="url(#r232)" opacity="0.95"/><ellipse cx="65.4" cy="-35.1" rx="6.7" ry="7.3" fill="url(#r236)" opacity="0.9"/><ellipse cx="54.1" cy="-50.5" rx="12.2" ry="6.9" fill="url(#r236)" opacity="0.95"/><ellipse cx="76.6" cy="-30.3" rx="7.9" ry="7.4" fill="url(#r200)" opacity="0.7"/><ellipse cx="79.7" cy="-16.5" rx="4.1" ry="6.3" fill="url(#r172)" opacity="0.4"/><ellipse cx="58.2" cy="-58.4" rx="16.2" ry="5.5" fill="url(#r188)" opacity="0.7"/><ellipse cx="82.6" cy="-41.8" rx="15.8" ry="7.1" fill="url(#r100)" opacity="1" transform="rotate(-8 82.6 -41.8)"/><ellipse cx="79.5" cy="-51.7" rx="16.4" ry="5.1" fill="url(#r220)" opacity="0.9"/><ellipse cx="96.6" cy="-52.8" rx="8.6" ry="5.1" fill="url(#r188)" opacity="0.7"/><ellipse cx="94.9" cy="-45.9" rx="5.4" ry="3.5" fill="url(#r156)" opacity="0.3"/><ellipse cx="101.7" cy="-19.0" rx="10.2" ry="10.1" fill="url(#r168)" opacity="0.4"/><ellipse cx="107.7" cy="-35.1" rx="9.6" ry="7.3" fill="url(#r160)" opacity="0.5"/><ellipse cx="53.8" cy="-70.9" rx="21.5" ry="5.9" fill="url(#r120)" opacity="0.4"/><ellipse cx="90.7" cy="-68.9" rx="15.3" ry="7.0" fill="url(#r124)" opacity="0.4"/><ellipse cx="102.3" cy="-57.3" rx="6.5" ry="5.5" fill="url(#r152)" opacity="0.5"/><ellipse cx="-103.0" cy="-45.9" rx="9.0" ry="14.0" fill="url(#r228)" opacity="0.95"/><ellipse cx="-90.5" cy="-47.1" rx="8.1" ry="11.6" fill="url(#r188)" opacity="0.7"/><ellipse cx="-100.6" cy="-33.9" rx="6.8" ry="7.3" fill="url(#r208)" opacity="0.7"/><ellipse cx="-75.9" cy="-45.9" rx="8.1" ry="8.2" fill="url(#r148)" opacity="0.5"/><ellipse cx="-57.5" cy="-62.7" rx="8.4" ry="8.5" fill="url(#r76)" opacity="0.8"/><ellipse cx="-83.7" cy="-68.9" rx="9.8" ry="6.0" fill="url(#r140)" opacity="0.4"/><ellipse cx="-84.7" cy="-63.8" rx="10.6" ry="6.3" fill="url(#r164)" opacity="0.65"/><ellipse cx="6.5" cy="-58.4" rx="10.5" ry="6.6" fill="url(#r140)" opacity="0.5"/><ellipse cx="-3.5" cy="-49.4" rx="4.4" ry="4.6" fill="url(#r176)" opacity="0.7"/><ellipse cx="24.6" cy="-62.7" rx="12.3" ry="7.4" fill="url(#r144)" opacity="0.4"/><ellipse cx="26.4" cy="-49.4" rx="7.0" ry="3.5" fill="url(#r176)" opacity="0.5"/><ellipse cx="9.7" cy="-72.8" rx="5.2" ry="4.8" fill="url(#r104)" opacity="0.3"/><ellipse cx="-77.5" cy="14.0" rx="2.3" ry="11.4" fill="url(#r100)" opacity="0.7" transform="rotate(-38 -77.5 14.0)"/><ellipse cx="-68.3" cy="30.3" rx="2.0" ry="9.8" fill="url(#r100)" opacity="0.7"/><ellipse cx="-61.6" cy="49.4" rx="4.4" ry="13.8" fill="url(#r40)" opacity="0.65"/><ellipse cx="-57.7" cy="11.5" rx="17.5" ry="15.2" fill="url(#r168)" opacity="0.65"/><ellipse cx="-43.4" cy="10.2" rx="6.2" ry="7.6" fill="url(#r176)" opacity="0.5"/><ellipse cx="-57.5" cy="27.8" rx="7.9" ry="7.4" fill="url(#r156)" opacity="0.3"/><ellipse cx="22.9" cy="-0.0" rx="12.5" ry="10.2" fill="url(#r148)" opacity="0.45"/><ellipse cx="39.2" cy="-10.2" rx="5.2" ry="6.3" fill="url(#r140)" opacity="0.55"/><ellipse cx="37.4" cy="3.8" rx="4.2" ry="7.6" fill="url(#r144)" opacity="0.4"/><ellipse cx="24.0" cy="35.1" rx="8.7" ry="7.3" fill="url(#r112)" opacity="0.35"/><ellipse cx="22.5" cy="15.3" rx="12.3" ry="7.6" fill="url(#r148)" opacity="0.3"/><ellipse cx="127.5" cy="38.8" rx="15.1" ry="6.0" fill="url(#r108)" opacity="0.45"/><ellipse cx="125.0" cy="25.3" rx="10.0" ry="8.7" fill="url(#r144)" opacity="0.4"/><ellipse cx="124.7" cy="-0.0" rx="31.2" ry="7.6" fill="url(#r152)" opacity="0.3"/></g></g></g>
<use href="#holes" fill="#fff"/>
<path d="M-121.0 70.5H121.0" stroke="#b0b0b0" stroke-width="0.8" fill="none"/>
<path d="M-171.1 37.5H171.1" stroke="#b0b0b0" stroke-width="0.8" fill="none"/>
<path d="M-187.0 0.5H187.0" stroke="#b0b0b0" stroke-width="0.8" fill="none"/>
<path d="M-171.1 -37.5H171.1" stroke="#b0b0b0" stroke-width="0.8" fill="none"/>
<path d="M-121.0 -70.5H121.0" stroke="#b0b0b0" stroke-width="0.8" fill="none"/>
<path d="M-0.0 93.0L-25.8 91.0L-40.6 87.9L-52.8 84.3L-63.2 80.2L-72.4 75.7L-80.7 70.9L-88.0 65.8L-94.6 60.6L-100.5 55.1L-105.6 49.4L-110.2 43.5L-114.0 37.6L-117.3 31.5L-120.0 25.3L-122.0 19.0L-123.5 12.7L-124.4 6.4L-124.7 -0.0L-124.4 -6.4L-123.5 -12.7L-122.0 -19.0L-120.0 -25.3L-117.3 -31.5L-114.0 -37.6L-110.2 -43.5L-105.6 -49.4L-100.5 -55.1L-94.6 -60.6L-88.0 -65.8L-80.7 -70.9L-72.4 -75.7L-63.2 -80.2L-52.8 -84.3L-40.6 -87.9L-25.8 -91.0L-0.0 -93.0"  stroke="#b4b4b4" stroke-width="0.45" fill="none"/>
<path d="M-0.5 -93.0V93.0"  stroke="#b8b8b8" stroke-width="0.8" fill="none"/>
<path d="M0.0 93.0L25.8 91.0L40.6 87.9L52.8 84.3L63.2 80.2L72.4 75.7L80.7 70.9L88.0 65.8L94.6 60.6L100.5 55.1L105.6 49.4L110.2 43.5L114.0 37.6L117.3 31.5L120.0 25.3L122.0 19.0L123.5 12.7L124.4 6.4L124.7 -0.0L124.4 -6.4L123.5 -12.7L122.0 -19.0L120.0 -25.3L117.3 -31.5L114.0 -37.6L110.2 -43.5L105.6 -49.4L100.5 -55.1L94.6 -60.6L88.0 -65.8L80.7 -70.9L72.4 -75.7L63.2 -80.2L52.8 -84.3L40.6 -87.9L25.8 -91.0L0.0 -93.0"  stroke="#b4b4b4" stroke-width="0.45" fill="none"/>
<g fill="none" stroke="#000" stroke-width="1.25" stroke-linejoin="round"><use href="#land"/><use href="#gl"/><use href="#ant"/><use href="#holes"/></g>
</g>
<ellipse rx="187.0" ry="93.0" fill="none" stroke="#000" stroke-width="1.4"/>
<text x="0" y="-103.1" font-size="23" text-anchor="middle">depth = 10 cm</text>
<text x="-120.0" y="-65.9" font-size="19.5" text-anchor="end">60°N</text>
<text x="-170.1" y="-32.6" font-size="19.5" text-anchor="end">30°N</text>
<text x="-186.0" y="5.0" font-size="19.5" text-anchor="end">0°</text>
<text x="-170.1" y="42.6" font-size="19.5" text-anchor="end">30°S</text>
<text x="-120.0" y="76.6" font-size="19.5" text-anchor="end">60°S</text>
<text x="-93.5" y="76.6" font-size="19" text-anchor="middle">120°W</text>
<text x="0" y="76.6" font-size="19" text-anchor="middle">0°</text>
<text x="95.3" y="76.6" font-size="19" text-anchor="middle">120°E</text>
</g>
<g transform="translate(1137 354)">
<ellipse rx="187.0" ry="93.0" fill="#f0f0f0"/>
<g clip-path="url(#ell)">
<use href="#ws" fill="#fff"/><use href="#ant" fill="#f3f3f3"/><use href="#gl" fill="#fff"/><use href="#land" fill="#fff"/>
<g clip-path="url(#cl)"><g filter="url(#cm2)"><rect x="-190" y="-95" width="380" height="190" fill="url(#z21)"/><ellipse cx="8.9" cy="-28.4" rx="30.7" ry="10.5" fill="url(#rf232)" opacity="0.95"/><ellipse cx="-8.0" cy="-26.5" rx="11.9" ry="7.4" fill="url(#r252)" opacity="0.8"/><ellipse cx="21.9" cy="-26.5" rx="15.9" ry="7.4" fill="url(#r248)" opacity="0.7"/><ellipse cx="44.5" cy="-28.4" rx="9.9" ry="11.1" fill="url(#rf252)" opacity="0.95"/><ellipse cx="38.2" cy="-41.2" rx="7.5" ry="4.8" fill="url(#r204)" opacity="0.8"/><ellipse cx="14.3" cy="-37.6" rx="24.7" ry="5.4" fill="url(#r212)" opacity="0.8"/><ellipse cx="46.9" cy="-40.0" rx="11.3" ry="6.0" fill="url(#r204)" opacity="0.8"/><ellipse cx="8.2" cy="-12.7" rx="30.9" ry="3.8" fill="url(#r168)" opacity="0.4"/><ellipse cx="52.9" cy="-38.8" rx="9.4" ry="7.2" fill="url(#r200)" opacity="0.75"/><ellipse cx="66.7" cy="-33.9" rx="6.8" ry="7.3" fill="url(#r204)" opacity="0.8"/><ellipse cx="54.6" cy="-49.4" rx="9.7" ry="5.8" fill="url(#r180)" opacity="0.7"/><ellipse cx="77.7" cy="-26.5" rx="8.0" ry="11.2" fill="url(#r184)" opacity="0.6"/><ellipse cx="82.6" cy="-41.8" rx="16.7" ry="7.7" fill="url(#r72)" opacity="1" transform="rotate(-8 82.6 -41.8)"/><ellipse cx="79.2" cy="-49.4" rx="7.9" ry="2.9" fill="url(#r164)" opacity="0.6"/><ellipse cx="82.8" cy="-56.2" rx="10.8" ry="5.6" fill="url(#r92)" opacity="0.45"/><ellipse cx="73.7" cy="-75.7" rx="20.5" ry="7.4" fill="url(#r32)" opacity="0.6"/><ellipse cx="38.7" cy="-72.8" rx="16.1" ry="5.8" fill="url(#r80)" opacity="0.3"/><ellipse cx="109.3" cy="-37.6" rx="8.6" ry="7.2" fill="url(#r156)" opacity="0.4"/><ellipse cx="103.4" cy="-20.3" rx="8.1" ry="10.0" fill="url(#r164)" opacity="0.4"/><ellipse cx="124.7" cy="-0.0" rx="29.1" ry="7.6" fill="url(#r160)" opacity="0.5"/><ellipse cx="145.1" cy="6.4" rx="8.3" ry="5.1" fill="url(#r156)" opacity="0.5"/><ellipse cx="-102.8" cy="-43.5" rx="8.3" ry="10.6" fill="url(#r188)" opacity="0.75"/><ellipse cx="-91.8" cy="-43.5" rx="7.3" ry="8.3" fill="url(#r168)" opacity="0.45"/><ellipse cx="-65.2" cy="-62.7" rx="12.3" ry="9.5" fill="url(#r52)" opacity="0.7"/><ellipse cx="-72.6" cy="-70.9" rx="18.8" ry="7.9" fill="url(#r48)" opacity="0.65"/><ellipse cx="-89.3" cy="-68.9" rx="11.2" ry="8.0" fill="url(#r60)" opacity="0.6"/><ellipse cx="-77.4" cy="-44.7" rx="8.2" ry="5.9" fill="url(#r148)" opacity="0.4"/><ellipse cx="-100.2" cy="-30.3" rx="5.9" ry="7.4" fill="url(#r176)" opacity="0.4"/><ellipse cx="4.2" cy="-55.1" rx="9.2" ry="6.7" fill="url(#r140)" opacity="0.5"/><ellipse cx="23.0" cy="-62.7" rx="11.5" ry="6.4" fill="url(#r116)" opacity="0.4"/><ellipse cx="-3.5" cy="-49.4" rx="4.4" ry="4.6" fill="url(#r172)" opacity="0.7"/><ellipse cx="32.3" cy="-58.4" rx="14.6" ry="5.5" fill="url(#r136)" opacity="0.4"/><ellipse cx="9.5" cy="-73.8" rx="5.1" ry="4.7" fill="url(#r64)" opacity="0.3"/><ellipse cx="-77.5" cy="14.0" rx="2.3" ry="11.4" fill="url(#r124)" opacity="0.7" transform="rotate(-38 -77.5 14.0)"/><ellipse cx="-68.3" cy="30.3" rx="2.0" ry="9.8" fill="url(#r124)" opacity="0.7"/><ellipse cx="-60.5" cy="51.7" rx="4.3" ry="11.4" fill="url(#r56)" opacity="0.6"/><ellipse cx="-51.2" cy="15.3" rx="13.3" ry="12.6" fill="url(#r192)" opacity="0.6"/><ellipse cx="-64.4" cy="2.5" rx="9.3" ry="7.6" fill="url(#r168)" opacity="0.3"/><ellipse cx="-59.6" cy="35.1" rx="5.8" ry="6.1" fill="url(#r164)" opacity="0.3"/><ellipse cx="22.4" cy="17.8" rx="13.3" ry="12.6" fill="url(#r188)" opacity="0.5"/><ellipse cx="39.4" cy="-6.4" rx="5.2" ry="8.9" fill="url(#r156)" opacity="0.5"/><ellipse cx="22.9" cy="-1.3" rx="10.4" ry="5.1" fill="url(#r160)" opacity="0.4"/><ellipse cx="23.8" cy="37.6" rx="7.6" ry="4.8" fill="url(#r148)" opacity="0.4"/><ellipse cx="129.9" cy="27.8" rx="18.8" ry="12.4" fill="url(#r196)" opacity="0.85"/><ellipse cx="134.0" cy="43.5" rx="6.4" ry="5.9" fill="url(#r136)" opacity="0.5"/><ellipse cx="110.7" cy="40.0" rx="5.6" ry="4.8" fill="url(#r140)" opacity="0.4"/></g></g>
<use href="#holes" fill="#fff"/>
<path d="M-121.0 70.5H121.0" stroke="#b0b0b0" stroke-width="0.8" fill="none"/>
<path d="M-171.1 37.5H171.1" stroke="#b0b0b0" stroke-width="0.8" fill="none"/>
<path d="M-187.0 0.5H187.0" stroke="#b0b0b0" stroke-width="0.8" fill="none"/>
<path d="M-171.1 -37.5H171.1" stroke="#b0b0b0" stroke-width="0.8" fill="none"/>
<path d="M-121.0 -70.5H121.0" stroke="#b0b0b0" stroke-width="0.8" fill="none"/>
<path d="M-0.0 93.0L-25.8 91.0L-40.6 87.9L-52.8 84.3L-63.2 80.2L-72.4 75.7L-80.7 70.9L-88.0 65.8L-94.6 60.6L-100.5 55.1L-105.6 49.4L-110.2 43.5L-114.0 37.6L-117.3 31.5L-120.0 25.3L-122.0 19.0L-123.5 12.7L-124.4 6.4L-124.7 -0.0L-124.4 -6.4L-123.5 -12.7L-122.0 -19.0L-120.0 -25.3L-117.3 -31.5L-114.0 -37.6L-110.2 -43.5L-105.6 -49.4L-100.5 -55.1L-94.6 -60.6L-88.0 -65.8L-80.7 -70.9L-72.4 -75.7L-63.2 -80.2L-52.8 -84.3L-40.6 -87.9L-25.8 -91.0L-0.0 -93.0"  stroke="#b4b4b4" stroke-width="0.45" fill="none"/>
<path d="M-0.5 -93.0V93.0"  stroke="#a0a0a0" stroke-width="0.8" fill="none"/>
<path d="M0.0 93.0L25.8 91.0L40.6 87.9L52.8 84.3L63.2 80.2L72.4 75.7L80.7 70.9L88.0 65.8L94.6 60.6L100.5 55.1L105.6 49.4L110.2 43.5L114.0 37.6L117.3 31.5L120.0 25.3L122.0 19.0L123.5 12.7L124.4 6.4L124.7 -0.0L124.4 -6.4L123.5 -12.7L122.0 -19.0L120.0 -25.3L117.3 -31.5L114.0 -37.6L110.2 -43.5L105.6 -49.4L100.5 -55.1L94.6 -60.6L88.0 -65.8L80.7 -70.9L72.4 -75.7L63.2 -80.2L52.8 -84.3L40.6 -87.9L25.8 -91.0L0.0 -93.0"  stroke="#b4b4b4" stroke-width="0.45" fill="none"/>
<g fill="none" stroke="#000" stroke-width="1.25" stroke-linejoin="round"><use href="#land"/><use href="#gl"/><use href="#ant"/><use href="#holes"/></g>
</g>
<ellipse rx="187.0" ry="93.0" fill="none" stroke="#000" stroke-width="1.4"/>
<text x="0" y="-103.1" font-size="23" text-anchor="middle">depth = 10 cm</text>
<text x="-120.0" y="-65.9" font-size="19.5" text-anchor="end">60°N</text>
<text x="-170.1" y="-32.6" font-size="19.5" text-anchor="end">30°N</text>
<text x="-186.0" y="5.0" font-size="19.5" text-anchor="end">0°</text>
<text x="-170.1" y="42.6" font-size="19.5" text-anchor="end">30°S</text>
<text x="-120.0" y="76.6" font-size="19.5" text-anchor="end">60°S</text>
<text x="-93.5" y="76.6" font-size="19" text-anchor="middle">120°W</text>
<text x="0" y="76.6" font-size="19" text-anchor="middle">0°</text>
<text x="95.3" y="76.6" font-size="19" text-anchor="middle">120°E</text>
</g>
<g transform="translate(1589 354)">
<ellipse rx="187.0" ry="93.0" fill="#f0f0f0"/>
<g clip-path="url(#ell)">
<use href="#ws" fill="#fff"/><use href="#ant" fill="#f3f3f3"/><use href="#gl" fill="#fff"/><use href="#land" fill="#fff"/>
<g clip-path="url(#cl)"><g clip-path="url(#nc)"><g filter="url(#cm3)"><rect x="-190" y="-95" width="380" height="190" fill="url(#z31)"/><ellipse cx="69.3" cy="-66.9" rx="34.7" ry="10.7" fill="url(#rf0)" opacity="0.95"/><ellipse cx="79.9" cy="-59.5" rx="27.2" ry="7.6" fill="url(#rf0)" opacity="0.85"/><ellipse cx="82.3" cy="-42.4" rx="15.7" ry="7.1" fill="url(#r4)" opacity="1" transform="rotate(-8 82.3 -42.4)"/><ellipse cx="86.2" cy="-55.1" rx="15.1" ry="7.8" fill="url(#r0)" opacity="0.9"/><ellipse cx="102.3" cy="-57.3" rx="8.2" ry="7.7" fill="url(#r0)" opacity="0.75"/><ellipse cx="50.7" cy="-57.3" rx="13.1" ry="6.6" fill="url(#r12)" opacity="0.65"/><ellipse cx="100.4" cy="-47.1" rx="7.2" ry="4.7" fill="url(#r28)" opacity="0.6"/><ellipse cx="82.1" cy="-51.7" rx="25.9" ry="5.7" fill="url(#r8)" opacity="0.8"/><ellipse cx="-70.0" cy="-66.9" rx="17.3" ry="10.2" fill="url(#r0)" opacity="0.8"/><ellipse cx="-102.1" cy="-55.1" rx="5.0" ry="10.0" fill="url(#r68)" opacity="0.55"/><ellipse cx="-108.3" cy="-43.5" rx="4.6" ry="5.9" fill="url(#r108)" opacity="0.4"/><ellipse cx="-76.4" cy="-41.2" rx="7.5" ry="4.8" fill="url(#r108)" opacity="0.4"/><ellipse cx="4.0" cy="-58.4" rx="8.9" ry="7.7" fill="url(#r76)" opacity="0.7"/><ellipse cx="-3.5" cy="-49.4" rx="4.4" ry="4.6" fill="url(#r100)" opacity="0.5"/><ellipse cx="18.3" cy="-65.8" rx="9.5" ry="6.2" fill="url(#r32)" opacity="0.3"/><ellipse cx="13.0" cy="-51.7" rx="8.6" ry="3.4" fill="url(#r92)" opacity="0.4"/><ellipse cx="34.0" cy="-12.7" rx="10.3" ry="10.1" fill="url(#r196)" opacity="0.8"/><ellipse cx="-5.1" cy="-19.0" rx="15.3" ry="6.3" fill="url(#r188)" opacity="0.75"/><ellipse cx="15.3" cy="-16.5" rx="10.2" ry="5.0" fill="url(#r184)" opacity="0.5"/><ellipse cx="15.7" cy="-30.3" rx="15.7" ry="7.4" fill="url(#r144)" opacity="0.5"/><ellipse cx="8.2" cy="-11.5" rx="10.3" ry="5.1" fill="url(#r176)" opacity="0.4"/><ellipse cx="29.7" cy="-27.8" rx="5.9" ry="6.2" fill="url(#r152)" opacity="0.3"/><ellipse cx="45.6" cy="-27.8" rx="7.9" ry="9.9" fill="url(#r160)" opacity="0.4"/><ellipse cx="78.6" cy="-22.8" rx="7.1" ry="11.2" fill="url(#r156)" opacity="0.4"/><ellipse cx="102.7" cy="-19.0" rx="8.1" ry="10.1" fill="url(#r160)" opacity="0.4"/><ellipse cx="110.3" cy="-33.9" rx="8.7" ry="7.3" fill="url(#r100)" opacity="0.5"/><ellipse cx="124.7" cy="-0.0" rx="31.2" ry="7.6" fill="url(#r152)" opacity="0.45"/><ellipse cx="145.1" cy="6.4" rx="8.3" ry="5.1" fill="url(#r152)" opacity="0.4"/><ellipse cx="20.5" cy="31.5" rx="9.8" ry="9.8" fill="url(#r224)" opacity="0.9"/><ellipse cx="26.8" cy="12.7" rx="11.3" ry="7.6" fill="url(#r156)" opacity="0.45"/><ellipse cx="33.0" cy="25.3" rx="5.0" ry="7.5" fill="url(#r176)" opacity="0.4"/><ellipse cx="47.2" cy="24.1" rx="3.0" ry="8.7" fill="url(#r164)" opacity="0.3"/><ellipse cx="128.7" cy="30.3" rx="16.7" ry="10.5" fill="url(#rf232)" opacity="0.95"/><ellipse cx="117.3" cy="31.5" rx="5.9" ry="7.4" fill="url(#r212)" opacity="0.5"/><ellipse cx="132.8" cy="45.9" rx="5.4" ry="4.7" fill="url(#r156)" opacity="0.6"/><ellipse cx="-77.5" cy="14.0" rx="2.3" ry="11.4" fill="url(#r124)" opacity="0.6" transform="rotate(-38 -77.5 14.0)"/><ellipse cx="-68.3" cy="30.3" rx="2.0" ry="9.8" fill="url(#r124)" opacity="0.6"/><ellipse cx="-63.8" cy="44.7" rx="3.2" ry="11.7" fill="url(#r124)" opacity="0.5"/><ellipse cx="-42.2" cy="12.7" rx="6.2" ry="11.4" fill="url(#r188)" opacity="0.7"/><ellipse cx="-62.2" cy="6.4" rx="13.5" ry="10.2" fill="url(#r156)" opacity="0.4"/><ellipse cx="-59.3" cy="36.4" rx="7.6" ry="8.5" fill="url(#r188)" opacity="0.7"/><ellipse cx="-56.9" cy="55.1" rx="4.2" ry="6.7" fill="url(#r140)" opacity="0.4"/><ellipse cx="22.9" cy="-0.0" rx="10.4" ry="7.6" fill="url(#r152)" opacity="0.4"/><ellipse cx="-101.2" cy="-30.3" rx="6.9" ry="7.4" fill="url(#r136)" opacity="0.45"/><ellipse cx="-89.2" cy="-20.3" rx="6.1" ry="5.0" fill="url(#r152)" opacity="0.4"/><ellipse cx="56.3" cy="-40.0" rx="8.4" ry="6.0" fill="url(#r100)" opacity="0.45"/><ellipse cx="94.1" cy="-70.9" rx="14.8" ry="5.9" fill="url(#r0)" opacity="0.5"/></g></g></g>
<use href="#holes" fill="#fff"/>
<path d="M-121.0 70.5H121.0" stroke="#b0b0b0" stroke-width="0.8" fill="none"/>
<path d="M-171.1 37.5H171.1" stroke="#b0b0b0" stroke-width="0.8" fill="none"/>
<path d="M-187.0 0.5H187.0" stroke="#b0b0b0" stroke-width="0.8" fill="none"/>
<path d="M-171.1 -37.5H171.1" stroke="#b0b0b0" stroke-width="0.8" fill="none"/>
<path d="M-121.0 -70.5H121.0" stroke="#b0b0b0" stroke-width="0.8" fill="none"/>
<path d="M-0.0 93.0L-25.8 91.0L-40.6 87.9L-52.8 84.3L-63.2 80.2L-72.4 75.7L-80.7 70.9L-88.0 65.8L-94.6 60.6L-100.5 55.1L-105.6 49.4L-110.2 43.5L-114.0 37.6L-117.3 31.5L-120.0 25.3L-122.0 19.0L-123.5 12.7L-124.4 6.4L-124.7 -0.0L-124.4 -6.4L-123.5 -12.7L-122.0 -19.0L-120.0 -25.3L-117.3 -31.5L-114.0 -37.6L-110.2 -43.5L-105.6 -49.4L-100.5 -55.1L-94.6 -60.6L-88.0 -65.8L-80.7 -70.9L-72.4 -75.7L-63.2 -80.2L-52.8 -84.3L-40.6 -87.9L-25.8 -91.0L-0.0 -93.0"  stroke="#b4b4b4" stroke-width="0.45" fill="none"/>
<path d="M-0.5 -93.0V93.0"  stroke="#a0a0a0" stroke-width="0.8" fill="none"/>
<path d="M0.0 93.0L25.8 91.0L40.6 87.9L52.8 84.3L63.2 80.2L72.4 75.7L80.7 70.9L88.0 65.8L94.6 60.6L100.5 55.1L105.6 49.4L110.2 43.5L114.0 37.6L117.3 31.5L120.0 25.3L122.0 19.0L123.5 12.7L124.4 6.4L124.7 -0.0L124.4 -6.4L123.5 -12.7L122.0 -19.0L120.0 -25.3L117.3 -31.5L114.0 -37.6L110.2 -43.5L105.6 -49.4L100.5 -55.1L94.6 -60.6L88.0 -65.8L80.7 -70.9L72.4 -75.7L63.2 -80.2L52.8 -84.3L40.6 -87.9L25.8 -91.0L0.0 -93.0"  stroke="#b4b4b4" stroke-width="0.45" fill="none"/>
<g fill="none" stroke="#000" stroke-width="1.25" stroke-linejoin="round"><use href="#land"/><use href="#gl"/><use href="#ant"/><use href="#holes"/></g>
</g>
<ellipse rx="187.0" ry="93.0" fill="none" stroke="#000" stroke-width="1.4"/>
<text x="0" y="-103.1" font-size="23" text-anchor="middle">depth = 10 cm</text>
<text x="-120.0" y="-65.9" font-size="19.5" text-anchor="end">60°N</text>
<text x="-170.1" y="-32.6" font-size="19.5" text-anchor="end">30°N</text>
<text x="-186.0" y="5.0" font-size="19.5" text-anchor="end">0°</text>
<text x="-170.1" y="42.6" font-size="19.5" text-anchor="end">30°S</text>
<text x="-120.0" y="76.6" font-size="19.5" text-anchor="end">60°S</text>
<text x="-93.5" y="76.6" font-size="19" text-anchor="middle">120°W</text>
<text x="0" y="76.6" font-size="19" text-anchor="middle">0°</text>
<text x="95.3" y="76.6" font-size="19" text-anchor="middle">120°E</text>
</g>
<g transform="translate(233 575)">
<ellipse rx="187.0" ry="93.0" fill="#f0f0f0"/>
<g clip-path="url(#ell)">
<use href="#ws" fill="#fff"/><use href="#ant" fill="#f3f3f3"/><use href="#gl" fill="#fff"/><use href="#land" fill="#fff"/>
<g clip-path="url(#cl)"><g filter="url(#cm0)"><rect x="-190" y="-95" width="380" height="190" fill="url(#z02)"/><ellipse cx="9.0" cy="-24.7" rx="30.0" ry="13.1" fill="url(#rf212)" opacity="0.95"/><ellipse cx="27.6" cy="-16.5" rx="16.4" ry="7.6" fill="url(#r240)" opacity="0.9"/><ellipse cx="-4.0" cy="-21.5" rx="13.1" ry="7.5" fill="url(#r224)" opacity="0.6"/><ellipse cx="16.1" cy="-22.8" rx="10.1" ry="6.2" fill="url(#r220)" opacity="0.5"/><ellipse cx="-4.7" cy="-41.2" rx="4.7" ry="3.0" fill="url(#r136)" opacity="0.5"/><ellipse cx="17.3" cy="-35.1" rx="23.1" ry="6.1" fill="url(#r188)" opacity="0.6"/><ellipse cx="11.2" cy="-41.2" rx="18.6" ry="4.2" fill="url(#r176)" opacity="0.7"/><ellipse cx="46.8" cy="-26.5" rx="10.0" ry="11.2" fill="url(#rf212)" opacity="0.95"/><ellipse cx="41.0" cy="-41.2" rx="6.5" ry="4.8" fill="url(#r152)" opacity="0.5"/><ellipse cx="46.6" cy="-7.6" rx="5.2" ry="6.4" fill="url(#r180)" opacity="0.6"/><ellipse cx="22.8" cy="3.8" rx="13.5" ry="8.9" fill="url(#r152)" opacity="0.55"/><ellipse cx="37.4" cy="-1.3" rx="5.2" ry="11.5" fill="url(#r148)" opacity="0.5"/><ellipse cx="40.2" cy="-11.5" rx="4.1" ry="5.1" fill="url(#r152)" opacity="0.5"/><ellipse cx="19.6" cy="30.3" rx="9.8" ry="9.8" fill="url(#r188)" opacity="0.8"/><ellipse cx="24.6" cy="38.8" rx="7.6" ry="4.8" fill="url(#r152)" opacity="0.4"/><ellipse cx="47.2" cy="24.1" rx="3.0" ry="8.7" fill="url(#r160)" opacity="0.3"/><ellipse cx="0.0" cy="-8.9" rx="12.4" ry="3.8" fill="url(#r168)" opacity="0.4"/><ellipse cx="77.7" cy="-26.5" rx="10.0" ry="13.6" fill="url(#r196)" opacity="0.9"/><ellipse cx="67.3" cy="-35.1" rx="5.8" ry="6.1" fill="url(#r188)" opacity="0.7"/><ellipse cx="103.4" cy="-20.3" rx="9.1" ry="11.3" fill="url(#r184)" opacity="0.7"/><ellipse cx="82.6" cy="-41.8" rx="16.7" ry="7.7" fill="url(#r28)" opacity="0.95" transform="rotate(-8 82.6 -41.8)"/><ellipse cx="68.7" cy="-45.9" rx="6.3" ry="4.1" fill="url(#r36)" opacity="0.8"/><ellipse cx="75.5" cy="-48.2" rx="6.2" ry="2.1" fill="url(#r148)" opacity="0.6"/><ellipse cx="55.9" cy="-41.2" rx="11.2" ry="8.3" fill="url(#r172)" opacity="0.85"/><ellipse cx="54.0" cy="-57.3" rx="19.6" ry="6.6" fill="url(#r96)" opacity="0.6"/><ellipse cx="71.0" cy="-60.6" rx="11.0" ry="4.3" fill="url(#r80)" opacity="0.5"/><ellipse cx="80.7" cy="-72.8" rx="27.1" ry="11.5" fill="url(#r0)" opacity="0.9"/><ellipse cx="81.8" cy="-57.3" rx="12.3" ry="6.6" fill="url(#r28)" opacity="0.7"/><ellipse cx="102.7" cy="-58.4" rx="8.1" ry="7.7" fill="url(#r16)" opacity="0.75"/><ellipse cx="107.6" cy="-38.8" rx="8.5" ry="7.2" fill="url(#r128)" opacity="0.5"/><ellipse cx="105.6" cy="-31.5" rx="7.8" ry="4.9" fill="url(#r140)" opacity="0.4"/><ellipse cx="124.7" cy="-0.0" rx="31.2" ry="8.9" fill="url(#r152)" opacity="0.55"/><ellipse cx="145.1" cy="6.4" rx="8.3" ry="5.1" fill="url(#r152)" opacity="0.5"/><ellipse cx="124.7" cy="-45.9" rx="3.6" ry="4.7" fill="url(#r84)" opacity="0.4"/><ellipse cx="50.4" cy="-70.9" rx="16.8" ry="5.9" fill="url(#r0)" opacity="0.3"/><ellipse cx="0.0" cy="-56.2" rx="8.3" ry="6.7" fill="url(#r92)" opacity="0.7"/><ellipse cx="-3.5" cy="-49.4" rx="4.4" ry="4.6" fill="url(#r108)" opacity="0.5"/><ellipse cx="9.5" cy="-73.8" rx="5.7" ry="5.7" fill="url(#r28)" opacity="0.6"/><ellipse cx="27.4" cy="-66.9" rx="15.9" ry="8.2" fill="url(#r16)" opacity="0.5"/><ellipse cx="18.9" cy="-60.6" rx="12.6" ry="5.4" fill="url(#r36)" opacity="0.6"/><ellipse cx="17.3" cy="-51.7" rx="8.6" ry="4.6" fill="url(#r96)" opacity="0.4"/><ellipse cx="31.1" cy="-48.2" rx="8.0" ry="4.1" fill="url(#r80)" opacity="0.7"/><ellipse cx="-64.3" cy="-57.8" rx="14.6" ry="11.0" fill="url(#r8)" opacity="0.9"/><ellipse cx="-100.1" cy="-52.8" rx="10.3" ry="13.5" fill="url(#r128)" opacity="0.85"/><ellipse cx="-93.2" cy="-41.2" rx="8.4" ry="6.0" fill="url(#r144)" opacity="0.45"/><ellipse cx="-100.7" cy="-29.0" rx="6.9" ry="8.6" fill="url(#r188)" opacity="0.7"/><ellipse cx="-89.2" cy="-20.3" rx="6.1" ry="5.0" fill="url(#r168)" opacity="0.4"/><ellipse cx="-61.8" cy="-76.6" rx="17.7" ry="8.2" fill="url(#r0)" opacity="0.6"/><ellipse cx="-92.7" cy="-74.8" rx="8.0" ry="4.7" fill="url(#r12)" opacity="0.4"/><ellipse cx="-94.5" cy="-63.8" rx="5.3" ry="7.4" fill="url(#r52)" opacity="0.5"/><ellipse cx="-83.6" cy="-49.4" rx="7.0" ry="5.8" fill="url(#r84)" opacity="0.3"/><ellipse cx="-68.3" cy="-8.9" rx="9.3" ry="5.1" fill="url(#r188)" opacity="0.65"/><ellipse cx="-77.5" cy="14.0" rx="2.3" ry="11.4" fill="url(#r116)" opacity="0.7" transform="rotate(-38 -77.5 14.0)"/><ellipse cx="-68.3" cy="30.3" rx="2.0" ry="9.8" fill="url(#r116)" opacity="0.7"/><ellipse cx="-64.3" cy="43.5" rx="3.2" ry="11.8" fill="url(#r108)" opacity="0.55"/><ellipse cx="-43.4" cy="10.2" rx="6.2" ry="7.6" fill="url(#r172)" opacity="0.4"/><ellipse cx="-60.0" cy="33.9" rx="6.8" ry="7.3" fill="url(#r172)" opacity="0.5"/><ellipse cx="-55.0" cy="58.4" rx="4.0" ry="7.7" fill="url(#r96)" opacity="0.4"/><ellipse cx="128.9" cy="27.8" rx="19.8" ry="13.6" fill="url(#r200)" opacity="0.9"/><ellipse cx="126.5" cy="38.8" rx="15.1" ry="4.8" fill="url(#r172)" opacity="0.6"/><ellipse cx="133.9" cy="44.7" rx="5.5" ry="4.7" fill="url(#r148)" opacity="0.5"/><ellipse cx="108.6" cy="41.8" rx="4.6" ry="3.6" fill="url(#r152)" opacity="0.4"/></g></g>
<use href="#holes" fill="#fff"/>
<path d="M-121.0 70.5H121.0" stroke="#b0b0b0" stroke-width="0.8" fill="none"/>
<path d="M-171.1 37.5H171.1" stroke="#b0b0b0" stroke-width="0.8" fill="none"/>
<path d="M-187.0 -0.5H187.0" stroke="#b0b0b0" stroke-width="0.8" fill="none"/>
<path d="M-171.1 -37.5H171.1" stroke="#b0b0b0" stroke-width="0.8" fill="none"/>
<path d="M-121.0 -70.5H121.0" stroke="#b0b0b0" stroke-width="0.8" fill="none"/>
<path d="M-0.0 93.0L-25.8 91.0L-40.6 87.9L-52.8 84.3L-63.2 80.2L-72.4 75.7L-80.7 70.9L-88.0 65.8L-94.6 60.6L-100.5 55.1L-105.6 49.4L-110.2 43.5L-114.0 37.6L-117.3 31.5L-120.0 25.3L-122.0 19.0L-123.5 12.7L-124.4 6.4L-124.7 -0.0L-124.4 -6.4L-123.5 -12.7L-122.0 -19.0L-120.0 -25.3L-117.3 -31.5L-114.0 -37.6L-110.2 -43.5L-105.6 -49.4L-100.5 -55.1L-94.6 -60.6L-88.0 -65.8L-80.7 -70.9L-72.4 -75.7L-63.2 -80.2L-52.8 -84.3L-40.6 -87.9L-25.8 -91.0L-0.0 -93.0"  stroke="#b4b4b4" stroke-width="0.45" fill="none"/>
<path d="M-0.5 -93.0V93.0"  stroke="#b8b8b8" stroke-width="0.8" fill="none"/>
<path d="M0.0 93.0L25.8 91.0L40.6 87.9L52.8 84.3L63.2 80.2L72.4 75.7L80.7 70.9L88.0 65.8L94.6 60.6L100.5 55.1L105.6 49.4L110.2 43.5L114.0 37.6L117.3 31.5L120.0 25.3L122.0 19.0L123.5 12.7L124.4 6.4L124.7 -0.0L124.4 -6.4L123.5 -12.7L122.0 -19.0L120.0 -25.3L117.3 -31.5L114.0 -37.6L110.2 -43.5L105.6 -49.4L100.5 -55.1L94.6 -60.6L88.0 -65.8L80.7 -70.9L72.4 -75.7L63.2 -80.2L52.8 -84.3L40.6 -87.9L25.8 -91.0L0.0 -93.0"  stroke="#b4b4b4" stroke-width="0.45" fill="none"/>
<g fill="none" stroke="#000" stroke-width="1.25" stroke-linejoin="round"><use href="#land"/><use href="#gl"/><use href="#ant"/><use href="#holes"/></g>
</g>
<ellipse rx="187.0" ry="93.0" fill="none" stroke="#000" stroke-width="1.4"/>
<text x="0" y="-103.1" font-size="23" text-anchor="middle">depth = 20 cm</text>
<text x="-120.0" y="-65.9" font-size="19.5" text-anchor="end">60°N</text>
<text x="-170.1" y="-32.6" font-size="19.5" text-anchor="end">30°N</text>
<text x="-186.0" y="5.0" font-size="19.5" text-anchor="end">0°</text>
<text x="-170.1" y="42.6" font-size="19.5" text-anchor="end">30°S</text>
<text x="-120.0" y="76.6" font-size="19.5" text-anchor="end">60°S</text>
<text x="-93.5" y="76.6" font-size="19" text-anchor="middle">120°W</text>
<text x="0" y="76.6" font-size="19" text-anchor="middle">0°</text>
<text x="95.3" y="76.6" font-size="19" text-anchor="middle">120°E</text>
</g>
<g transform="translate(685 575)">
<ellipse rx="187.0" ry="93.0" fill="#f0f0f0"/>
<g clip-path="url(#ell)">
<use href="#ws" fill="#fff"/><use href="#ant" fill="#f3f3f3"/><use href="#gl" fill="#fff"/><use href="#land" fill="#fff"/>
<g clip-path="url(#cl)"><g clip-path="url(#nc)"><g filter="url(#cm1)"><rect x="-190" y="-95" width="380" height="190" fill="url(#z12)"/><ellipse cx="7.8" cy="-30.9" rx="30.4" ry="12.3" fill="url(#rf216)" opacity="0.95"/><ellipse cx="-3.9" cy="-30.3" rx="13.8" ry="9.8" fill="url(#r252)" opacity="0.9"/><ellipse cx="16.5" cy="-32.7" rx="9.7" ry="6.1" fill="url(#r232)" opacity="0.6"/><ellipse cx="29.6" cy="-29.0" rx="8.9" ry="7.4" fill="url(#r212)" opacity="0.6"/><ellipse cx="44.0" cy="-31.5" rx="9.8" ry="11.0" fill="url(#rf252)" opacity="0.95"/><ellipse cx="37.6" cy="-43.5" rx="8.3" ry="5.3" fill="url(#r216)" opacity="0.85"/><ellipse cx="8.2" cy="-15.3" rx="30.7" ry="3.8" fill="url(#r168)" opacity="0.4"/><ellipse cx="53.5" cy="-40.0" rx="10.3" ry="8.4" fill="url(#r220)" opacity="0.95"/><ellipse cx="65.4" cy="-35.1" rx="6.7" ry="7.3" fill="url(#r224)" opacity="0.9"/><ellipse cx="54.1" cy="-50.5" rx="12.2" ry="6.9" fill="url(#r224)" opacity="0.95"/><ellipse cx="76.6" cy="-30.3" rx="7.9" ry="7.4" fill="url(#r192)" opacity="0.7"/><ellipse cx="79.7" cy="-16.5" rx="4.1" ry="6.3" fill="url(#r168)" opacity="0.4"/><ellipse cx="58.2" cy="-58.4" rx="16.2" ry="5.5" fill="url(#r180)" opacity="0.7"/><ellipse cx="82.6" cy="-41.8" rx="15.8" ry="7.1" fill="url(#r100)" opacity="1" transform="rotate(-8 82.6 -41.8)"/><ellipse cx="79.5" cy="-51.7" rx="16.4" ry="5.1" fill="url(#r208)" opacity="0.9"/><ellipse cx="96.6" cy="-52.8" rx="8.6" ry="5.1" fill="url(#r180)" opacity="0.7"/><ellipse cx="94.9" cy="-45.9" rx="5.4" ry="3.5" fill="url(#r156)" opacity="0.3"/><ellipse cx="101.7" cy="-19.0" rx="10.2" ry="10.1" fill="url(#r164)" opacity="0.4"/><ellipse cx="107.7" cy="-35.1" rx="9.6" ry="7.3" fill="url(#r156)" opacity="0.5"/><ellipse cx="53.8" cy="-70.9" rx="21.5" ry="5.9" fill="url(#r120)" opacity="0.4"/><ellipse cx="90.7" cy="-68.9" rx="15.3" ry="7.0" fill="url(#r124)" opacity="0.4"/><ellipse cx="102.3" cy="-57.3" rx="6.5" ry="5.5" fill="url(#r152)" opacity="0.5"/><ellipse cx="-103.0" cy="-45.9" rx="9.0" ry="14.0" fill="url(#r216)" opacity="0.95"/><ellipse cx="-90.5" cy="-47.1" rx="8.1" ry="11.6" fill="url(#r180)" opacity="0.7"/><ellipse cx="-100.6" cy="-33.9" rx="6.8" ry="7.3" fill="url(#r196)" opacity="0.7"/><ellipse cx="-75.9" cy="-45.9" rx="8.1" ry="8.2" fill="url(#r148)" opacity="0.5"/><ellipse cx="-57.5" cy="-62.7" rx="8.4" ry="8.5" fill="url(#r76)" opacity="0.8"/><ellipse cx="-83.7" cy="-68.9" rx="9.8" ry="6.0" fill="url(#r136)" opacity="0.4"/><ellipse cx="-84.7" cy="-63.8" rx="10.6" ry="6.3" fill="url(#r160)" opacity="0.65"/><ellipse cx="6.5" cy="-58.4" rx="10.5" ry="6.6" fill="url(#r136)" opacity="0.5"/><ellipse cx="-3.5" cy="-49.4" rx="4.4" ry="4.6" fill="url(#r172)" opacity="0.7"/><ellipse cx="24.6" cy="-62.7" rx="12.3" ry="7.4" fill="url(#r140)" opacity="0.4"/><ellipse cx="26.4" cy="-49.4" rx="7.0" ry="3.5" fill="url(#r172)" opacity="0.5"/><ellipse cx="9.7" cy="-72.8" rx="5.2" ry="4.8" fill="url(#r104)" opacity="0.3"/><ellipse cx="-77.5" cy="14.0" rx="2.3" ry="11.4" fill="url(#r100)" opacity="0.7" transform="rotate(-38 -77.5 14.0)"/><ellipse cx="-68.3" cy="30.3" rx="2.0" ry="9.8" fill="url(#r100)" opacity="0.7"/><ellipse cx="-61.6" cy="49.4" rx="4.4" ry="13.8" fill="url(#r36)" opacity="0.65"/><ellipse cx="-57.7" cy="11.5" rx="17.5" ry="15.2" fill="url(#r164)" opacity="0.65"/><ellipse cx="-43.4" cy="10.2" rx="6.2" ry="7.6" fill="url(#r172)" opacity="0.5"/><ellipse cx="-57.5" cy="27.8" rx="7.9" ry="7.4" fill="url(#r156)" opacity="0.3"/><ellipse cx="22.9" cy="-0.0" rx="12.5" ry="10.2" fill="url(#r148)" opacity="0.45"/><ellipse cx="39.2" cy="-10.2" rx="5.2" ry="6.3" fill="url(#r136)" opacity="0.55"/><ellipse cx="37.4" cy="3.8" rx="4.2" ry="7.6" fill="url(#r140)" opacity="0.4"/><ellipse cx="24.0" cy="35.1" rx="8.7" ry="7.3" fill="url(#r112)" opacity="0.35"/><ellipse cx="22.5" cy="15.3" rx="12.3" ry="7.6" fill="url(#r148)" opacity="0.3"/><ellipse cx="127.5" cy="38.8" rx="15.1" ry="6.0" fill="url(#r108)" opacity="0.45"/><ellipse cx="125.0" cy="25.3" rx="10.0" ry="8.7" fill="url(#r140)" opacity="0.4"/><ellipse cx="124.7" cy="-0.0" rx="31.2" ry="7.6" fill="url(#r152)" opacity="0.3"/></g></g></g>
<use href="#holes" fill="#fff"/>
<path d="M-121.0 70.5H121.0" stroke="#b0b0b0" stroke-width="0.8" fill="none"/>
<path d="M-171.1 37.5H171.1" stroke="#b0b0b0" stroke-width="0.8" fill="none"/>
<path d="M-187.0 -0.5H187.0" stroke="#b0b0b0" stroke-width="0.8" fill="none"/>
<path d="M-171.1 -37.5H171.1" stroke="#b0b0b0" stroke-width="0.8" fill="none"/>
<path d="M-121.0 -70.5H121.0" stroke="#b0b0b0" stroke-width="0.8" fill="none"/>
<path d="M-0.0 93.0L-25.8 91.0L-40.6 87.9L-52.8 84.3L-63.2 80.2L-72.4 75.7L-80.7 70.9L-88.0 65.8L-94.6 60.6L-100.5 55.1L-105.6 49.4L-110.2 43.5L-114.0 37.6L-117.3 31.5L-120.0 25.3L-122.0 19.0L-123.5 12.7L-124.4 6.4L-124.7 -0.0L-124.4 -6.4L-123.5 -12.7L-122.0 -19.0L-120.0 -25.3L-117.3 -31.5L-114.0 -37.6L-110.2 -43.5L-105.6 -49.4L-100.5 -55.1L-94.6 -60.6L-88.0 -65.8L-80.7 -70.9L-72.4 -75.7L-63.2 -80.2L-52.8 -84.3L-40.6 -87.9L-25.8 -91.0L-0.0 -93.0"  stroke="#b4b4b4" stroke-width="0.45" fill="none"/>
<path d="M-0.5 -93.0V93.0"  stroke="#b8b8b8" stroke-width="0.8" fill="none"/>
<path d="M0.0 93.0L25.8 91.0L40.6 87.9L52.8 84.3L63.2 80.2L72.4 75.7L80.7 70.9L88.0 65.8L94.6 60.6L100.5 55.1L105.6 49.4L110.2 43.5L114.0 37.6L117.3 31.5L120.0 25.3L122.0 19.0L123.5 12.7L124.4 6.4L124.7 -0.0L124.4 -6.4L123.5 -12.7L122.0 -19.0L120.0 -25.3L117.3 -31.5L114.0 -37.6L110.2 -43.5L105.6 -49.4L100.5 -55.1L94.6 -60.6L88.0 -65.8L80.7 -70.9L72.4 -75.7L63.2 -80.2L52.8 -84.3L40.6 -87.9L25.8 -91.0L0.0 -93.0"  stroke="#b4b4b4" stroke-width="0.45" fill="none"/>
<g fill="none" stroke="#000" stroke-width="1.25" stroke-linejoin="round"><use href="#land"/><use href="#gl"/><use href="#ant"/><use href="#holes"/></g>
</g>
<ellipse rx="187.0" ry="93.0" fill="none" stroke="#000" stroke-width="1.4"/>
<text x="0" y="-103.1" font-size="23" text-anchor="middle">depth = 20 cm</text>
<text x="-120.0" y="-65.9" font-size="19.5" text-anchor="end">60°N</text>
<text x="-170.1" y="-32.6" font-size="19.5" text-anchor="end">30°N</text>
<text x="-186.0" y="5.0" font-size="19.5" text-anchor="end">0°</text>
<text x="-170.1" y="42.6" font-size="19.5" text-anchor="end">30°S</text>
<text x="-120.0" y="76.6" font-size="19.5" text-anchor="end">60°S</text>
<text x="-93.5" y="76.6" font-size="19" text-anchor="middle">120°W</text>
<text x="0" y="76.6" font-size="19" text-anchor="middle">0°</text>
<text x="95.3" y="76.6" font-size="19" text-anchor="middle">120°E</text>
</g>
<g transform="translate(1137 575)">
<ellipse rx="187.0" ry="93.0" fill="#f0f0f0"/>
<g clip-path="url(#ell)">
<use href="#ws" fill="#fff"/><use href="#ant" fill="#f3f3f3"/><use href="#gl" fill="#fff"/><use href="#land" fill="#fff"/>
<g clip-path="url(#cl)"><g filter="url(#cm2)"><rect x="-190" y="-95" width="380" height="190" fill="url(#z22)"/><ellipse cx="8.9" cy="-28.4" rx="30.7" ry="10.5" fill="url(#rf220)" opacity="0.95"/><ellipse cx="-8.0" cy="-26.5" rx="11.9" ry="7.4" fill="url(#r252)" opacity="0.8"/><ellipse cx="21.9" cy="-26.5" rx="15.9" ry="7.4" fill="url(#r232)" opacity="0.7"/><ellipse cx="44.5" cy="-28.4" rx="9.9" ry="11.1" fill="url(#rf252)" opacity="0.95"/><ellipse cx="38.2" cy="-41.2" rx="7.5" ry="4.8" fill="url(#r196)" opacity="0.8"/><ellipse cx="14.3" cy="-37.6" rx="24.7" ry="5.4" fill="url(#r200)" opacity="0.8"/><ellipse cx="46.9" cy="-40.0" rx="11.3" ry="6.0" fill="url(#r196)" opacity="0.8"/><ellipse cx="8.2" cy="-12.7" rx="30.9" ry="3.8" fill="url(#r164)" opacity="0.4"/><ellipse cx="52.9" cy="-38.8" rx="9.4" ry="7.2" fill="url(#r192)" opacity="0.75"/><ellipse cx="66.7" cy="-33.9" rx="6.8" ry="7.3" fill="url(#r196)" opacity="0.8"/><ellipse cx="54.6" cy="-49.4" rx="9.7" ry="5.8" fill="url(#r176)" opacity="0.7"/><ellipse cx="77.7" cy="-26.5" rx="8.0" ry="11.2" fill="url(#r176)" opacity="0.6"/><ellipse cx="82.6" cy="-41.8" rx="16.7" ry="7.7" fill="url(#r64)" opacity="1" transform="rotate(-8 82.6 -41.8)"/><ellipse cx="79.2" cy="-49.4" rx="7.9" ry="2.9" fill="url(#r164)" opacity="0.6"/><ellipse cx="82.8" cy="-56.2" rx="10.8" ry="5.6" fill="url(#r88)" opacity="0.45"/><ellipse cx="73.7" cy="-75.7" rx="20.5" ry="7.4" fill="url(#r24)" opacity="0.6"/><ellipse cx="38.7" cy="-72.8" rx="16.1" ry="5.8" fill="url(#r76)" opacity="0.3"/><ellipse cx="109.3" cy="-37.6" rx="8.6" ry="7.2" fill="url(#r152)" opacity="0.4"/><ellipse cx="103.4" cy="-20.3" rx="8.1" ry="10.0" fill="url(#r160)" opacity="0.4"/><ellipse cx="124.7" cy="-0.0" rx="29.1" ry="7.6" fill="url(#r156)" opacity="0.5"/><ellipse cx="145.1" cy="6.4" rx="8.3" ry="5.1" fill="url(#r152)" opacity="0.5"/><ellipse cx="-102.8" cy="-43.5" rx="8.3" ry="10.6" fill="url(#r180)" opacity="0.75"/><ellipse cx="-91.8" cy="-43.5" rx="7.3" ry="8.3" fill="url(#r164)" opacity="0.45"/><ellipse cx="-65.2" cy="-62.7" rx="12.3" ry="9.5" fill="url(#r44)" opacity="0.7"/><ellipse cx="-72.6" cy="-70.9" rx="18.8" ry="7.9" fill="url(#r40)" opacity="0.65"/><ellipse cx="-89.3" cy="-68.9" rx="11.2" ry="8.0" fill="url(#r56)" opacity="0.6"/><ellipse cx="-77.4" cy="-44.7" rx="8.2" ry="5.9" fill="url(#r148)" opacity="0.4"/><ellipse cx="-100.2" cy="-30.3" rx="5.9" ry="7.4" fill="url(#r172)" opacity="0.4"/><ellipse cx="4.2" cy="-55.1" rx="9.2" ry="6.7" fill="url(#r140)" opacity="0.5"/><ellipse cx="23.0" cy="-62.7" rx="11.5" ry="6.4" fill="url(#r116)" opacity="0.4"/><ellipse cx="-3.5" cy="-49.4" rx="4.4" ry="4.6" fill="url(#r168)" opacity="0.7"/><ellipse cx="32.3" cy="-58.4" rx="14.6" ry="5.5" fill="url(#r136)" opacity="0.4"/><ellipse cx="9.5" cy="-73.8" rx="5.1" ry="4.7" fill="url(#r60)" opacity="0.3"/><ellipse cx="-77.5" cy="14.0" rx="2.3" ry="11.4" fill="url(#r124)" opacity="0.7" transform="rotate(-38 -77.5 14.0)"/><ellipse cx="-68.3" cy="30.3" rx="2.0" ry="9.8" fill="url(#r124)" opacity="0.7"/><ellipse cx="-60.5" cy="51.7" rx="4.3" ry="11.4" fill="url(#r48)" opacity="0.6"/><ellipse cx="-51.2" cy="15.3" rx="13.3" ry="12.6" fill="url(#r184)" opacity="0.6"/><ellipse cx="-64.4" cy="2.5" rx="9.3" ry="7.6" fill="url(#r164)" opacity="0.3"/><ellipse cx="-59.6" cy="35.1" rx="5.8" ry="6.1" fill="url(#r160)" opacity="0.3"/><ellipse cx="22.4" cy="17.8" rx="13.3" ry="12.6" fill="url(#r180)" opacity="0.5"/><ellipse cx="39.4" cy="-6.4" rx="5.2" ry="8.9" fill="url(#r152)" opacity="0.5"/><ellipse cx="22.9" cy="-1.3" rx="10.4" ry="5.1" fill="url(#r156)" opacity="0.4"/><ellipse cx="23.8" cy="37.6" rx="7.6" ry="4.8" fill="url(#r148)" opacity="0.4"/><ellipse cx="129.9" cy="27.8" rx="18.8" ry="12.4" fill="url(#r188)" opacity="0.85"/><ellipse cx="134.0" cy="43.5" rx="6.4" ry="5.9" fill="url(#r136)" opacity="0.5"/><ellipse cx="110.7" cy="40.0" rx="5.6" ry="4.8" fill="url(#r140)" opacity="0.4"/></g></g>
<use href="#holes" fill="#fff"/>
<path d="M-121.0 70.5H121.0" stroke="#b0b0b0" stroke-width="0.8" fill="none"/>
<path d="M-171.1 37.5H171.1" stroke="#b0b0b0" stroke-width="0.8" fill="none"/>
<path d="M-187.0 -0.5H187.0" stroke="#b0b0b0" stroke-width="0.8" fill="none"/>
<path d="M-171.1 -37.5H171.1" stroke="#b0b0b0" stroke-width="0.8" fill="none"/>
<path d="M-121.0 -70.5H121.0" stroke="#b0b0b0" stroke-width="0.8" fill="none"/>
<path d="M-0.0 93.0L-25.8 91.0L-40.6 87.9L-52.8 84.3L-63.2 80.2L-72.4 75.7L-80.7 70.9L-88.0 65.8L-94.6 60.6L-100.5 55.1L-105.6 49.4L-110.2 43.5L-114.0 37.6L-117.3 31.5L-120.0 25.3L-122.0 19.0L-123.5 12.7L-124.4 6.4L-124.7 -0.0L-124.4 -6.4L-123.5 -12.7L-122.0 -19.0L-120.0 -25.3L-117.3 -31.5L-114.0 -37.6L-110.2 -43.5L-105.6 -49.4L-100.5 -55.1L-94.6 -60.6L-88.0 -65.8L-80.7 -70.9L-72.4 -75.7L-63.2 -80.2L-52.8 -84.3L-40.6 -87.9L-25.8 -91.0L-0.0 -93.0"  stroke="#b4b4b4" stroke-width="0.45" fill="none"/>
<path d="M-0.5 -93.0V93.0"  stroke="#a0a0a0" stroke-width="0.8" fill="none"/>
<path d="M0.0 93.0L25.8 91.0L40.6 87.9L52.8 84.3L63.2 80.2L72.4 75.7L80.7 70.9L88.0 65.8L94.6 60.6L100.5 55.1L105.6 49.4L110.2 43.5L114.0 37.6L117.3 31.5L120.0 25.3L122.0 19.0L123.5 12.7L124.4 6.4L124.7 -0.0L124.4 -6.4L123.5 -12.7L122.0 -19.0L120.0 -25.3L117.3 -31.5L114.0 -37.6L110.2 -43.5L105.6 -49.4L100.5 -55.1L94.6 -60.6L88.0 -65.8L80.7 -70.9L72.4 -75.7L63.2 -80.2L52.8 -84.3L40.6 -87.9L25.8 -91.0L0.0 -93.0"  stroke="#b4b4b4" stroke-width="0.45" fill="none"/>
<g fill="none" stroke="#000" stroke-width="1.25" stroke-linejoin="round"><use href="#land"/><use href="#gl"/><use href="#ant"/><use href="#holes"/></g>
</g>
<ellipse rx="187.0" ry="93.0" fill="none" stroke="#000" stroke-width="1.4"/>
<text x="0" y="-103.1" font-size="23" text-anchor="middle">depth = 20 cm</text>
<text x="-120.0" y="-65.9" font-size="19.5" text-anchor="end">60°N</text>
<text x="-170.1" y="-32.6" font-size="19.5" text-anchor="end">30°N</text>
<text x="-186.0" y="5.0" font-size="19.5" text-anchor="end">0°</text>
<text x="-170.1" y="42.6" font-size="19.5" text-anchor="end">30°S</text>
<text x="-120.0" y="76.6" font-size="19.5" text-anchor="end">60°S</text>
<text x="-93.5" y="76.6" font-size="19" text-anchor="middle">120°W</text>
<text x="0" y="76.6" font-size="19" text-anchor="middle">0°</text>
<text x="95.3" y="76.6" font-size="19" text-anchor="middle">120°E</text>
</g>
<g transform="translate(1589 575)">
<ellipse rx="187.0" ry="93.0" fill="#f0f0f0"/>
<g clip-path="url(#ell)">
<use href="#ws" fill="#fff"/><use href="#ant" fill="#f3f3f3"/><use href="#gl" fill="#fff"/><use href="#land" fill="#fff"/>
<g clip-path="url(#cl)"><g clip-path="url(#nc)"><g filter="url(#cm3)"><rect x="-190" y="-95" width="380" height="190" fill="url(#z32)"/><ellipse cx="69.3" cy="-66.9" rx="34.7" ry="10.7" fill="url(#rf0)" opacity="0.95"/><ellipse cx="79.9" cy="-59.5" rx="27.2" ry="7.6" fill="url(#rf0)" opacity="0.85"/><ellipse cx="82.3" cy="-42.4" rx="15.7" ry="7.1" fill="url(#r0)" opacity="1" transform="rotate(-8 82.3 -42.4)"/><ellipse cx="86.2" cy="-55.1" rx="15.1" ry="7.8" fill="url(#r0)" opacity="0.9"/><ellipse cx="102.3" cy="-57.3" rx="8.2" ry="7.7" fill="url(#r0)" opacity="0.75"/><ellipse cx="50.7" cy="-57.3" rx="13.1" ry="6.6" fill="url(#r8)" opacity="0.65"/><ellipse cx="100.4" cy="-47.1" rx="7.2" ry="4.7" fill="url(#r28)" opacity="0.6"/><ellipse cx="82.1" cy="-51.7" rx="25.9" ry="5.7" fill="url(#r4)" opacity="0.8"/><ellipse cx="-70.0" cy="-66.9" rx="17.3" ry="10.2" fill="url(#r0)" opacity="0.8"/><ellipse cx="-102.1" cy="-55.1" rx="5.0" ry="10.0" fill="url(#r68)" opacity="0.55"/><ellipse cx="-108.3" cy="-43.5" rx="4.6" ry="5.9" fill="url(#r108)" opacity="0.4"/><ellipse cx="-76.4" cy="-41.2" rx="7.5" ry="4.8" fill="url(#r108)" opacity="0.4"/><ellipse cx="4.0" cy="-58.4" rx="8.9" ry="7.7" fill="url(#r76)" opacity="0.7"/><ellipse cx="-3.5" cy="-49.4" rx="4.4" ry="4.6" fill="url(#r100)" opacity="0.5"/><ellipse cx="18.3" cy="-65.8" rx="9.5" ry="6.2" fill="url(#r32)" opacity="0.3"/><ellipse cx="13.0" cy="-51.7" rx="8.6" ry="3.4" fill="url(#r88)" opacity="0.4"/><ellipse cx="34.0" cy="-12.7" rx="10.3" ry="10.1" fill="url(#r192)" opacity="0.8"/><ellipse cx="-5.1" cy="-19.0" rx="15.3" ry="6.3" fill="url(#r184)" opacity="0.75"/><ellipse cx="15.3" cy="-16.5" rx="10.2" ry="5.0" fill="url(#r176)" opacity="0.5"/><ellipse cx="15.7" cy="-30.3" rx="15.7" ry="7.4" fill="url(#r144)" opacity="0.5"/><ellipse cx="8.2" cy="-11.5" rx="10.3" ry="5.1" fill="url(#r172)" opacity="0.4"/><ellipse cx="29.7" cy="-27.8" rx="5.9" ry="6.2" fill="url(#r152)" opacity="0.3"/><ellipse cx="45.6" cy="-27.8" rx="7.9" ry="9.9" fill="url(#r156)" opacity="0.4"/><ellipse cx="78.6" cy="-22.8" rx="7.1" ry="11.2" fill="url(#r156)" opacity="0.4"/><ellipse cx="102.7" cy="-19.0" rx="8.1" ry="10.1" fill="url(#r156)" opacity="0.4"/><ellipse cx="110.3" cy="-33.9" rx="8.7" ry="7.3" fill="url(#r100)" opacity="0.5"/><ellipse cx="124.7" cy="-0.0" rx="31.2" ry="7.6" fill="url(#r152)" opacity="0.45"/><ellipse cx="145.1" cy="6.4" rx="8.3" ry="5.1" fill="url(#r152)" opacity="0.4"/><ellipse cx="20.5" cy="31.5" rx="9.8" ry="9.8" fill="url(#r216)" opacity="0.9"/><ellipse cx="26.8" cy="12.7" rx="11.3" ry="7.6" fill="url(#r156)" opacity="0.45"/><ellipse cx="33.0" cy="25.3" rx="5.0" ry="7.5" fill="url(#r172)" opacity="0.4"/><ellipse cx="47.2" cy="24.1" rx="3.0" ry="8.7" fill="url(#r160)" opacity="0.3"/><ellipse cx="128.7" cy="30.3" rx="16.7" ry="10.5" fill="url(#rf220)" opacity="0.95"/><ellipse cx="117.3" cy="31.5" rx="5.9" ry="7.4" fill="url(#r204)" opacity="0.5"/><ellipse cx="132.8" cy="45.9" rx="5.4" ry="4.7" fill="url(#r156)" opacity="0.6"/><ellipse cx="-77.5" cy="14.0" rx="2.3" ry="11.4" fill="url(#r124)" opacity="0.6" transform="rotate(-38 -77.5 14.0)"/><ellipse cx="-68.3" cy="30.3" rx="2.0" ry="9.8" fill="url(#r124)" opacity="0.6"/><ellipse cx="-63.8" cy="44.7" rx="3.2" ry="11.7" fill="url(#r124)" opacity="0.5"/><ellipse cx="-42.2" cy="12.7" rx="6.2" ry="11.4" fill="url(#r184)" opacity="0.7"/><ellipse cx="-62.2" cy="6.4" rx="13.5" ry="10.2" fill="url(#r156)" opacity="0.4"/><ellipse cx="-59.3" cy="36.4" rx="7.6" ry="8.5" fill="url(#r184)" opacity="0.7"/><ellipse cx="-56.9" cy="55.1" rx="4.2" ry="6.7" fill="url(#r140)" opacity="0.4"/><ellipse cx="22.9" cy="-0.0" rx="10.4" ry="7.6" fill="url(#r152)" opacity="0.4"/><ellipse cx="-101.2" cy="-30.3" rx="6.9" ry="7.4" fill="url(#r136)" opacity="0.45"/><ellipse cx="-89.2" cy="-20.3" rx="6.1" ry="5.0" fill="url(#r152)" opacity="0.4"/><ellipse cx="56.3" cy="-40.0" rx="8.4" ry="6.0" fill="url(#r100)" opacity="0.45"/><ellipse cx="94.1" cy="-70.9" rx="14.8" ry="5.9" fill="url(#r0)" opacity="0.5"/></g></g></g>
<use href="#holes" fill="#fff"/>
<path d="M-121.0 70.5H121.0" stroke="#b0b0b0" stroke-width="0.8" fill="none"/>
<path d="M-171.1 37.5H171.1" stroke="#b0b0b0" stroke-width="0.8" fill="none"/>
<path d="M-187.0 -0.5H187.0" stroke="#b0b0b0" stroke-width="0.8" fill="none"/>
<path d="M-171.1 -37.5H171.1" stroke="#b0b0b0" stroke-width="0.8" fill="none"/>
<path d="M-121.0 -70.5H121.0" stroke="#b0b0b0" stroke-width="0.8" fill="none"/>
<path d="M-0.0 93.0L-25.8 91.0L-40.6 87.9L-52.8 84.3L-63.2 80.2L-72.4 75.7L-80.7 70.9L-88.0 65.8L-94.6 60.6L-100.5 55.1L-105.6 49.4L-110.2 43.5L-114.0 37.6L-117.3 31.5L-120.0 25.3L-122.0 19.0L-123.5 12.7L-124.4 6.4L-124.7 -0.0L-124.4 -6.4L-123.5 -12.7L-122.0 -19.0L-120.0 -25.3L-117.3 -31.5L-114.0 -37.6L-110.2 -43.5L-105.6 -49.4L-100.5 -55.1L-94.6 -60.6L-88.0 -65.8L-80.7 -70.9L-72.4 -75.7L-63.2 -80.2L-52.8 -84.3L-40.6 -87.9L-25.8 -91.0L-0.0 -93.0"  stroke="#b4b4b4" stroke-width="0.45" fill="none"/>
<path d="M-0.5 -93.0V93.0"  stroke="#a0a0a0" stroke-width="0.8" fill="none"/>
<path d="M0.0 93.0L25.8 91.0L40.6 87.9L52.8 84.3L63.2 80.2L72.4 75.7L80.7 70.9L88.0 65.8L94.6 60.6L100.5 55.1L105.6 49.4L110.2 43.5L114.0 37.6L117.3 31.5L120.0 25.3L122.0 19.0L123.5 12.7L124.4 6.4L124.7 -0.0L124.4 -6.4L123.5 -12.7L122.0 -19.0L120.0 -25.3L117.3 -31.5L114.0 -37.6L110.2 -43.5L105.6 -49.4L100.5 -55.1L94.6 -60.6L88.0 -65.8L80.7 -70.9L72.4 -75.7L63.2 -80.2L52.8 -84.3L40.6 -87.9L25.8 -91.0L0.0 -93.0"  stroke="#b4b4b4" stroke-width="0.45" fill="none"/>
<g fill="none" stroke="#000" stroke-width="1.25" stroke-linejoin="round"><use href="#land"/><use href="#gl"/><use href="#ant"/><use href="#holes"/></g>
</g>
<ellipse rx="187.0" ry="93.0" fill="none" stroke="#000" stroke-width="1.4"/>
<text x="0" y="-103.1" font-size="23" text-anchor="middle">depth = 20 cm</text>
<text x="-120.0" y="-65.9" font-size="19.5" text-anchor="end">60°N</text>
<text x="-170.1" y="-32.6" font-size="19.5" text-anchor="end">30°N</text>
<text x="-186.0" y="5.0" font-size="19.5" text-anchor="end">0°</text>
<text x="-170.1" y="42.6" font-size="19.5" text-anchor="end">30°S</text>
<text x="-120.0" y="76.6" font-size="19.5" text-anchor="end">60°S</text>
<text x="-93.5" y="76.6" font-size="19" text-anchor="middle">120°W</text>
<text x="0" y="76.6" font-size="19" text-anchor="middle">0°</text>
<text x="95.3" y="76.6" font-size="19" text-anchor="middle">120°E</text>
</g>
<g transform="translate(233 796)">
<ellipse rx="187.0" ry="93.0" fill="#f0f0f0"/>
<g clip-path="url(#ell)">
<use href="#ws" fill="#fff"/><use href="#ant" fill="#f3f3f3"/><use href="#gl" fill="#fff"/><use href="#land" fill="#fff"/>
<g clip-path="url(#cl)"><g filter="url(#cm0)"><rect x="-190" y="-95" width="380" height="190" fill="url(#z03)"/><ellipse cx="9.0" cy="-24.7" rx="30.0" ry="13.1" fill="url(#rf208)" opacity="0.95"/><ellipse cx="27.6" cy="-16.5" rx="16.4" ry="7.6" fill="url(#r236)" opacity="0.9"/><ellipse cx="-4.0" cy="-21.5" rx="13.1" ry="7.5" fill="url(#r220)" opacity="0.6"/><ellipse cx="16.1" cy="-22.8" rx="10.1" ry="6.2" fill="url(#r212)" opacity="0.5"/><ellipse cx="-4.7" cy="-41.2" rx="4.7" ry="3.0" fill="url(#r136)" opacity="0.5"/><ellipse cx="17.3" cy="-35.1" rx="23.1" ry="6.1" fill="url(#r184)" opacity="0.6"/><ellipse cx="11.2" cy="-41.2" rx="18.6" ry="4.2" fill="url(#r172)" opacity="0.7"/><ellipse cx="46.8" cy="-26.5" rx="10.0" ry="11.2" fill="url(#rf208)" opacity="0.95"/><ellipse cx="41.0" cy="-41.2" rx="6.5" ry="4.8" fill="url(#r152)" opacity="0.5"/><ellipse cx="46.6" cy="-7.6" rx="5.2" ry="6.4" fill="url(#r176)" opacity="0.6"/><ellipse cx="22.8" cy="3.8" rx="13.5" ry="8.9" fill="url(#r148)" opacity="0.55"/><ellipse cx="37.4" cy="-1.3" rx="5.2" ry="11.5" fill="url(#r148)" opacity="0.5"/><ellipse cx="40.2" cy="-11.5" rx="4.1" ry="5.1" fill="url(#r148)" opacity="0.5"/><ellipse cx="19.6" cy="30.3" rx="9.8" ry="9.8" fill="url(#r184)" opacity="0.8"/><ellipse cx="24.6" cy="38.8" rx="7.6" ry="4.8" fill="url(#r152)" opacity="0.4"/><ellipse cx="47.2" cy="24.1" rx="3.0" ry="8.7" fill="url(#r160)" opacity="0.3"/><ellipse cx="0.0" cy="-8.9" rx="12.4" ry="3.8" fill="url(#r164)" opacity="0.4"/><ellipse cx="77.7" cy="-26.5" rx="10.0" ry="13.6" fill="url(#r192)" opacity="0.9"/><ellipse cx="67.3" cy="-35.1" rx="5.8" ry="6.1" fill="url(#r184)" opacity="0.7"/><ellipse cx="103.4" cy="-20.3" rx="9.1" ry="11.3" fill="url(#r180)" opacity="0.7"/><ellipse cx="82.6" cy="-41.8" rx="16.7" ry="7.7" fill="url(#r16)" opacity="0.95" transform="rotate(-8 82.6 -41.8)"/><ellipse cx="68.7" cy="-45.9" rx="6.3" ry="4.1" fill="url(#r24)" opacity="0.8"/><ellipse cx="75.5" cy="-48.2" rx="6.2" ry="2.1" fill="url(#r148)" opacity="0.6"/><ellipse cx="55.9" cy="-41.2" rx="11.2" ry="8.3" fill="url(#r172)" opacity="0.85"/><ellipse cx="54.0" cy="-57.3" rx="19.6" ry="6.6" fill="url(#r92)" opacity="0.6"/><ellipse cx="71.0" cy="-60.6" rx="11.0" ry="4.3" fill="url(#r76)" opacity="0.5"/><ellipse cx="80.7" cy="-72.8" rx="27.1" ry="11.5" fill="url(#r0)" opacity="0.9"/><ellipse cx="81.8" cy="-57.3" rx="12.3" ry="6.6" fill="url(#r16)" opacity="0.7"/><ellipse cx="102.7" cy="-58.4" rx="8.1" ry="7.7" fill="url(#r4)" opacity="0.75"/><ellipse cx="107.6" cy="-38.8" rx="8.5" ry="7.2" fill="url(#r128)" opacity="0.5"/><ellipse cx="105.6" cy="-31.5" rx="7.8" ry="4.9" fill="url(#r140)" opacity="0.4"/><ellipse cx="124.7" cy="-0.0" rx="31.2" ry="8.9" fill="url(#r152)" opacity="0.55"/><ellipse cx="145.1" cy="6.4" rx="8.3" ry="5.1" fill="url(#r152)" opacity="0.5"/><ellipse cx="124.7" cy="-45.9" rx="3.6" ry="4.7" fill="url(#r80)" opacity="0.4"/><ellipse cx="50.4" cy="-70.9" rx="16.8" ry="5.9" fill="url(#r0)" opacity="0.3"/><ellipse cx="0.0" cy="-56.2" rx="8.3" ry="6.7" fill="url(#r84)" opacity="0.7"/><ellipse cx="-3.5" cy="-49.4" rx="4.4" ry="4.6" fill="url(#r108)" opacity="0.5"/><ellipse cx="9.5" cy="-73.8" rx="5.7" ry="5.7" fill="url(#r16)" opacity="0.6"/><ellipse cx="27.4" cy="-66.9" rx="15.9" ry="8.2" fill="url(#r4)" opacity="0.5"/><ellipse cx="18.9" cy="-60.6" rx="12.6" ry="5.4" fill="url(#r24)" opacity="0.6"/><ellipse cx="17.3" cy="-51.7" rx="8.6" ry="4.6" fill="url(#r92)" opacity="0.4"/><ellipse cx="31.1" cy="-48.2" rx="8.0" ry="4.1" fill="url(#r76)" opacity="0.7"/><ellipse cx="-64.3" cy="-57.8" rx="14.6" ry="11.0" fill="url(#r0)" opacity="0.9"/><ellipse cx="-100.1" cy="-52.8" rx="10.3" ry="13.5" fill="url(#r128)" opacity="0.85"/><ellipse cx="-93.2" cy="-41.2" rx="8.4" ry="6.0" fill="url(#r144)" opacity="0.45"/><ellipse cx="-100.7" cy="-29.0" rx="6.9" ry="8.6" fill="url(#r184)" opacity="0.7"/><ellipse cx="-89.2" cy="-20.3" rx="6.1" ry="5.0" fill="url(#r164)" opacity="0.4"/><ellipse cx="-61.8" cy="-76.6" rx="17.7" ry="8.2" fill="url(#r0)" opacity="0.6"/><ellipse cx="-92.7" cy="-74.8" rx="8.0" ry="4.7" fill="url(#r0)" opacity="0.4"/><ellipse cx="-94.5" cy="-63.8" rx="5.3" ry="7.4" fill="url(#r44)" opacity="0.5"/><ellipse cx="-83.6" cy="-49.4" rx="7.0" ry="5.8" fill="url(#r80)" opacity="0.3"/><ellipse cx="-68.3" cy="-8.9" rx="9.3" ry="5.1" fill="url(#r184)" opacity="0.65"/><ellipse cx="-77.5" cy="14.0" rx="2.3" ry="11.4" fill="url(#r112)" opacity="0.7" transform="rotate(-38 -77.5 14.0)"/><ellipse cx="-68.3" cy="30.3" rx="2.0" ry="9.8" fill="url(#r112)" opacity="0.7"/><ellipse cx="-64.3" cy="43.5" rx="3.2" ry="11.8" fill="url(#r108)" opacity="0.55"/><ellipse cx="-43.4" cy="10.2" rx="6.2" ry="7.6" fill="url(#r168)" opacity="0.4"/><ellipse cx="-60.0" cy="33.9" rx="6.8" ry="7.3" fill="url(#r172)" opacity="0.5"/><ellipse cx="-55.0" cy="58.4" rx="4.0" ry="7.7" fill="url(#r92)" opacity="0.4"/><ellipse cx="128.9" cy="27.8" rx="19.8" ry="13.6" fill="url(#r196)" opacity="0.9"/><ellipse cx="126.5" cy="38.8" rx="15.1" ry="4.8" fill="url(#r172)" opacity="0.6"/><ellipse cx="133.9" cy="44.7" rx="5.5" ry="4.7" fill="url(#r148)" opacity="0.5"/><ellipse cx="108.6" cy="41.8" rx="4.6" ry="3.6" fill="url(#r152)" opacity="0.4"/></g></g>
<use href="#holes" fill="#fff"/>
<path d="M-121.0 70.5H121.0" stroke="#b0b0b0" stroke-width="0.8" fill="none"/>
<path d="M-171.1 37.5H171.1" stroke="#b0b0b0" stroke-width="0.8" fill="none"/>
<path d="M-187.0 0.5H187.0" stroke="#b0b0b0" stroke-width="0.8" fill="none"/>
<path d="M-171.1 -37.5H171.1" stroke="#b0b0b0" stroke-width="0.8" fill="none"/>
<path d="M-121.0 -70.5H121.0" stroke="#b0b0b0" stroke-width="0.8" fill="none"/>
<path d="M-0.0 93.0L-25.8 91.0L-40.6 87.9L-52.8 84.3L-63.2 80.2L-72.4 75.7L-80.7 70.9L-88.0 65.8L-94.6 60.6L-100.5 55.1L-105.6 49.4L-110.2 43.5L-114.0 37.6L-117.3 31.5L-120.0 25.3L-122.0 19.0L-123.5 12.7L-124.4 6.4L-124.7 -0.0L-124.4 -6.4L-123.5 -12.7L-122.0 -19.0L-120.0 -25.3L-117.3 -31.5L-114.0 -37.6L-110.2 -43.5L-105.6 -49.4L-100.5 -55.1L-94.6 -60.6L-88.0 -65.8L-80.7 -70.9L-72.4 -75.7L-63.2 -80.2L-52.8 -84.3L-40.6 -87.9L-25.8 -91.0L-0.0 -93.0"  stroke="#b4b4b4" stroke-width="0.45" fill="none"/>
<path d="M-0.5 -93.0V93.0"  stroke="#b8b8b8" stroke-width="0.8" fill="none"/>
<path d="M0.0 93.0L25.8 91.0L40.6 87.9L52.8 84.3L63.2 80.2L72.4 75.7L80.7 70.9L88.0 65.8L94.6 60.6L100.5 55.1L105.6 49.4L110.2 43.5L114.0 37.6L117.3 31.5L120.0 25.3L122.0 19.0L123.5 12.7L124.4 6.4L124.7 -0.0L124.4 -6.4L123.5 -12.7L122.0 -19.0L120.0 -25.3L117.3 -31.5L114.0 -37.6L110.2 -43.5L105.6 -49.4L100.5 -55.1L94.6 -60.6L88.0 -65.8L80.7 -70.9L72.4 -75.7L63.2 -80.2L52.8 -84.3L40.6 -87.9L25.8 -91.0L0.0 -93.0"  stroke="#b4b4b4" stroke-width="0.45" fill="none"/>
<g fill="none" stroke="#000" stroke-width="1.25" stroke-linejoin="round"><use href="#land"/><use href="#gl"/><use href="#ant"/><use href="#holes"/></g>
</g>
<ellipse rx="187.0" ry="93.0" fill="none" stroke="#000" stroke-width="1.4"/>
<text x="0" y="-103.1" font-size="23" text-anchor="middle">depth = 30 cm</text>
<text x="-120.0" y="-65.9" font-size="19.5" text-anchor="end">60°N</text>
<text x="-170.1" y="-32.6" font-size="19.5" text-anchor="end">30°N</text>
<text x="-186.0" y="5.0" font-size="19.5" text-anchor="end">0°</text>
<text x="-170.1" y="42.6" font-size="19.5" text-anchor="end">30°S</text>
<text x="-120.0" y="76.6" font-size="19.5" text-anchor="end">60°S</text>
<text x="-93.5" y="76.6" font-size="19" text-anchor="middle">120°W</text>
<text x="0" y="76.6" font-size="19" text-anchor="middle">0°</text>
<text x="95.3" y="76.6" font-size="19" text-anchor="middle">120°E</text>
</g>
<g transform="translate(685 796)">
<ellipse rx="187.0" ry="93.0" fill="#f0f0f0"/>
<g clip-path="url(#ell)">
<use href="#ws" fill="#fff"/><use href="#ant" fill="#f3f3f3"/><use href="#gl" fill="#fff"/><use href="#land" fill="#fff"/>
<g clip-path="url(#cl)"><g clip-path="url(#nc)"><g filter="url(#cm1)"><rect x="-190" y="-95" width="380" height="190" fill="url(#z13)"/><ellipse cx="7.8" cy="-30.9" rx="30.4" ry="12.3" fill="url(#rf208)" opacity="0.95"/><ellipse cx="-3.9" cy="-30.3" rx="13.8" ry="9.8" fill="url(#r252)" opacity="0.9"/><ellipse cx="16.5" cy="-32.7" rx="9.7" ry="6.1" fill="url(#r224)" opacity="0.6"/><ellipse cx="29.6" cy="-29.0" rx="8.9" ry="7.4" fill="url(#r204)" opacity="0.6"/><ellipse cx="44.0" cy="-31.5" rx="9.8" ry="11.0" fill="url(#rf252)" opacity="0.95"/><ellipse cx="37.6" cy="-43.5" rx="8.3" ry="5.3" fill="url(#r208)" opacity="0.85"/><ellipse cx="8.2" cy="-15.3" rx="30.7" ry="3.8" fill="url(#r164)" opacity="0.4"/><ellipse cx="53.5" cy="-40.0" rx="10.3" ry="8.4" fill="url(#r212)" opacity="0.95"/><ellipse cx="65.4" cy="-35.1" rx="6.7" ry="7.3" fill="url(#r216)" opacity="0.9"/><ellipse cx="54.1" cy="-50.5" rx="12.2" ry="6.9" fill="url(#r216)" opacity="0.95"/><ellipse cx="76.6" cy="-30.3" rx="7.9" ry="7.4" fill="url(#r184)" opacity="0.7"/><ellipse cx="79.7" cy="-16.5" rx="4.1" ry="6.3" fill="url(#r164)" opacity="0.4"/><ellipse cx="58.2" cy="-58.4" rx="16.2" ry="5.5" fill="url(#r176)" opacity="0.7"/><ellipse cx="82.6" cy="-41.8" rx="15.8" ry="7.1" fill="url(#r96)" opacity="1" transform="rotate(-8 82.6 -41.8)"/><ellipse cx="79.5" cy="-51.7" rx="16.4" ry="5.1" fill="url(#r200)" opacity="0.9"/><ellipse cx="96.6" cy="-52.8" rx="8.6" ry="5.1" fill="url(#r176)" opacity="0.7"/><ellipse cx="94.9" cy="-45.9" rx="5.4" ry="3.5" fill="url(#r152)" opacity="0.3"/><ellipse cx="101.7" cy="-19.0" rx="10.2" ry="10.1" fill="url(#r160)" opacity="0.4"/><ellipse cx="107.7" cy="-35.1" rx="9.6" ry="7.3" fill="url(#r156)" opacity="0.5"/><ellipse cx="53.8" cy="-70.9" rx="21.5" ry="5.9" fill="url(#r120)" opacity="0.4"/><ellipse cx="90.7" cy="-68.9" rx="15.3" ry="7.0" fill="url(#r124)" opacity="0.4"/><ellipse cx="102.3" cy="-57.3" rx="6.5" ry="5.5" fill="url(#r148)" opacity="0.5"/><ellipse cx="-103.0" cy="-45.9" rx="9.0" ry="14.0" fill="url(#r208)" opacity="0.95"/><ellipse cx="-90.5" cy="-47.1" rx="8.1" ry="11.6" fill="url(#r176)" opacity="0.7"/><ellipse cx="-100.6" cy="-33.9" rx="6.8" ry="7.3" fill="url(#r192)" opacity="0.7"/><ellipse cx="-75.9" cy="-45.9" rx="8.1" ry="8.2" fill="url(#r148)" opacity="0.5"/><ellipse cx="-57.5" cy="-62.7" rx="8.4" ry="8.5" fill="url(#r76)" opacity="0.8"/><ellipse cx="-83.7" cy="-68.9" rx="9.8" ry="6.0" fill="url(#r136)" opacity="0.4"/><ellipse cx="-84.7" cy="-63.8" rx="10.6" ry="6.3" fill="url(#r160)" opacity="0.65"/><ellipse cx="6.5" cy="-58.4" rx="10.5" ry="6.6" fill="url(#r136)" opacity="0.5"/><ellipse cx="-3.5" cy="-49.4" rx="4.4" ry="4.6" fill="url(#r168)" opacity="0.7"/><ellipse cx="24.6" cy="-62.7" rx="12.3" ry="7.4" fill="url(#r140)" opacity="0.4"/><ellipse cx="26.4" cy="-49.4" rx="7.0" ry="3.5" fill="url(#r168)" opacity="0.5"/><ellipse cx="9.7" cy="-72.8" rx="5.2" ry="4.8" fill="url(#r104)" opacity="0.3"/><ellipse cx="-77.5" cy="14.0" rx="2.3" ry="11.4" fill="url(#r96)" opacity="0.7" transform="rotate(-38 -77.5 14.0)"/><ellipse cx="-68.3" cy="30.3" rx="2.0" ry="9.8" fill="url(#r96)" opacity="0.7"/><ellipse cx="-61.6" cy="49.4" rx="4.4" ry="13.8" fill="url(#r32)" opacity="0.65"/><ellipse cx="-57.7" cy="11.5" rx="17.5" ry="15.2" fill="url(#r160)" opacity="0.65"/><ellipse cx="-43.4" cy="10.2" rx="6.2" ry="7.6" fill="url(#r168)" opacity="0.5"/><ellipse cx="-57.5" cy="27.8" rx="7.9" ry="7.4" fill="url(#r152)" opacity="0.3"/><ellipse cx="22.9" cy="-0.0" rx="12.5" ry="10.2" fill="url(#r148)" opacity="0.45"/><ellipse cx="39.2" cy="-10.2" rx="5.2" ry="6.3" fill="url(#r136)" opacity="0.55"/><ellipse cx="37.4" cy="3.8" rx="4.2" ry="7.6" fill="url(#r140)" opacity="0.4"/><ellipse cx="24.0" cy="35.1" rx="8.7" ry="7.3" fill="url(#r112)" opacity="0.35"/><ellipse cx="22.5" cy="15.3" rx="12.3" ry="7.6" fill="url(#r148)" opacity="0.3"/><ellipse cx="127.5" cy="38.8" rx="15.1" ry="6.0" fill="url(#r108)" opacity="0.45"/><ellipse cx="125.0" cy="25.3" rx="10.0" ry="8.7" fill="url(#r140)" opacity="0.4"/><ellipse cx="124.7" cy="-0.0" rx="31.2" ry="7.6" fill="url(#r148)" opacity="0.3"/></g></g></g>
<use href="#holes" fill="#fff"/>
<path d="M-121.0 70.5H121.0" stroke="#b0b0b0" stroke-width="0.8" fill="none"/>
<path d="M-171.1 37.5H171.1" stroke="#b0b0b0" stroke-width="0.8" fill="none"/>
<path d="M-187.0 0.5H187.0" stroke="#b0b0b0" stroke-width="0.8" fill="none"/>
<path d="M-171.1 -37.5H171.1" stroke="#b0b0b0" stroke-width="0.8" fill="none"/>
<path d="M-121.0 -70.5H121.0" stroke="#b0b0b0" stroke-width="0.8" fill="none"/>
<path d="M-0.0 93.0L-25.8 91.0L-40.6 87.9L-52.8 84.3L-63.2 80.2L-72.4 75.7L-80.7 70.9L-88.0 65.8L-94.6 60.6L-100.5 55.1L-105.6 49.4L-110.2 43.5L-114.0 37.6L-117.3 31.5L-120.0 25.3L-122.0 19.0L-123.5 12.7L-124.4 6.4L-124.7 -0.0L-124.4 -6.4L-123.5 -12.7L-122.0 -19.0L-120.0 -25.3L-117.3 -31.5L-114.0 -37.6L-110.2 -43.5L-105.6 -49.4L-100.5 -55.1L-94.6 -60.6L-88.0 -65.8L-80.7 -70.9L-72.4 -75.7L-63.2 -80.2L-52.8 -84.3L-40.6 -87.9L-25.8 -91.0L-0.0 -93.0"  stroke="#b4b4b4" stroke-width="0.45" fill="none"/>
<path d="M-0.5 -93.0V93.0"  stroke="#b8b8b8" stroke-width="0.8" fill="none"/>
<path d="M0.0 93.0L25.8 91.0L40.6 87.9L52.8 84.3L63.2 80.2L72.4 75.7L80.7 70.9L88.0 65.8L94.6 60.6L100.5 55.1L105.6 49.4L110.2 43.5L114.0 37.6L117.3 31.5L120.0 25.3L122.0 19.0L123.5 12.7L124.4 6.4L124.7 -0.0L124.4 -6.4L123.5 -12.7L122.0 -19.0L120.0 -25.3L117.3 -31.5L114.0 -37.6L110.2 -43.5L105.6 -49.4L100.5 -55.1L94.6 -60.6L88.0 -65.8L80.7 -70.9L72.4 -75.7L63.2 -80.2L52.8 -84.3L40.6 -87.9L25.8 -91.0L0.0 -93.0"  stroke="#b4b4b4" stroke-width="0.45" fill="none"/>
<g fill="none" stroke="#000" stroke-width="1.25" stroke-linejoin="round"><use href="#land"/><use href="#gl"/><use href="#ant"/><use href="#holes"/></g>
</g>
<ellipse rx="187.0" ry="93.0" fill="none" stroke="#000" stroke-width="1.4"/>
<text x="0" y="-103.1" font-size="23" text-anchor="middle">depth = 30 cm</text>
<text x="-120.0" y="-65.9" font-size="19.5" text-anchor="end">60°N</text>
<text x="-170.1" y="-32.6" font-size="19.5" text-anchor="end">30°N</text>
<text x="-186.0" y="5.0" font-size="19.5" text-anchor="end">0°</text>
<text x="-170.1" y="42.6" font-size="19.5" text-anchor="end">30°S</text>
<text x="-120.0" y="76.6" font-size="19.5" text-anchor="end">60°S</text>
<text x="-93.5" y="76.6" font-size="19" text-anchor="middle">120°W</text>
<text x="0" y="76.6" font-size="19" text-anchor="middle">0°</text>
<text x="95.3" y="76.6" font-size="19" text-anchor="middle">120°E</text>
</g>
<g transform="translate(1137 796)">
<ellipse rx="187.0" ry="93.0" fill="#f0f0f0"/>
<g clip-path="url(#ell)">
<use href="#ws" fill="#fff"/><use href="#ant" fill="#f3f3f3"/><use href="#gl" fill="#fff"/><use href="#land" fill="#fff"/>
<g clip-path="url(#cl)"><g filter="url(#cm2)"><rect x="-190" y="-95" width="380" height="190" fill="url(#z23)"/><ellipse cx="8.9" cy="-28.4" rx="30.7" ry="10.5" fill="url(#rf216)" opacity="0.95"/><ellipse cx="-8.0" cy="-26.5" rx="11.9" ry="7.4" fill="url(#r252)" opacity="0.8"/><ellipse cx="21.9" cy="-26.5" rx="15.9" ry="7.4" fill="url(#r224)" opacity="0.7"/><ellipse cx="44.5" cy="-28.4" rx="9.9" ry="11.1" fill="url(#rf252)" opacity="0.95"/><ellipse cx="38.2" cy="-41.2" rx="7.5" ry="4.8" fill="url(#r192)" opacity="0.8"/><ellipse cx="14.3" cy="-37.6" rx="24.7" ry="5.4" fill="url(#r196)" opacity="0.8"/><ellipse cx="46.9" cy="-40.0" rx="11.3" ry="6.0" fill="url(#r192)" opacity="0.8"/><ellipse cx="8.2" cy="-12.7" rx="30.9" ry="3.8" fill="url(#r164)" opacity="0.4"/><ellipse cx="52.9" cy="-38.8" rx="9.4" ry="7.2" fill="url(#r188)" opacity="0.75"/><ellipse cx="66.7" cy="-33.9" rx="6.8" ry="7.3" fill="url(#r192)" opacity="0.8"/><ellipse cx="54.6" cy="-49.4" rx="9.7" ry="5.8" fill="url(#r172)" opacity="0.7"/><ellipse cx="77.7" cy="-26.5" rx="8.0" ry="11.2" fill="url(#r176)" opacity="0.6"/><ellipse cx="82.6" cy="-41.8" rx="16.7" ry="7.7" fill="url(#r60)" opacity="1" transform="rotate(-8 82.6 -41.8)"/><ellipse cx="79.2" cy="-49.4" rx="7.9" ry="2.9" fill="url(#r160)" opacity="0.6"/><ellipse cx="82.8" cy="-56.2" rx="10.8" ry="5.6" fill="url(#r88)" opacity="0.45"/><ellipse cx="73.7" cy="-75.7" rx="20.5" ry="7.4" fill="url(#r16)" opacity="0.6"/><ellipse cx="38.7" cy="-72.8" rx="16.1" ry="5.8" fill="url(#r72)" opacity="0.3"/><ellipse cx="109.3" cy="-37.6" rx="8.6" ry="7.2" fill="url(#r152)" opacity="0.4"/><ellipse cx="103.4" cy="-20.3" rx="8.1" ry="10.0" fill="url(#r156)" opacity="0.4"/><ellipse cx="124.7" cy="-0.0" rx="29.1" ry="7.6" fill="url(#r156)" opacity="0.5"/><ellipse cx="145.1" cy="6.4" rx="8.3" ry="5.1" fill="url(#r152)" opacity="0.5"/><ellipse cx="-102.8" cy="-43.5" rx="8.3" ry="10.6" fill="url(#r176)" opacity="0.75"/><ellipse cx="-91.8" cy="-43.5" rx="7.3" ry="8.3" fill="url(#r164)" opacity="0.45"/><ellipse cx="-65.2" cy="-62.7" rx="12.3" ry="9.5" fill="url(#r40)" opacity="0.7"/><ellipse cx="-72.6" cy="-70.9" rx="18.8" ry="7.9" fill="url(#r32)" opacity="0.65"/><ellipse cx="-89.3" cy="-68.9" rx="11.2" ry="8.0" fill="url(#r48)" opacity="0.6"/><ellipse cx="-77.4" cy="-44.7" rx="8.2" ry="5.9" fill="url(#r144)" opacity="0.4"/><ellipse cx="-100.2" cy="-30.3" rx="5.9" ry="7.4" fill="url(#r168)" opacity="0.4"/><ellipse cx="4.2" cy="-55.1" rx="9.2" ry="6.7" fill="url(#r140)" opacity="0.5"/><ellipse cx="23.0" cy="-62.7" rx="11.5" ry="6.4" fill="url(#r112)" opacity="0.4"/><ellipse cx="-3.5" cy="-49.4" rx="4.4" ry="4.6" fill="url(#r164)" opacity="0.7"/><ellipse cx="32.3" cy="-58.4" rx="14.6" ry="5.5" fill="url(#r136)" opacity="0.4"/><ellipse cx="9.5" cy="-73.8" rx="5.1" ry="4.7" fill="url(#r56)" opacity="0.3"/><ellipse cx="-77.5" cy="14.0" rx="2.3" ry="11.4" fill="url(#r124)" opacity="0.7" transform="rotate(-38 -77.5 14.0)"/><ellipse cx="-68.3" cy="30.3" rx="2.0" ry="9.8" fill="url(#r124)" opacity="0.7"/><ellipse cx="-60.5" cy="51.7" rx="4.3" ry="11.4" fill="url(#r44)" opacity="0.6"/><ellipse cx="-51.2" cy="15.3" rx="13.3" ry="12.6" fill="url(#r180)" opacity="0.6"/><ellipse cx="-64.4" cy="2.5" rx="9.3" ry="7.6" fill="url(#r164)" opacity="0.3"/><ellipse cx="-59.6" cy="35.1" rx="5.8" ry="6.1" fill="url(#r156)" opacity="0.3"/><ellipse cx="22.4" cy="17.8" rx="13.3" ry="12.6" fill="url(#r176)" opacity="0.5"/><ellipse cx="39.4" cy="-6.4" rx="5.2" ry="8.9" fill="url(#r152)" opacity="0.5"/><ellipse cx="22.9" cy="-1.3" rx="10.4" ry="5.1" fill="url(#r156)" opacity="0.4"/><ellipse cx="23.8" cy="37.6" rx="7.6" ry="4.8" fill="url(#r144)" opacity="0.4"/><ellipse cx="129.9" cy="27.8" rx="18.8" ry="12.4" fill="url(#r184)" opacity="0.85"/><ellipse cx="134.0" cy="43.5" rx="6.4" ry="5.9" fill="url(#r136)" opacity="0.5"/><ellipse cx="110.7" cy="40.0" rx="5.6" ry="4.8" fill="url(#r140)" opacity="0.4"/></g></g>
<use href="#holes" fill="#fff"/>
<path d="M-121.0 70.5H121.0" stroke="#b0b0b0" stroke-width="0.8" fill="none"/>
<path d="M-171.1 37.5H171.1" stroke="#b0b0b0" stroke-width="0.8" fill="none"/>
<path d="M-187.0 0.5H187.0" stroke="#b0b0b0" stroke-width="0.8" fill="none"/>
<path d="M-171.1 -37.5H171.1" stroke="#b0b0b0" stroke-width="0.8" fill="none"/>
<path d="M-121.0 -70.5H121.0" stroke="#b0b0b0" stroke-width="0.8" fill="none"/>
<path d="M-0.0 93.0L-25.8 91.0L-40.6 87.9L-52.8 84.3L-63.2 80.2L-72.4 75.7L-80.7 70.9L-88.0 65.8L-94.6 60.6L-100.5 55.1L-105.6 49.4L-110.2 43.5L-114.0 37.6L-117.3 31.5L-120.0 25.3L-122.0 19.0L-123.5 12.7L-124.4 6.4L-124.7 -0.0L-124.4 -6.4L-123.5 -12.7L-122.0 -19.0L-120.0 -25.3L-117.3 -31.5L-114.0 -37.6L-110.2 -43.5L-105.6 -49.4L-100.5 -55.1L-94.6 -60.6L-88.0 -65.8L-80.7 -70.9L-72.4 -75.7L-63.2 -80.2L-52.8 -84.3L-40.6 -87.9L-25.8 -91.0L-0.0 -93.0"  stroke="#b4b4b4" stroke-width="0.45" fill="none"/>
<path d="M-0.5 -93.0V93.0"  stroke="#a0a0a0" stroke-width="0.8" fill="none"/>
<path d="M0.0 93.0L25.8 91.0L40.6 87.9L52.8 84.3L63.2 80.2L72.4 75.7L80.7 70.9L88.0 65.8L94.6 60.6L100.5 55.1L105.6 49.4L110.2 43.5L114.0 37.6L117.3 31.5L120.0 25.3L122.0 19.0L123.5 12.7L124.4 6.4L124.7 -0.0L124.4 -6.4L123.5 -12.7L122.0 -19.0L120.0 -25.3L117.3 -31.5L114.0 -37.6L110.2 -43.5L105.6 -49.4L100.5 -55.1L94.6 -60.6L88.0 -65.8L80.7 -70.9L72.4 -75.7L63.2 -80.2L52.8 -84.3L40.6 -87.9L25.8 -91.0L0.0 -93.0"  stroke="#b4b4b4" stroke-width="0.45" fill="none"/>
<g fill="none" stroke="#000" stroke-width="1.25" stroke-linejoin="round"><use href="#land"/><use href="#gl"/><use href="#ant"/><use href="#holes"/></g>
</g>
<ellipse rx="187.0" ry="93.0" fill="none" stroke="#000" stroke-width="1.4"/>
<text x="0" y="-103.1" font-size="23" text-anchor="middle">depth = 30 cm</text>
<text x="-120.0" y="-65.9" font-size="19.5" text-anchor="end">60°N</text>
<text x="-170.1" y="-32.6" font-size="19.5" text-anchor="end">30°N</text>
<text x="-186.0" y="5.0" font-size="19.5" text-anchor="end">0°</text>
<text x="-170.1" y="42.6" font-size="19.5" text-anchor="end">30°S</text>
<text x="-120.0" y="76.6" font-size="19.5" text-anchor="end">60°S</text>
<text x="-93.5" y="76.6" font-size="19" text-anchor="middle">120°W</text>
<text x="0" y="76.6" font-size="19" text-anchor="middle">0°</text>
<text x="95.3" y="76.6" font-size="19" text-anchor="middle">120°E</text>
</g>
<g transform="translate(1589 796)">
<ellipse rx="187.0" ry="93.0" fill="#f0f0f0"/>
<g clip-path="url(#ell)">
<use href="#ws" fill="#fff"/><use href="#ant" fill="#f3f3f3"/><use href="#gl" fill="#fff"/><use href="#land" fill="#fff"/>
<g clip-path="url(#cl)"><g clip-path="url(#nc)"><g filter="url(#cm3)"><rect x="-190" y="-95" width="380" height="190" fill="url(#z33)"/><ellipse cx="69.3" cy="-66.9" rx="34.7" ry="10.7" fill="url(#rf0)" opacity="0.95"/><ellipse cx="79.9" cy="-59.5" rx="27.2" ry="7.6" fill="url(#rf0)" opacity="0.85"/><ellipse cx="82.3" cy="-42.4" rx="15.7" ry="7.1" fill="url(#r0)" opacity="1" transform="rotate(-8 82.3 -42.4)"/><ellipse cx="86.2" cy="-55.1" rx="15.1" ry="7.8" fill="url(#r0)" opacity="0.9"/><ellipse cx="102.3" cy="-57.3" rx="8.2" ry="7.7" fill="url(#r0)" opacity="0.75"/><ellipse cx="50.7" cy="-57.3" rx="13.1" ry="6.6" fill="url(#r4)" opacity="0.65"/><ellipse cx="100.4" cy="-47.1" rx="7.2" ry="4.7" fill="url(#r24)" opacity="0.6"/><ellipse cx="82.1" cy="-51.7" rx="25.9" ry="5.7" fill="url(#r0)" opacity="0.8"/><ellipse cx="-70.0" cy="-66.9" rx="17.3" ry="10.2" fill="url(#r0)" opacity="0.8"/><ellipse cx="-102.1" cy="-55.1" rx="5.0" ry="10.0" fill="url(#r64)" opacity="0.55"/><ellipse cx="-108.3" cy="-43.5" rx="4.6" ry="5.9" fill="url(#r108)" opacity="0.4"/><ellipse cx="-76.4" cy="-41.2" rx="7.5" ry="4.8" fill="url(#r108)" opacity="0.4"/><ellipse cx="4.0" cy="-58.4" rx="8.9" ry="7.7" fill="url(#r76)" opacity="0.7"/><ellipse cx="-3.5" cy="-49.4" rx="4.4" ry="4.6" fill="url(#r96)" opacity="0.5"/><ellipse cx="18.3" cy="-65.8" rx="9.5" ry="6.2" fill="url(#r28)" opacity="0.3"/><ellipse cx="13.0" cy="-51.7" rx="8.6" ry="3.4" fill="url(#r88)" opacity="0.4"/><ellipse cx="34.0" cy="-12.7" rx="10.3" ry="10.1" fill="url(#r188)" opacity="0.8"/><ellipse cx="-5.1" cy="-19.0" rx="15.3" ry="6.3" fill="url(#r180)" opacity="0.75"/><ellipse cx="15.3" cy="-16.5" rx="10.2" ry="5.0" fill="url(#r176)" opacity="0.5"/><ellipse cx="15.7" cy="-30.3" rx="15.7" ry="7.4" fill="url(#r144)" opacity="0.5"/><ellipse cx="8.2" cy="-11.5" rx="10.3" ry="5.1" fill="url(#r168)" opacity="0.4"/><ellipse cx="29.7" cy="-27.8" rx="5.9" ry="6.2" fill="url(#r152)" opacity="0.3"/><ellipse cx="45.6" cy="-27.8" rx="7.9" ry="9.9" fill="url(#r156)" opacity="0.4"/><ellipse cx="78.6" cy="-22.8" rx="7.1" ry="11.2" fill="url(#r152)" opacity="0.4"/><ellipse cx="102.7" cy="-19.0" rx="8.1" ry="10.1" fill="url(#r156)" opacity="0.4"/><ellipse cx="110.3" cy="-33.9" rx="8.7" ry="7.3" fill="url(#r96)" opacity="0.5"/><ellipse cx="124.7" cy="-0.0" rx="31.2" ry="7.6" fill="url(#r152)" opacity="0.45"/><ellipse cx="145.1" cy="6.4" rx="8.3" ry="5.1" fill="url(#r152)" opacity="0.4"/><ellipse cx="20.5" cy="31.5" rx="9.8" ry="9.8" fill="url(#r208)" opacity="0.9"/><ellipse cx="26.8" cy="12.7" rx="11.3" ry="7.6" fill="url(#r152)" opacity="0.45"/><ellipse cx="33.0" cy="25.3" rx="5.0" ry="7.5" fill="url(#r168)" opacity="0.4"/><ellipse cx="47.2" cy="24.1" rx="3.0" ry="8.7" fill="url(#r160)" opacity="0.3"/><ellipse cx="128.7" cy="30.3" rx="16.7" ry="10.5" fill="url(#rf216)" opacity="0.95"/><ellipse cx="117.3" cy="31.5" rx="5.9" ry="7.4" fill="url(#r200)" opacity="0.5"/><ellipse cx="132.8" cy="45.9" rx="5.4" ry="4.7" fill="url(#r152)" opacity="0.6"/><ellipse cx="-77.5" cy="14.0" rx="2.3" ry="11.4" fill="url(#r124)" opacity="0.6" transform="rotate(-38 -77.5 14.0)"/><ellipse cx="-68.3" cy="30.3" rx="2.0" ry="9.8" fill="url(#r124)" opacity="0.6"/><ellipse cx="-63.8" cy="44.7" rx="3.2" ry="11.7" fill="url(#r124)" opacity="0.5"/><ellipse cx="-42.2" cy="12.7" rx="6.2" ry="11.4" fill="url(#r180)" opacity="0.7"/><ellipse cx="-62.2" cy="6.4" rx="13.5" ry="10.2" fill="url(#r152)" opacity="0.4"/><ellipse cx="-59.3" cy="36.4" rx="7.6" ry="8.5" fill="url(#r180)" opacity="0.7"/><ellipse cx="-56.9" cy="55.1" rx="4.2" ry="6.7" fill="url(#r140)" opacity="0.4"/><ellipse cx="22.9" cy="-0.0" rx="10.4" ry="7.6" fill="url(#r152)" opacity="0.4"/><ellipse cx="-101.2" cy="-30.3" rx="6.9" ry="7.4" fill="url(#r136)" opacity="0.45"/><ellipse cx="-89.2" cy="-20.3" rx="6.1" ry="5.0" fill="url(#r152)" opacity="0.4"/><ellipse cx="56.3" cy="-40.0" rx="8.4" ry="6.0" fill="url(#r96)" opacity="0.45"/><ellipse cx="94.1" cy="-70.9" rx="14.8" ry="5.9" fill="url(#r0)" opacity="0.5"/></g></g></g>
<use href="#holes" fill="#fff"/>
<path d="M-121.0 70.5H121.0" stroke="#b0b0b0" stroke-width="0.8" fill="none"/>
<path d="M-171.1 37.5H171.1" stroke="#b0b0b0" stroke-width="0.8" fill="none"/>
<path d="M-187.0 0.5H187.0" stroke="#b0b0b0" stroke-width="0.8" fill="none"/>
<path d="M-171.1 -37.5H171.1" stroke="#b0b0b0" stroke-width="0.8" fill="none"/>
<path d="M-121.0 -70.5H121.0" stroke="#b0b0b0" stroke-width="0.8" fill="none"/>
<path d="M-0.0 93.0L-25.8 91.0L-40.6 87.9L-52.8 84.3L-63.2 80.2L-72.4 75.7L-80.7 70.9L-88.0 65.8L-94.6 60.6L-100.5 55.1L-105.6 49.4L-110.2 43.5L-114.0 37.6L-117.3 31.5L-120.0 25.3L-122.0 19.0L-123.5 12.7L-124.4 6.4L-124.7 -0.0L-124.4 -6.4L-123.5 -12.7L-122.0 -19.0L-120.0 -25.3L-117.3 -31.5L-114.0 -37.6L-110.2 -43.5L-105.6 -49.4L-100.5 -55.1L-94.6 -60.6L-88.0 -65.8L-80.7 -70.9L-72.4 -75.7L-63.2 -80.2L-52.8 -84.3L-40.6 -87.9L-25.8 -91.0L-0.0 -93.0"  stroke="#b4b4b4" stroke-width="0.45" fill="none"/>
<path d="M-0.5 -93.0V93.0"  stroke="#a0a0a0" stroke-width="0.8" fill="none"/>
<path d="M0.0 93.0L25.8 91.0L40.6 87.9L52.8 84.3L63.2 80.2L72.4 75.7L80.7 70.9L88.0 65.8L94.6 60.6L100.5 55.1L105.6 49.4L110.2 43.5L114.0 37.6L117.3 31.5L120.0 25.3L122.0 19.0L123.5 12.7L124.4 6.4L124.7 -0.0L124.4 -6.4L123.5 -12.7L122.0 -19.0L120.0 -25.3L117.3 -31.5L114.0 -37.6L110.2 -43.5L105.6 -49.4L100.5 -55.1L94.6 -60.6L88.0 -65.8L80.7 -70.9L72.4 -75.7L63.2 -80.2L52.8 -84.3L40.6 -87.9L25.8 -91.0L0.0 -93.0"  stroke="#b4b4b4" stroke-width="0.45" fill="none"/>
<g fill="none" stroke="#000" stroke-width="1.25" stroke-linejoin="round"><use href="#land"/><use href="#gl"/><use href="#ant"/><use href="#holes"/></g>
</g>
<ellipse rx="187.0" ry="93.0" fill="none" stroke="#000" stroke-width="1.4"/>
<text x="0" y="-103.1" font-size="23" text-anchor="middle">depth = 30 cm</text>
<text x="-120.0" y="-65.9" font-size="19.5" text-anchor="end">60°N</text>
<text x="-170.1" y="-32.6" font-size="19.5" text-anchor="end">30°N</text>
<text x="-186.0" y="5.0" font-size="19.5" text-anchor="end">0°</text>
<text x="-170.1" y="42.6" font-size="19.5" text-anchor="end">30°S</text>
<text x="-120.0" y="76.6" font-size="19.5" text-anchor="end">60°S</text>
<text x="-93.5" y="76.6" font-size="19" text-anchor="middle">120°W</text>
<text x="0" y="76.6" font-size="19" text-anchor="middle">0°</text>
<text x="95.3" y="76.6" font-size="19" text-anchor="middle">120°E</text>
</g>
<text x="233" y="944.5" font-size="26" text-anchor="middle">Vernal Equinox</text>
<text x="685" y="944.5" font-size="26" text-anchor="middle">Summer Solstice</text>
<text x="1137" y="944.5" font-size="26" text-anchor="middle">Autumnal Equinox</text>
<text x="1589" y="944.5" font-size="26" text-anchor="middle">Winter Solstice</text>
<rect x="497.5" y="976.5" width="826" height="19" fill="url(#cb)" stroke="#000" stroke-width="1"/>
<path d="M497.5 995.5V1001" stroke="#000" stroke-width="1"/>
<text x="497.5" y="1022.4" font-size="22" text-anchor="middle">260</text>
<path d="M635.5 995.5V1001" stroke="#000" stroke-width="1"/>
<text x="635.2" y="1022.4" font-size="22" text-anchor="middle">270</text>
<path d="M772.5 995.5V1001" stroke="#000" stroke-width="1"/>
<text x="772.8" y="1022.4" font-size="22" text-anchor="middle">280</text>
<path d="M910.5 995.5V1001" stroke="#000" stroke-width="1"/>
<text x="910.5" y="1022.4" font-size="22" text-anchor="middle">290</text>
<path d="M1048.5 995.5V1001" stroke="#000" stroke-width="1"/>
<text x="1048.2" y="1022.4" font-size="22" text-anchor="middle">300</text>
<path d="M1185.5 995.5V1001" stroke="#000" stroke-width="1"/>
<text x="1185.8" y="1022.4" font-size="22" text-anchor="middle">310</text>
<path d="M1323.5 995.5V1001" stroke="#000" stroke-width="1"/>
<text x="1323.5" y="1022.4" font-size="22" text-anchor="middle">320</text>
<text x="910.5" y="1052" font-size="26" text-anchor="middle">Soil temperature (K)</text>
</svg></body></html>
